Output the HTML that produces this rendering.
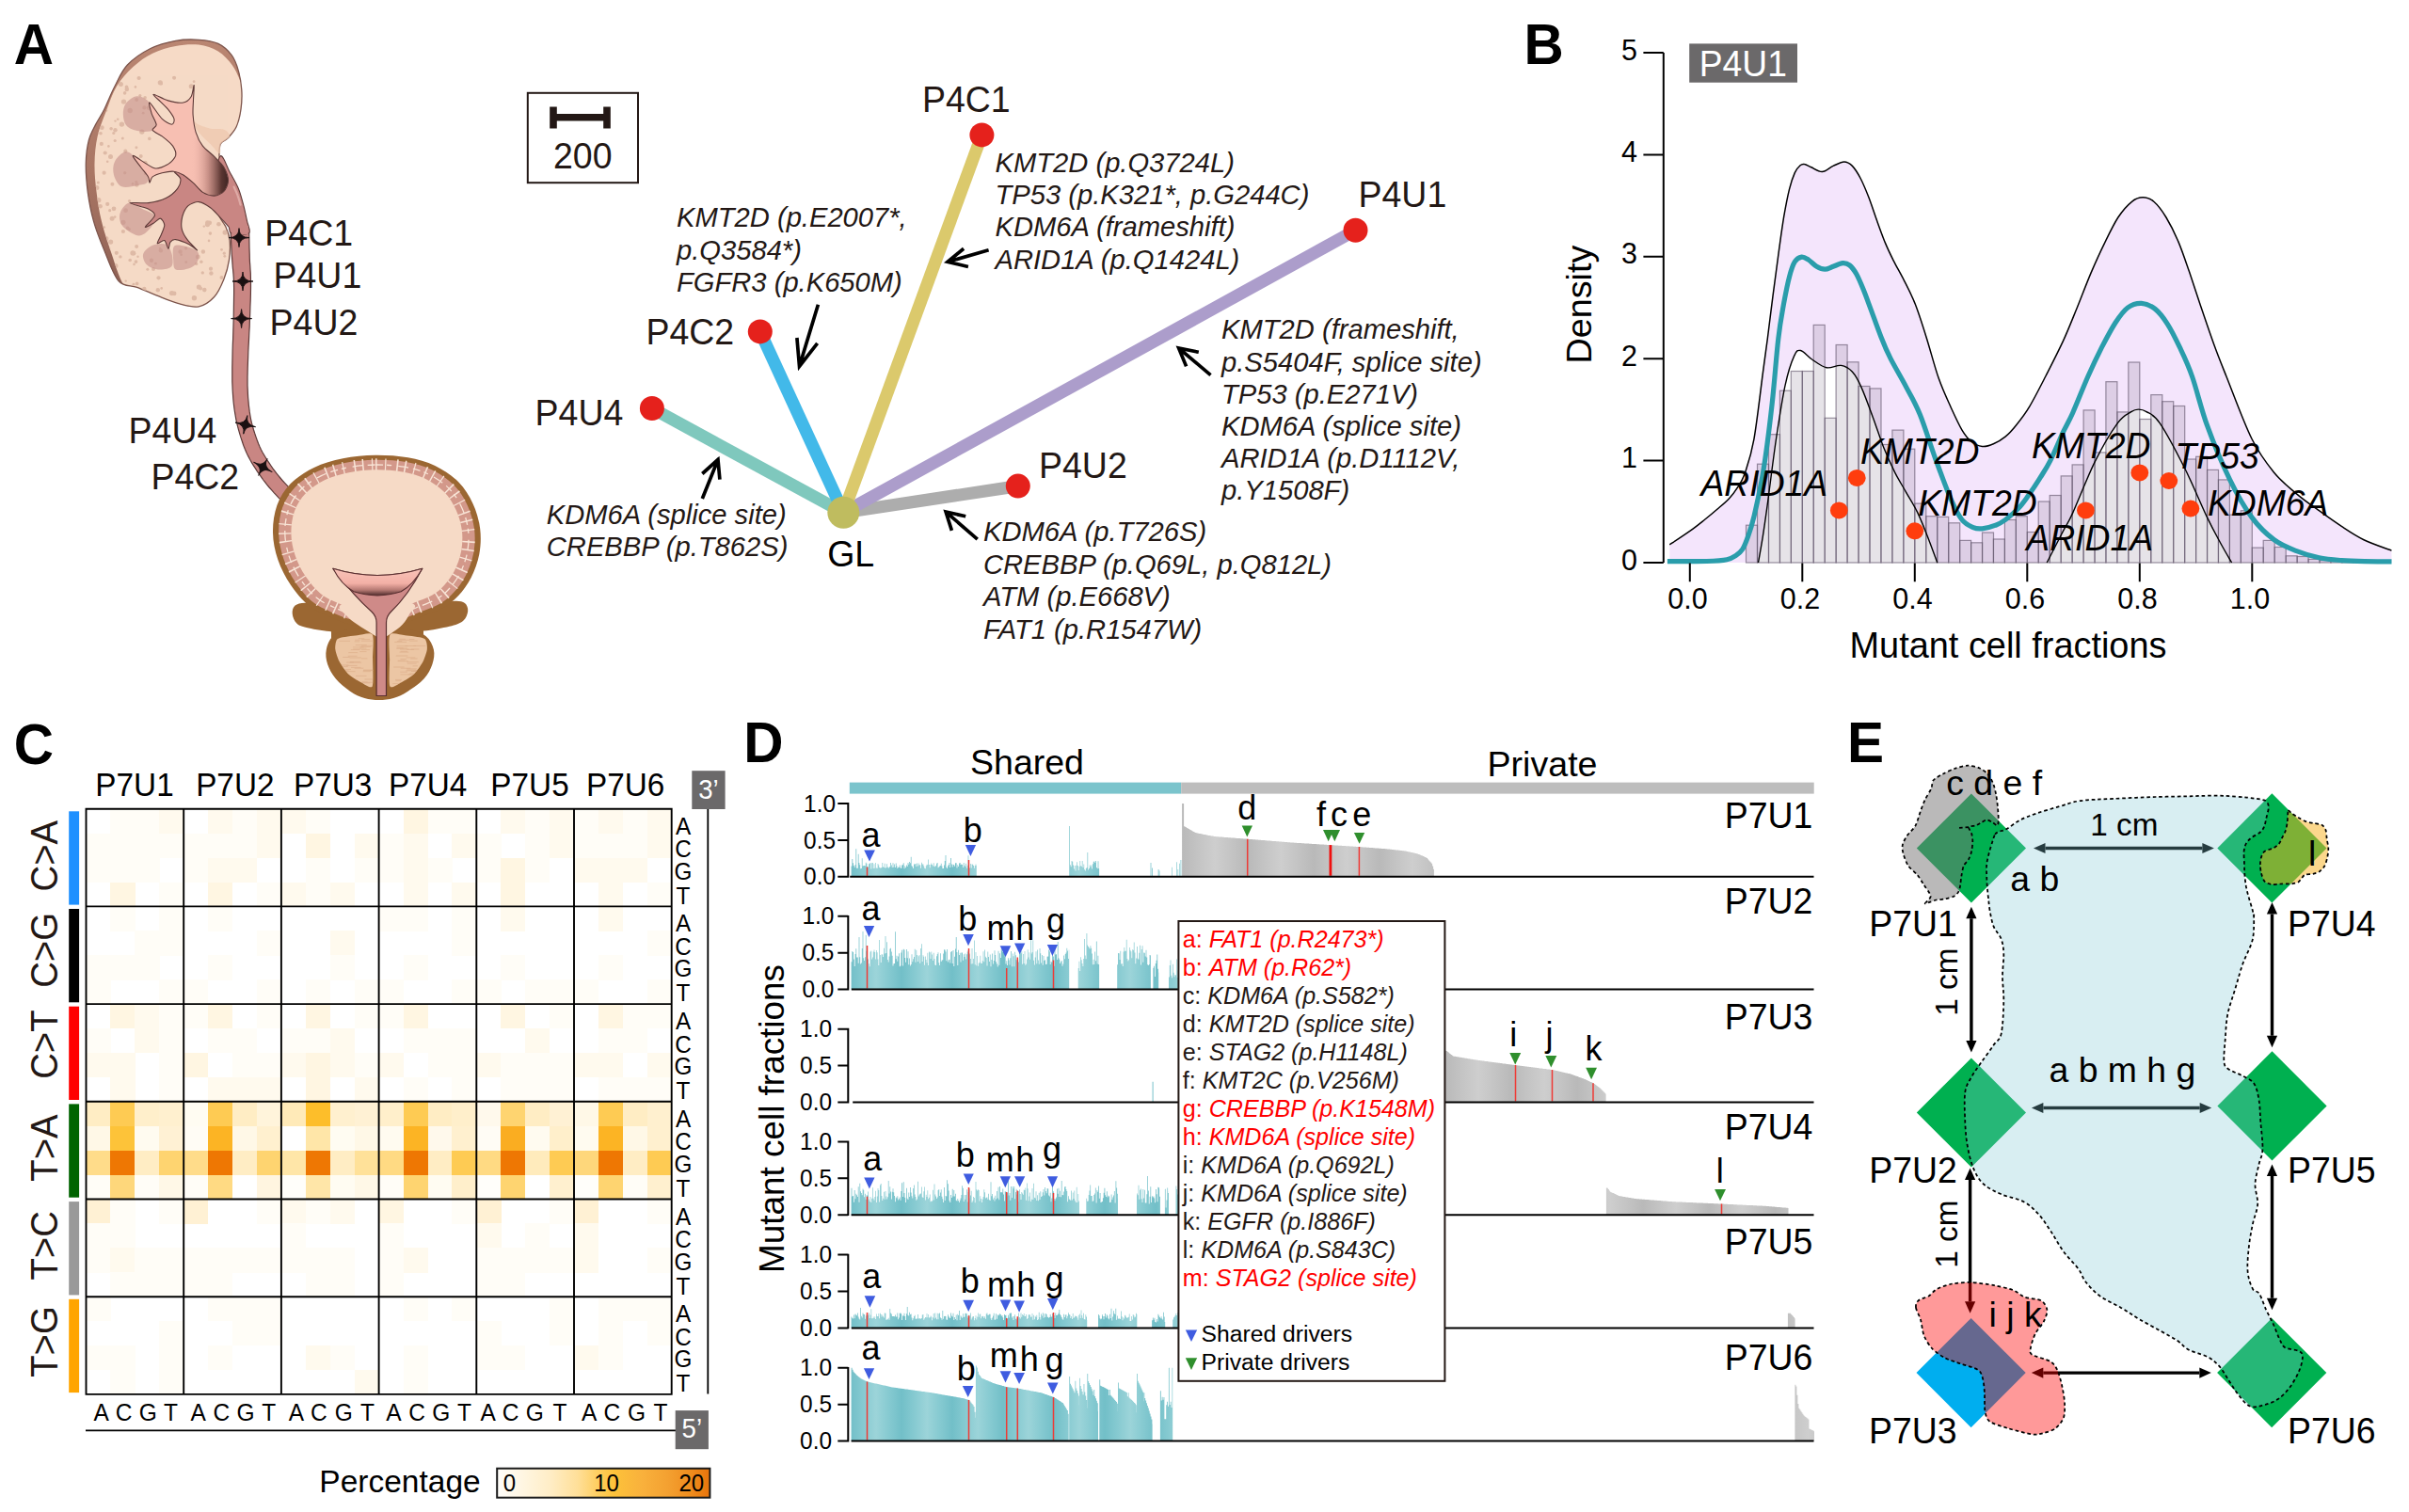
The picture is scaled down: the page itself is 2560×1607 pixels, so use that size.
<!DOCTYPE html>
<html lang="en"><head><meta charset="utf-8"><title>Figure</title>
<style>
html,body{margin:0;padding:0;background:#fff;}
body{width:2560px;height:1607px;overflow:hidden;}
svg{display:block;font-family:"Liberation Sans", sans-serif;}
text{white-space:pre;}
</style></head><body>
<svg width="2560" height="1607" viewBox="0 0 2560 1607">
<rect width="2560" height="1607" fill="#fff"/>
<g id="panelA">
<path d="M245,244.4L245.2,247.8L245.4,252.6L245.7,258.3L246,264.3L246.3,270.2L246.7,275.5L247,280L247.3,284L247.7,287.7L248,291.3L248.3,295.4L248.5,300.1L248.6,305.8L248.6,312.1L248.5,318.9L248.4,325.9L248.3,332.9L248.2,339.7L248,346.5L247.8,353.4L247.6,360.3L247.3,367.1L247.1,373.6L247,379.8L246.9,385.4L246.8,390.7L246.8,395.8L246.8,400.7L246.8,405.5L247,410.2L247.2,414.9L247.5,419.4L247.8,423.8L248.2,428L248.7,432.1L249.2,436L249.8,439.7L250.4,443.2L251,446.6L251.8,450L252.6,453.4L253.6,457.1L254.7,460.9L255.9,464.9L257.3,469L258.7,473.2L260.3,477.3L262,481.2L263.8,484.9L265.7,488.5L267.6,491.9L269.6,495.1L271.6,498.2L273.6,501.3L275.6,504.2L277.7,507.1L279.7,510L281.8,512.7L283.9,515.3L286.1,518L288.5,520.7L291.1,523.6L293.7,526.3L296,528.8L298,530.8L299.4,532.3L310.6,521.7L309.1,520.2L307.1,518.1L304.8,515.7L302.4,513.1L300,510.5L297.9,508L295.9,505.6L293.9,503.2L292,500.7L290.1,498.1L288.3,495.5L286.4,492.7L284.5,489.9L282.7,487L280.9,484L279.1,481L277.5,478L276,474.8L274.6,471.5L273.2,467.8L271.9,464.1L270.6,460.3L269.4,456.5L268.4,452.9L267.5,449.7L266.8,446.6L266.2,443.6L265.7,440.6L265.2,437.4L264.8,434L264.3,430.3L264,426.4L263.6,422.5L263.4,418.4L263.2,414.1L263,409.8L263,405.3L263,400.8L263.1,396.1L263.2,391.1L263.4,385.8L263.6,380.2L263.8,374.2L264.1,367.7L264.5,361L264.8,354L265.2,347.1L265.4,340.3L265.7,333.4L265.9,326.3L266.2,319.2L266.4,312.3L266.5,305.8L266.5,299.9L266.4,294.7L266.3,290.2L266,286.2L265.8,282.5L265.5,278.7L265.3,274.5L265.2,269.4L265,263.6L264.9,257.6L264.8,251.9L264.7,247.1L264.6,243.6Z" fill="#c98683" stroke="#5e3a38" stroke-width="1.2" stroke-linejoin="round"/>
<defs><linearGradient id="rim" x1="0" y1="0" x2="0" y2="1"><stop offset="0" stop-color="#ba8672"/><stop offset="0.5" stop-color="#a97664"/><stop offset="1" stop-color="#8a5d52"/></linearGradient><clipPath id="kclip"><path d="M186.7,43.3C195.2,41.8 203.8,41.8 211.3,42.3C218.8,42.8 226,43.7 231.8,46.4C237.6,49.1 242.6,53.9 246.2,58.7C249.7,63.5 251.6,69 253.3,75.1C255.1,81.3 256.4,88.8 256.8,95.6C257.3,102.5 256.9,109.7 256,116.2C255.1,122.6 253.6,129.5 251.3,134.6C249,139.7 244.9,143.8 242.1,146.9C239.2,150 235.8,150 234.3,153.1C232.8,156.2 233,161.3 233,165.4C233,169.5 234.1,172.9 234.3,177.7C234.4,182.5 234.2,188.6 233.8,194.1C233.5,199.6 232.5,205 232.2,210.5C231.9,216 230.5,221.8 231.8,226.9C233.1,232.1 237.9,236.5 240,241.3C242.1,246.1 243.5,249.8 244.1,255.6C244.7,261.5 244.5,269.3 243.5,276.2C242.5,283 240.6,290.1 237.9,296.7C235.3,303.2 232.1,310.7 227.7,315.5C223.2,320.4 217.4,324.6 211.3,325.8C205.1,327 197.9,324.8 190.8,322.9C183.6,321.1 175.7,317.7 168.2,314.7C160.7,311.8 152.6,307.9 145.6,305.3C138.6,302.6 132,305.3 126.2,298.7C120.3,292.2 115.2,276.5 110.8,265.9C106.3,255.3 102.4,245.4 99.5,235.1C96.6,224.9 94.7,214.6 93.3,204.4C92,194.1 91.1,182.8 91.3,173.6C91.5,164.4 92.6,155.8 94.4,149C96.1,142.1 98.8,138 101.5,132.6C104.3,127.1 107.4,123 110.8,116.2C114.2,109.3 117.9,99.4 122.1,91.5C126.2,83.7 129.1,75.6 135.4,69C141.7,62.3 151.5,55.8 160,51.5C168.5,47.3 178.1,44.9 186.7,43.3Z"/></clipPath></defs>
<path d="M186.7,43.3C195.2,41.8 203.8,41.8 211.3,42.3C218.8,42.8 226,43.7 231.8,46.4C237.6,49.1 242.6,53.9 246.2,58.7C249.7,63.5 251.6,69 253.3,75.1C255.1,81.3 256.4,88.8 256.8,95.6C257.3,102.5 256.9,109.7 256,116.2C255.1,122.6 253.6,129.5 251.3,134.6C249,139.7 244.9,143.8 242.1,146.9C239.2,150 235.8,150 234.3,153.1C232.8,156.2 233,161.3 233,165.4C233,169.5 234.1,172.9 234.3,177.7C234.4,182.5 234.2,188.6 233.8,194.1C233.5,199.6 232.5,205 232.2,210.5C231.9,216 230.5,221.8 231.8,226.9C233.1,232.1 237.9,236.5 240,241.3C242.1,246.1 243.5,249.8 244.1,255.6C244.7,261.5 244.5,269.3 243.5,276.2C242.5,283 240.6,290.1 237.9,296.7C235.3,303.2 232.1,310.7 227.7,315.5C223.2,320.4 217.4,324.6 211.3,325.8C205.1,327 197.9,324.8 190.8,322.9C183.6,321.1 175.7,317.7 168.2,314.7C160.7,311.8 152.6,307.9 145.6,305.3C138.6,302.6 132,305.3 126.2,298.7C120.3,292.2 115.2,276.5 110.8,265.9C106.3,255.3 102.4,245.4 99.5,235.1C96.6,224.9 94.7,214.6 93.3,204.4C92,194.1 91.1,182.8 91.3,173.6C91.5,164.4 92.6,155.8 94.4,149C96.1,142.1 98.8,138 101.5,132.6C104.3,127.1 107.4,123 110.8,116.2C114.2,109.3 117.9,99.4 122.1,91.5C126.2,83.7 129.1,75.6 135.4,69C141.7,62.3 151.5,55.8 160,51.5C168.5,47.3 178.1,44.9 186.7,43.3Z" fill="url(#rim)"/>
<defs><clipPath id="kin"><path d="M186.7,48.9C194.9,47.4 203.8,46.7 211.3,47.6C218.8,48.6 225.9,51.1 231.8,54.6C237.7,58.2 242.8,64.1 246.6,69C250.3,73.8 252.4,79.3 254.4,83.7C256.3,88.2 257.8,90.2 258.5,95.6C259.1,101 259.1,109.3 258.5,116.2C257.8,123 256.8,131.2 254.4,136.7C252,142.1 247.2,145.9 244.1,149C241,152.1 237.4,152.4 235.9,155.1C234.4,157.9 235.1,161.6 235.1,165.4C235.1,169.1 235.8,172.9 235.9,177.7C236,182.5 236.2,188.6 235.9,194.1C235.6,199.6 234.5,205 234.3,210.5C234,216 233,221.8 234.3,226.9C235.6,232.1 240,236.5 242.1,241.3C244.1,246.1 245.9,249.8 246.6,255.6C247.2,261.5 246.8,269 245.7,276.2C244.6,283.3 242.8,291.8 240,298.7C237.2,305.6 233.7,312.7 228.9,317.6C224.1,322.4 217.6,326.5 211.3,327.8C204.9,329.1 197.9,327.2 190.8,325.4C183.6,323.6 175.4,319.9 168.2,317.2C161,314.4 153.8,311.3 147.7,309C141.6,306.6 136.8,310.4 131.7,303.2C126.6,296.1 121.3,277.2 117.3,265.9C113.4,254.5 110.4,245.4 107.9,235.1C105.4,224.9 103.8,214.6 102.6,204.4C101.3,194.1 100.3,183.5 100.5,173.6C100.7,163.7 101.5,154.1 103.6,144.9C105.6,135.6 109.4,127.1 112.8,118.2C116.2,109.3 119.3,99.4 124.1,91.5C128.9,83.7 135.2,76.8 141.5,71C147.9,65.2 154.5,60.4 162.1,56.7C169.6,53 178.5,50.4 186.7,48.9Z"/></clipPath></defs>
<path d="M186.7,48.9C194.9,47.4 203.8,46.7 211.3,47.6C218.8,48.6 225.9,51.1 231.8,54.6C237.7,58.2 242.8,64.1 246.6,69C250.3,73.8 252.4,79.3 254.4,83.7C256.3,88.2 257.8,90.2 258.5,95.6C259.1,101 259.1,109.3 258.5,116.2C257.8,123 256.8,131.2 254.4,136.7C252,142.1 247.2,145.9 244.1,149C241,152.1 237.4,152.4 235.9,155.1C234.4,157.9 235.1,161.6 235.1,165.4C235.1,169.1 235.8,172.9 235.9,177.7C236,182.5 236.2,188.6 235.9,194.1C235.6,199.6 234.5,205 234.3,210.5C234,216 233,221.8 234.3,226.9C235.6,232.1 240,236.5 242.1,241.3C244.1,246.1 245.9,249.8 246.6,255.6C247.2,261.5 246.8,269 245.7,276.2C244.6,283.3 242.8,291.8 240,298.7C237.2,305.6 233.7,312.7 228.9,317.6C224.1,322.4 217.6,326.5 211.3,327.8C204.9,329.1 197.9,327.2 190.8,325.4C183.6,323.6 175.4,319.9 168.2,317.2C161,314.4 153.8,311.3 147.7,309C141.6,306.6 136.8,310.4 131.7,303.2C126.6,296.1 121.3,277.2 117.3,265.9C113.4,254.5 110.4,245.4 107.9,235.1C105.4,224.9 103.8,214.6 102.6,204.4C101.3,194.1 100.3,183.5 100.5,173.6C100.7,163.7 101.5,154.1 103.6,144.9C105.6,135.6 109.4,127.1 112.8,118.2C116.2,109.3 119.3,99.4 124.1,91.5C128.9,83.7 135.2,76.8 141.5,71C147.9,65.2 154.5,60.4 162.1,56.7C169.6,53 178.5,50.4 186.7,48.9Z" fill="#f6dac6" clip-path="url(#kclip)"/>
<path d="M186.7,43.3C195.2,41.8 203.8,41.8 211.3,42.3C218.8,42.8 226,43.7 231.8,46.4C237.6,49.1 242.6,53.9 246.2,58.7C249.7,63.5 251.6,69 253.3,75.1C255.1,81.3 256.4,88.8 256.8,95.6C257.3,102.5 256.9,109.7 256,116.2C255.1,122.6 253.6,129.5 251.3,134.6C249,139.7 244.9,143.8 242.1,146.9C239.2,150 235.8,150 234.3,153.1C232.8,156.2 233,161.3 233,165.4C233,169.5 234.1,172.9 234.3,177.7C234.4,182.5 234.2,188.6 233.8,194.1C233.5,199.6 232.5,205 232.2,210.5C231.9,216 230.5,221.8 231.8,226.9C233.1,232.1 237.9,236.5 240,241.3C242.1,246.1 243.5,249.8 244.1,255.6C244.7,261.5 244.5,269.3 243.5,276.2C242.5,283 240.6,290.1 237.9,296.7C235.3,303.2 232.1,310.7 227.7,315.5C223.2,320.4 217.4,324.6 211.3,325.8C205.1,327 197.9,324.8 190.8,322.9C183.6,321.1 175.7,317.7 168.2,314.7C160.7,311.8 152.6,307.9 145.6,305.3C138.6,302.6 132,305.3 126.2,298.7C120.3,292.2 115.2,276.5 110.8,265.9C106.3,255.3 102.4,245.4 99.5,235.1C96.6,224.9 94.7,214.6 93.3,204.4C92,194.1 91.1,182.8 91.3,173.6C91.5,164.4 92.6,155.8 94.4,149C96.1,142.1 98.8,138 101.5,132.6C104.3,127.1 107.4,123 110.8,116.2C114.2,109.3 117.9,99.4 122.1,91.5C126.2,83.7 129.1,75.6 135.4,69C141.7,62.3 151.5,55.8 160,51.5C168.5,47.3 178.1,44.9 186.7,43.3Z" fill="none" stroke="#7d554c" stroke-width="1.3"/>
<path d="M203.1,126.4C203.1,125 207.9,130.9 211.3,132.6C214.7,134.3 219.1,135.8 223.6,136.7C228,137.5 234.5,136.3 237.9,137.7C241.4,139.1 244.6,142.4 244.1,144.9C243.6,147.4 236.6,149.6 234.9,152.7C233.1,155.7 235.3,163.3 233.4,163.3C231.6,163.4 227.3,156.8 223.6,153.1C219.9,149.3 214.7,145.2 211.3,140.8C207.9,136.3 203.1,127.8 203.1,126.4Z" fill="#eec7ae" opacity="0.75"/>
<g clip-path="url(#kclip)"><g fill="#dcb6a2" opacity="0.9" clip-path="url(#kin)"><circle cx="217.3" cy="308.1" r="2.3"/><circle cx="167.8" cy="308.3" r="2.2"/><circle cx="100" cy="132.4" r="1.6"/><circle cx="235.5" cy="265.3" r="1.4"/><circle cx="129.4" cy="132.1" r="2.7"/><circle cx="239.1" cy="247.1" r="2.6"/><circle cx="152.2" cy="120.2" r="1.4"/><circle cx="107.8" cy="152.9" r="2.1"/><circle cx="98.5" cy="244.1" r="1.7"/><circle cx="144.5" cy="278.1" r="1.9"/><circle cx="145.4" cy="196.5" r="2.3"/><circle cx="101.4" cy="261.5" r="2.5"/><circle cx="100.7" cy="270.6" r="1.7"/><circle cx="184.8" cy="82.2" r="1.3"/><circle cx="125.1" cy="311.2" r="1.5"/><circle cx="211.4" cy="305" r="2.6"/><circle cx="149.7" cy="165.9" r="2"/><circle cx="210.3" cy="272.9" r="2.5"/><circle cx="111.7" cy="162.5" r="2.1"/><circle cx="144.9" cy="156.7" r="1.5"/><circle cx="109.7" cy="116" r="2.2"/><circle cx="133.6" cy="223.7" r="2.4"/><circle cx="102.9" cy="199.4" r="2.5"/><circle cx="117.6" cy="257.1" r="2.6"/><circle cx="192.6" cy="270.7" r="1.4"/><circle cx="166" cy="321.8" r="2.5"/><circle cx="158.6" cy="115.5" r="1.8"/><circle cx="148.8" cy="101.6" r="1.6"/><circle cx="215.3" cy="289.9" r="1.7"/><circle cx="215.9" cy="267.5" r="2.2"/><circle cx="197.6" cy="263.8" r="1.7"/><circle cx="170.9" cy="266.3" r="2.2"/><circle cx="142.1" cy="308.8" r="2.2"/><circle cx="185.1" cy="82.8" r="2"/><circle cx="135.6" cy="242.5" r="1.9"/><circle cx="220.5" cy="236.7" r="2.4"/><circle cx="208.7" cy="280.4" r="1.7"/><circle cx="224.4" cy="290.5" r="2.2"/><circle cx="122.9" cy="282.5" r="2.6"/><circle cx="123.8" cy="268.8" r="2.1"/><circle cx="191.6" cy="267.5" r="2.2"/><circle cx="206.1" cy="86.7" r="1.4"/><circle cx="130.9" cy="246" r="2.1"/><circle cx="104.3" cy="194.1" r="1.5"/><circle cx="106.1" cy="112.3" r="1.7"/><circle cx="125.2" cy="126.8" r="1.3"/><circle cx="133.7" cy="298.6" r="1.2"/><circle cx="158.8" cy="147.4" r="1.8"/><circle cx="115.3" cy="281.2" r="1.8"/><circle cx="103.4" cy="228.5" r="1.3"/><circle cx="185.1" cy="311.9" r="2.4"/><circle cx="160.9" cy="276.7" r="2.2"/><circle cx="153.4" cy="114.4" r="2.1"/><circle cx="182.6" cy="311.6" r="2.7"/><circle cx="114.2" cy="216.9" r="2.1"/><circle cx="119.1" cy="232.3" r="2.5"/><circle cx="154.4" cy="184.5" r="1.5"/><circle cx="141.7" cy="315.3" r="1.8"/><circle cx="141" cy="195.4" r="1.4"/><circle cx="142" cy="269.2" r="2.4"/><circle cx="100" cy="208.9" r="1.6"/><circle cx="238.3" cy="269.2" r="1.6"/><circle cx="138.2" cy="117.5" r="2.7"/><circle cx="115.7" cy="264" r="1.7"/><circle cx="103.5" cy="141.1" r="1.9"/><circle cx="235.5" cy="294.9" r="2"/><circle cx="100.2" cy="268.4" r="1.8"/><circle cx="156.8" cy="286.2" r="1.5"/><circle cx="142.5" cy="280.9" r="1.3"/><circle cx="223.4" cy="248.1" r="1.8"/><circle cx="141" cy="268.9" r="2.6"/><circle cx="119.4" cy="195.8" r="2"/><circle cx="121" cy="221.8" r="2.4"/><circle cx="108.3" cy="135.7" r="2.4"/><circle cx="216.8" cy="240.6" r="1.2"/><circle cx="206.4" cy="316.8" r="2.7"/><circle cx="203.2" cy="91.8" r="2.5"/><circle cx="130.9" cy="236.3" r="2.6"/><circle cx="141.9" cy="302.2" r="1.4"/><circle cx="122.2" cy="230.6" r="1.3"/><circle cx="114.2" cy="171.8" r="1.3"/><circle cx="106.6" cy="219.2" r="2.3"/><circle cx="106.4" cy="248.7" r="1.4"/><circle cx="234.6" cy="214.3" r="2.1"/><circle cx="137.5" cy="213.5" r="1.6"/><circle cx="118.1" cy="136.7" r="1.8"/><circle cx="110.8" cy="241.6" r="1.3"/><circle cx="116.7" cy="223.7" r="1.6"/><circle cx="146.5" cy="272.7" r="1.2"/><circle cx="120.6" cy="310.4" r="2.2"/><circle cx="131.5" cy="108.1" r="2.7"/><circle cx="197.8" cy="278.6" r="1.4"/><circle cx="133.3" cy="160.7" r="2.1"/><circle cx="150.3" cy="173.4" r="1.4"/><circle cx="222.7" cy="236.8" r="2.4"/><circle cx="163" cy="286.1" r="2"/><circle cx="128.4" cy="89.5" r="2.5"/><circle cx="170.1" cy="264" r="1.2"/><circle cx="168.5" cy="295.3" r="2.1"/><circle cx="113" cy="117.4" r="1.4"/><circle cx="154.2" cy="173.3" r="2.5"/><circle cx="120.8" cy="141.5" r="1.6"/><circle cx="122.2" cy="149.5" r="1.6"/><circle cx="170.3" cy="87.8" r="2.6"/><circle cx="153.3" cy="307" r="2.2"/><circle cx="122.5" cy="128.6" r="1.2"/><circle cx="132.6" cy="98.9" r="1.8"/><circle cx="144.8" cy="193.3" r="1.6"/><circle cx="122.5" cy="138.2" r="2.2"/><circle cx="239.1" cy="236.3" r="1.8"/><circle cx="107.1" cy="268.6" r="1.8"/><circle cx="104.7" cy="212.7" r="2.7"/><circle cx="112.1" cy="97.2" r="2.5"/><circle cx="171.7" cy="306.4" r="1.3"/><circle cx="134.5" cy="92.2" r="1.8"/><circle cx="107" cy="141.8" r="1.8"/><circle cx="143.9" cy="92.4" r="1.3"/><circle cx="145.1" cy="106.1" r="2"/><circle cx="100.6" cy="210.6" r="1.9"/><circle cx="165.4" cy="280" r="1.5"/><circle cx="115.4" cy="155.4" r="1.3"/><circle cx="213.9" cy="278.3" r="1.7"/><circle cx="117.5" cy="99.8" r="1.6"/><circle cx="110.6" cy="183.7" r="2.1"/><circle cx="134.8" cy="94.9" r="2.3"/><circle cx="105.2" cy="128.4" r="1.6"/><circle cx="154.1" cy="103.8" r="1.8"/><circle cx="145.1" cy="262.1" r="2"/><circle cx="232.4" cy="238.3" r="2.3"/><circle cx="220.5" cy="238.6" r="2.6"/><circle cx="138.2" cy="276.5" r="1.8"/><circle cx="117.5" cy="96" r="1.5"/><circle cx="137.4" cy="243.6" r="1.6"/><circle cx="107.5" cy="264.8" r="2"/><circle cx="117.5" cy="166.4" r="2.5"/><circle cx="132.7" cy="183.8" r="1.7"/><circle cx="147.6" cy="83" r="2.1"/><circle cx="222" cy="255.9" r="1.3"/><circle cx="238.8" cy="272.3" r="1.4"/><circle cx="145.6" cy="301.4" r="1.9"/><circle cx="213.1" cy="306.6" r="2"/><circle cx="113.5" cy="277.1" r="1.8"/><circle cx="102.9" cy="219.6" r="1.9"/><circle cx="130.3" cy="147" r="1.5"/><circle cx="150.8" cy="140.1" r="2.7"/><circle cx="224" cy="285.7" r="2.1"/><circle cx="158.1" cy="114.6" r="2.4"/><circle cx="171.5" cy="89.1" r="1.5"/><circle cx="112.8" cy="253.7" r="2.6"/><circle cx="127.9" cy="272.9" r="1.7"/></g></g>
<path d="M133.7,110C136.2,106.6 141.4,102.4 145.6,102.2C149.8,102 155.6,104.9 159,109C162.4,113 165.3,121.6 166.2,126.4C167,131.2 166.8,135.5 164.1,137.7C161.4,139.9 154.5,140.3 149.7,139.7C145,139.2 138.5,137.5 135.4,134.6C132.2,131.7 131.1,126.4 130.9,122.3C130.6,118.2 131.3,113.4 133.7,110Z" fill="#c48f8a" opacity="0.6"/>
<path d="M122.1,171.5C124.2,167.4 129.8,161.6 133.7,161.3C137.7,160.9 141.9,165.4 145.6,169.5C149.4,173.6 154.5,181.8 156.3,185.9C158.1,190 158.1,192.2 156.3,194.1C154.5,196 150.2,196.5 145.6,197.2C141.1,197.9 133.3,200.1 129.2,198.2C125.1,196.3 122.2,190.3 121,185.9C119.8,181.5 119.9,175.6 122.1,171.5Z" fill="#c48f8a" opacity="0.6"/>
<path d="M128.2,224.9C129.8,221.6 133.7,216.2 137.4,215.6C141.2,215.1 146.2,219.4 150.8,221.8C155.4,224.2 163.8,226.4 165.1,230C166.5,233.6 161.9,239.9 159,243.3C156.1,246.8 152,250.5 147.7,250.5C143.4,250.5 136.7,245.9 133.3,243.3C130,240.8 128.4,238.2 127.6,235.1C126.7,232.1 126.6,228.1 128.2,224.9Z" fill="#c48f8a" opacity="0.6"/>
<path d="M152.2,270C153.2,266.6 158,262.5 162.1,260.8C166.1,259.1 173,258.2 176.4,259.7C179.8,261.3 181.6,266.1 182.6,270C183.5,273.9 184.5,280.6 182.2,283.3C179.8,286.1 172.6,286.8 168.2,286.4C163.8,286.1 158.6,284 155.9,281.3C153.2,278.5 151.2,273.4 152.2,270Z" fill="#c48f8a" opacity="0.6"/>
<path d="M185,261.8C187.1,259.4 192.7,260.8 196.9,261.8C201.1,262.8 208.2,265 210.3,267.9C212.3,270.9 210.9,276.3 209.2,279.2C207.5,282.1 203.8,284.2 200,285.4C196.2,286.6 189.3,287.9 186.7,286.4C184,284.9 184.5,280.3 184.2,276.2C183.9,272.1 182.9,264.2 185,261.8Z" fill="#c48f8a" opacity="0.6"/>
<path d="M185,182.2C185.5,181.4 191.9,182.7 194.9,184.3C197.9,185.8 203.1,190.2 206.2,193.1C209.2,195.9 213.8,204.2 216.4,204.4C219,204.5 222.1,199.6 224.6,194.1C227.2,188.6 231.5,167.4 234.3,165.8C237,164.2 241.4,177.9 244.1,182.8C246.8,187.7 251.2,195.1 253.3,200.3C255.4,205.4 257.6,213.7 258.9,218.7C260.2,223.7 261.7,231 262.6,235.1C263.4,239.3 267,246 264.6,247.8C262.2,249.7 248.8,248.8 245.7,247.8C242.7,246.9 244.6,243.5 243.1,241.3C241.5,239 237.7,235 234.9,232.1C232.1,229.1 227,223.3 223.6,220.8C220.2,218.3 214.7,214.9 211.3,214.6C207.9,214.3 202.5,216.5 200,218.7C197.5,220.9 194.8,226.5 193.8,230C192.9,233.5 192.5,239.8 193.2,243.3C194,246.8 196.6,251.4 199,254.6C201.3,257.8 209.3,265.2 209.6,265.9C209.9,266.6 204.3,261.4 201,259.7C197.7,258.1 189.5,255 186.7,254.6C183.8,254.3 182,255.9 180.9,257.3C179.8,258.7 179.8,264.5 178.9,264.3C178,264 176.4,256.4 174.8,255.6C173.1,254.8 167.7,259.6 167.2,258.7C166.7,257.8 170.2,252.3 171.3,249.5C172.4,246.7 174.9,241.7 174.8,239.2C174.6,236.7 171.9,232.3 170.3,232.1C168.6,231.8 165.4,235.9 163.1,237.2C160.8,238.5 154.1,242.5 154.3,241.3C154.5,240.1 164.1,231.8 164.5,229C164.9,226.2 160.7,223.7 156.9,221.8C153.1,219.9 137.7,216.5 137.8,215.6C138,214.8 152.4,216.4 157.9,215.6C163.5,214.9 172,212.7 176.4,210.5C180.8,208.3 186.5,203.2 188.7,200.3C190.9,197.3 192.3,192.6 191.8,190C191.3,187.4 184.6,183 185,182.2Z" fill="#c98683" stroke="#5e3a38" stroke-width="1.1" stroke-linejoin="round"/>
<path d="M248.6,198.6C249.3,200.2 251.6,204.9 252.7,208.1C253.9,211.2 255.1,216.1 255.6,217.7" fill="none" stroke="#e3b3ae" stroke-width="2.2" stroke-linecap="round" opacity="0.8"/>
<defs><radialGradient id="pelv" gradientUnits="userSpaceOnUse" cx="238.4" cy="194.1" r="26"><stop offset="0" stop-color="#3f2422"/><stop offset="0.35" stop-color="#6e4641"/><stop offset="0.7" stop-color="#c9938a"/><stop offset="1" stop-color="#f7bfb2"/></radialGradient></defs>
<defs><clipPath id="pclip"><path d="M206.2,90.5C205.8,90.1 204.7,100.2 203.1,102.8C201.5,105.5 198.4,108.4 194.9,109C191.4,109.6 183,108.2 178.5,106.9C173.9,105.7 164.2,100 163.1,100.2C161.9,100.3 168.1,105.7 170.3,107.9C172.5,110.2 176.4,113.5 178.5,116.2C180.6,118.8 184.4,124.1 185,126.4C185.6,128.7 184.4,132.2 182.6,132.2C180.7,132.2 175.7,129.7 172.3,126.4C168.9,123.1 160.6,109.9 159,109C157.4,108.1 160,116.9 161,120.3C162.1,123.6 166,130 166.2,132.6C166.3,135.1 161.2,136.5 162.1,138.3C162.9,140.1 169.2,142.5 172.3,144.9C175.4,147.3 181.5,152.2 183.6,155.1C185.6,158.1 187.4,162.6 186.7,165.4C185.9,168.2 181.7,172.7 178.5,174.6C175.2,176.5 169.4,180 164.1,178.7C158.8,177.4 143.6,165.5 141.5,165.4C139.5,165.2 147.5,174.5 149.7,177.7C152,180.9 156.2,185.6 157.5,187.9C158.9,190.3 158.3,194.1 159,194.1C159.6,194.1 160.1,189.4 162.1,187.9C164,186.5 169.1,184.7 172.3,183.8C175.5,183 181.4,181.9 184.6,182.2C187.8,182.5 191.9,184.2 194.9,185.9C197.8,187.6 202.2,191.5 205.1,194.1C208.1,196.7 212.2,202.4 215.4,204.4C218.6,206.4 224.5,208.2 227.7,208.1C230.9,207.9 235.8,205.6 237.9,203.3C240.1,201 242.5,195.7 242.5,192.1C242.5,188.4 240.1,181.4 237.9,177.7C235.8,174 230.9,169.6 227.7,166.4C224.5,163.2 218.2,158.8 215.4,155.1C212.6,151.5 209.7,145.5 208.2,140.8C206.7,136.1 205.5,127.3 205.1,122.3C204.7,117.3 205.4,110.4 205.5,105.9C205.7,101.4 206.5,91 206.2,90.5Z"/></clipPath><linearGradient id="cup" gradientUnits="userSpaceOnUse" x1="203.1" y1="0" x2="243.1" y2="0"><stop offset="0" stop-color="#f7bfb2" stop-opacity="0"/><stop offset="0.45" stop-color="#b98179" stop-opacity="0.75"/><stop offset="0.8" stop-color="#5b3632"/><stop offset="1" stop-color="#3d2321"/></linearGradient></defs>
<path d="M206.2,90.5C205.8,90.1 204.7,100.2 203.1,102.8C201.5,105.5 198.4,108.4 194.9,109C191.4,109.6 183,108.2 178.5,106.9C173.9,105.7 164.2,100 163.1,100.2C161.9,100.3 168.1,105.7 170.3,107.9C172.5,110.2 176.4,113.5 178.5,116.2C180.6,118.8 184.4,124.1 185,126.4C185.6,128.7 184.4,132.2 182.6,132.2C180.7,132.2 175.7,129.7 172.3,126.4C168.9,123.1 160.6,109.9 159,109C157.4,108.1 160,116.9 161,120.3C162.1,123.6 166,130 166.2,132.6C166.3,135.1 161.2,136.5 162.1,138.3C162.9,140.1 169.2,142.5 172.3,144.9C175.4,147.3 181.5,152.2 183.6,155.1C185.6,158.1 187.4,162.6 186.7,165.4C185.9,168.2 181.7,172.7 178.5,174.6C175.2,176.5 169.4,180 164.1,178.7C158.8,177.4 143.6,165.5 141.5,165.4C139.5,165.2 147.5,174.5 149.7,177.7C152,180.9 156.2,185.6 157.5,187.9C158.9,190.3 158.3,194.1 159,194.1C159.6,194.1 160.1,189.4 162.1,187.9C164,186.5 169.1,184.7 172.3,183.8C175.5,183 181.4,181.9 184.6,182.2C187.8,182.5 191.9,184.2 194.9,185.9C197.8,187.6 202.2,191.5 205.1,194.1C208.1,196.7 212.2,202.4 215.4,204.4C218.6,206.4 224.5,208.2 227.7,208.1C230.9,207.9 235.8,205.6 237.9,203.3C240.1,201 242.5,195.7 242.5,192.1C242.5,188.4 240.1,181.4 237.9,177.7C235.8,174 230.9,169.6 227.7,166.4C224.5,163.2 218.2,158.8 215.4,155.1C212.6,151.5 209.7,145.5 208.2,140.8C206.7,136.1 205.5,127.3 205.1,122.3C204.7,117.3 205.4,110.4 205.5,105.9C205.7,101.4 206.5,91 206.2,90.5Z" fill="#f7bfb2"/>
<path d="M201,144.9C205.1,144.2 213.7,149 219.5,153.1C225.3,157.2 231.8,164 235.9,169.5C240,175 242.7,180.8 244.1,185.9C245.5,191 245.1,196.5 244.1,200.3C243.1,204 240.9,206.8 237.9,208.5C235,210.2 230.4,210.9 226.7,210.5C222.9,210.2 218.8,208.8 215.4,206.4C212,204 208.7,199.6 206.2,196.2C203.6,192.7 201.9,189.7 200,185.9C198.1,182.1 195.7,178.4 194.9,173.6C194,168.8 193.8,162 194.9,157.2C195.9,152.4 196.9,145.6 201,144.9Z" fill="url(#cup)" clip-path="url(#pclip)"/>
<path d="M206.2,90.5C205.8,90.1 204.7,100.2 203.1,102.8C201.5,105.5 198.4,108.4 194.9,109C191.4,109.6 183,108.2 178.5,106.9C173.9,105.7 164.2,100 163.1,100.2C161.9,100.3 168.1,105.7 170.3,107.9C172.5,110.2 176.4,113.5 178.5,116.2C180.6,118.8 184.4,124.1 185,126.4C185.6,128.7 184.4,132.2 182.6,132.2C180.7,132.2 175.7,129.7 172.3,126.4C168.9,123.1 160.6,109.9 159,109C157.4,108.1 160,116.9 161,120.3C162.1,123.6 166,130 166.2,132.6C166.3,135.1 161.2,136.5 162.1,138.3C162.9,140.1 169.2,142.5 172.3,144.9C175.4,147.3 181.5,152.2 183.6,155.1C185.6,158.1 187.4,162.6 186.7,165.4C185.9,168.2 181.7,172.7 178.5,174.6C175.2,176.5 169.4,180 164.1,178.7C158.8,177.4 143.6,165.5 141.5,165.4C139.5,165.2 147.5,174.5 149.7,177.7C152,180.9 156.2,185.6 157.5,187.9C158.9,190.3 158.3,194.1 159,194.1C159.6,194.1 160.1,189.4 162.1,187.9C164,186.5 169.1,184.7 172.3,183.8C175.5,183 181.4,181.9 184.6,182.2C187.8,182.5 191.9,184.2 194.9,185.9C197.8,187.6 202.2,191.5 205.1,194.1C208.1,196.7 212.2,202.4 215.4,204.4C218.6,206.4 224.5,208.2 227.7,208.1C230.9,207.9 235.8,205.6 237.9,203.3C240.1,201 242.5,195.7 242.5,192.1C242.5,188.4 240.1,181.4 237.9,177.7C235.8,174 230.9,169.6 227.7,166.4C224.5,163.2 218.2,158.8 215.4,155.1C212.6,151.5 209.7,145.5 208.2,140.8C206.7,136.1 205.5,127.3 205.1,122.3C204.7,117.3 205.4,110.4 205.5,105.9C205.7,101.4 206.5,91 206.2,90.5Z" fill="none" stroke="#5e3a38" stroke-width="1.1" stroke-linejoin="round"/>
<rect x="246.2" y="240" width="17.6" height="9" fill="#c98683"/>
<path d="M310.7,652.3C310.4,649.1 311.3,645.5 313.6,643.6C315.8,641.7 319.2,640.7 324.1,640.7C329.1,640.7 336,641.4 343.3,643.6C350.7,645.9 363.8,649.9 368.2,654.2C372.7,658.5 372.7,666.6 370.2,669.5C367.6,672.4 359.9,671.8 352.9,671.4C345.9,671.1 334.2,669 328,667.6C321.7,666.2 318.4,665.4 315.5,662.8C312.6,660.2 311,655.5 310.7,652.3Z" fill="#9b6732"/>
<path d="M497.2,649.4C497.5,646.2 496.2,642.9 493.9,641.1C491.6,639.4 488.3,638.6 483.4,638.8C478.4,639.1 472.2,640.3 464.2,642.7C456.2,645.1 440.5,648.7 435.4,653.2C430.3,657.7 430.9,666.6 433.5,669.5C436,672.4 443.4,671.1 450.7,670.5C458.1,669.8 470.7,667.4 477.6,665.7C484.5,663.9 488.7,662.6 492,659.9C495.3,657.2 496.9,652.5 497.2,649.4Z" fill="#9b6732"/>
<path d="M352,650 H450 V700 H352 Z" fill="#9b6732"/>
<path d="M402.8,667.6C413,667.6 425.2,667.1 433.5,668.6C441.8,670 448.1,672.6 452.7,676.2C457.2,679.9 459.8,685.7 460.9,690.6C462,695.6 461.1,700.9 459.4,706C457.7,711.1 455.1,716.5 450.7,721.3C446.4,726.1 438.9,731.3 433.5,734.7C428,738.2 423.2,740.5 418.1,742C413,743.6 407.9,744 402.8,744C397.7,744 392.5,743.6 387.4,742C382.3,740.5 377.2,738.2 372.1,734.7C367,731.3 360.7,726.1 356.7,721.3C352.7,716.5 349.8,711.1 348.1,706C346.4,700.9 345.8,695.6 346.8,690.6C347.7,685.7 349.6,679.9 353.9,676.2C358.1,672.6 363.9,670 372.1,668.6C380.2,667.1 392.5,667.6 402.8,667.6Z" fill="#9b6732"/>
<path d="M398.9,483.8C410.5,483.7 422.9,484.5 433.5,486.3C444,488.2 453.3,490.6 462.3,494.9C471.2,499.3 480.5,505.5 487.2,512.2C493.9,518.9 498.7,526.9 502.5,535.2C506.4,543.5 509.1,553.1 510.2,562.1C511.3,571 510.9,580.3 509.3,588.9C507.7,597.6 504.3,606.5 500.6,613.9C496.9,621.2 492,627.8 487.2,633.1C482.4,638.3 478.2,641.9 471.8,645.5C465.5,649.2 456.5,652.1 448.8,655.1C441.2,658.2 434.1,661.7 425.8,663.8C417.5,665.8 407.9,667.6 398.9,667.6C390,667.6 380.4,665.8 372.1,663.8C363.8,661.7 356.4,658.5 349.1,655.1C341.7,651.8 334.7,649.2 328,643.6C321.2,638 314.2,629.7 308.8,621.6C303.3,613.4 298.5,604 295.3,594.7C292.2,585.4 290.1,575.5 290,565.9C289.8,556.3 291.3,545.8 294.4,537.1C297.5,528.5 302.2,520.8 308.8,514.1C315.3,507.4 324.4,501.3 333.7,496.9C343,492.4 353.5,489.4 364.4,487.3C375.3,485.1 387.4,484 398.9,483.8Z" fill="#9b6732"/>
<path d="M399,488.8C409.9,488.6 421.7,489.4 431.6,491.1C441.6,492.9 450.3,495.2 458.8,499.3C467.2,503.3 476,509.2 482.3,515.6C488.7,521.9 493.2,529.4 496.8,537.3C500.4,545.1 503,554.2 504.1,562.6C505.1,571.1 504.7,579.8 503.2,588C501.6,596.1 498.5,604.6 495,611.5C491.5,618.5 486.9,624.7 482.3,629.6C477.8,634.6 473.9,638 467.8,641.4C461.8,644.9 453.4,647.6 446.1,650.5C438.9,653.3 432.2,656.7 424.4,658.6C416.5,660.6 407.5,662.2 399,662.2C390.6,662.2 381.5,660.6 373.7,658.6C365.8,656.7 358.9,653.6 351.9,650.5C345,647.3 338.4,644.9 332,639.6C325.7,634.3 319,626.5 313.9,618.8C308.8,611.1 304.2,602.2 301.2,593.4C298.3,584.7 296.3,575.3 296.2,566.3C296,557.2 297.4,547.2 300.3,539.1C303.3,530.9 307.7,523.7 313.9,517.4C320.1,511 328.7,505.3 337.4,501.1C346.2,496.8 356.2,494.1 366.4,492C376.7,490 388.2,488.9 399,488.8Z" fill="#d3988a"/>
<path d="M399.1,494C409.3,493.9 420.3,494.6 429.6,496.2C439,497.9 447.2,500.1 455.1,503.9C463,507.7 471.2,513.2 477.1,519.1C483.1,525.1 487.3,532.1 490.7,539.5C494.1,546.8 496.5,555.3 497.5,563.2C498.5,571.2 498,579.3 496.6,587C495.2,594.6 492.2,602.5 489,609C485.7,615.5 481.4,621.3 477.1,626C472.9,630.6 469.2,633.8 463.5,637C457.9,640.3 450,642.8 443.2,645.5C436.4,648.2 430.2,651.3 422.8,653.1C415.5,655 407,656.5 399.1,656.5C391.2,656.5 382.7,655 375.4,653.1C368,651.3 361.5,648.5 355,645.5C348.5,642.5 342.3,640.3 336.4,635.3C330.4,630.4 324.2,623 319.4,615.8C314.6,608.6 310.3,600.3 307.5,592.1C304.8,583.9 302.9,575.1 302.8,566.6C302.6,558.1 303.9,548.8 306.7,541.2C309.4,533.6 313.6,526.8 319.4,520.8C325.2,514.9 333.2,509.5 341.4,505.6C349.6,501.6 359,499 368.6,497.1C378.2,495.2 388.9,494.2 399.1,494Z" fill="none" stroke="#f8e4d6" stroke-width="13.5" stroke-dasharray="1.5 8.5 1.2 11 1.6 7"/>
<path d="M399.1,494C409.3,493.9 420.3,494.6 429.6,496.2C439,497.9 447.2,500.1 455.1,503.9C463,507.7 471.2,513.2 477.1,519.1C483.1,525.1 487.3,532.1 490.7,539.5C494.1,546.8 496.5,555.3 497.5,563.2C498.5,571.2 498,579.3 496.6,587C495.2,594.6 492.2,602.5 489,609C485.7,615.5 481.4,621.3 477.1,626C472.9,630.6 469.2,633.8 463.5,637C457.9,640.3 450,642.8 443.2,645.5C436.4,648.2 430.2,651.3 422.8,653.1C415.5,655 407,656.5 399.1,656.5C391.2,656.5 382.7,655 375.4,653.1C368,651.3 361.5,648.5 355,645.5C348.5,642.5 342.3,640.3 336.4,635.3C330.4,630.4 324.2,623 319.4,615.8C314.6,608.6 310.3,600.3 307.5,592.1C304.8,583.9 302.9,575.1 302.8,566.6C302.6,558.1 303.9,548.8 306.7,541.2C309.4,533.6 313.6,526.8 319.4,520.8C325.2,514.9 333.2,509.5 341.4,505.6C349.6,501.6 359,499 368.6,497.1C378.2,495.2 388.9,494.2 399.1,494Z" fill="none" stroke="#f8e4d6" stroke-width="1.3" stroke-dasharray="8 4 5 7 11 5"/>
<path d="M399.2,499.3C408.7,499.2 418.9,499.9 427.6,501.4C436.3,502.9 444,504.9 451.4,508.5C458.7,512.1 466.4,517.2 471.9,522.7C477.4,528.3 481.4,534.8 484.5,541.7C487.7,548.5 489.9,556.5 490.9,563.8C491.8,571.2 491.4,578.8 490.1,586C488.8,593.1 486,600.5 483,606.5C479.9,612.6 475.9,618 471.9,622.3C467.9,626.7 464.5,629.6 459.3,632.6C454,635.6 446.6,638 440.3,640.5C434,643 428.2,645.9 421.3,647.6C414.5,649.3 406.6,650.8 399.2,650.8C391.8,650.8 383.9,649.3 377.1,647.6C370.2,645.9 364.1,643.3 358.1,640.5C352,637.7 346.2,635.6 340.7,631C335.2,626.4 329.4,619.6 324.9,612.8C320.4,606.1 316.4,598.3 313.8,590.7C311.2,583.1 309.5,574.9 309.4,567C309.3,559.1 310.4,550.4 313,543.3C315.6,536.2 319.5,529.8 324.9,524.3C330.3,518.8 337.8,513.8 345.4,510.1C353.1,506.4 361.8,504 370.7,502.2C379.7,500.4 389.7,499.5 399.2,499.3Z" fill="#f6dac6"/>
<path d="M362.5,642.7C356.7,645.9 365.4,650.7 368.2,654.2C371.1,657.7 375.3,660.6 379.8,663.8C384.2,667 390.9,671 395.1,673.4C399.3,675.8 401.7,678.2 405.1,678.2C408.4,678.2 411.5,675.8 415.3,673.4C419,671 424.4,667.3 427.7,663.8C431.1,660.2 433.5,655.9 435.4,652.3C437.3,648.6 444.7,644.6 439.2,641.7C433.8,638.8 415.6,634.8 402.8,635C390,635.1 368.2,639.5 362.5,642.7Z" fill="#f6dac6"/>
<defs><clipPath id="lobes"><path d="M360.6,678.2C363.4,677.3 375.4,675.7 379.8,675.3C384.1,674.8 393.6,671.4 395.7,674.5C397.7,677.6 396.1,693.4 396.1,700.2C396.1,707.1 397.2,726.3 395.7,729.4C394.1,732.5 386.8,726.8 383.6,725.2C380.4,723.5 373,719.3 370.2,716.5C367.3,713.8 362.3,706.3 360.6,703.1C358.8,699.9 356.8,693.3 356.4,690.6C355.9,688 356.6,683.5 357.1,682C357.6,680.4 357.7,679 360.6,678.2Z M449.6,678.2C446.8,677.3 434.8,675.7 430.4,675.3C426,674.8 416.5,671.4 414.5,674.5C412.4,677.6 414.1,693.4 414.1,700.2C414.1,707.1 412.9,726.3 414.5,729.4C416,732.5 423.4,726.8 426.6,725.2C429.8,723.5 437.1,719.3 440,716.5C442.9,713.8 447.9,706.3 449.6,703.1C451.3,699.9 453.4,693.3 453.8,690.6C454.2,688 453.6,683.5 453,682C452.5,680.4 452.4,679 449.6,678.2Z"/></clipPath></defs>
<path d="M360.6,678.2C363.4,677.3 375.4,675.7 379.8,675.3C384.1,674.8 393.6,671.4 395.7,674.5C397.7,677.6 396.1,693.4 396.1,700.2C396.1,707.1 397.2,726.3 395.7,729.4C394.1,732.5 386.8,726.8 383.6,725.2C380.4,723.5 373,719.3 370.2,716.5C367.3,713.8 362.3,706.3 360.6,703.1C358.8,699.9 356.8,693.3 356.4,690.6C355.9,688 356.6,683.5 357.1,682C357.6,680.4 357.7,679 360.6,678.2Z M449.6,678.2C446.8,677.3 434.8,675.7 430.4,675.3C426,674.8 416.5,671.4 414.5,674.5C412.4,677.6 414.1,693.4 414.1,700.2C414.1,707.1 412.9,726.3 414.5,729.4C416,732.5 423.4,726.8 426.6,725.2C429.8,723.5 437.1,719.3 440,716.5C442.9,713.8 447.9,706.3 449.6,703.1C451.3,699.9 453.4,693.3 453.8,690.6C454.2,688 453.6,683.5 453,682C452.5,680.4 452.4,679 449.6,678.2Z" fill="#ecc6a4"/>
<path d="M375.2,689.9h8M432.1,690.4h8M360.4,681.3h11.7M423.5,680.2h11.7M373.2,727.8h11.7M428.9,728.3h11.7M377.8,685.5h11.9M430.1,686.5h11.9M361.8,711.6h11.1M431.8,710.8h11.1M384.2,679.6h8.8M435,681.1h8.8M385.8,713.7h8.2M437,713.5h8.2M384.6,724.8h5.8M420.4,723.6h5.8M372.2,726.3h10M424.5,726.3h10M369.8,697.3h9.7M431.6,698.9h9.7M386,712.1h11.9M441.8,712.8h11.9M384.1,686.2h12.7M439.6,686.4h12.7M365.9,713.7h11.7M431.3,712.8h11.7M383.9,681.2h12.9M419.2,682.4h12.9M364.2,698.5h7.4M436.2,700h7.4M377.2,680.2h5.4M435,679.5h5.4M387.5,722h9M442,721.3h9M376.8,681.8h5.3M421.9,681.5h5.3M364.4,708.5h5.3M438.7,707.8h5.3M385.1,725.9h8M428.5,726h8M376.7,710.2h9.5M432.5,712h9.5M372.1,703.4h10.8M422.9,702.6h10.8M374.6,726.9h9.4M417.3,726.6h9.4M360.6,707h9.9M432.8,705.2h9.9M373.1,709.4h10.4M425.8,710.2h10.4M360.6,714.9h5.5M433.9,716.8h5.5M372.8,690.6h9.7M425,690h9.7M370.3,693.6h9.8M424.5,693.1h9.8M360.8,716.6h9.6M435.4,715.9h9.6M382.5,689.1h6.9M421.7,688.9h6.9M362.9,712.9h7.6M425.3,714.2h7.6M384,699.9h6.4M425.4,700.5h6.4M372.6,722.2h6.8M420,722.4h6.8M382.6,687.5h11.7M421.6,686.7h11.7M378,718.4h11.5M425.6,716.9h11.5M382.2,692.6h7.2M425.7,692.3h7.2M371.5,699h12.4M420.9,697h12.4M384.6,725.2h12.9M427.9,727h12.9M366.2,724.4h11M437.9,725h11M368.1,704h7.7M422.7,702.2h7.7M368,707.4h11.5M418.1,709h11.5M385.9,712.7h12.2M439.5,713h12.2M380.9,678.7h6.4M424.5,679.3h6.4M371.6,704.2h12.5M432.3,703.6h12.5M384.1,690.6h8.8M436.6,690h8.8M375,687.9h11.5M421.3,689h11.5" stroke="#dcae8a" stroke-width="0.8" fill="none" opacity="0.85" clip-path="url(#lobes)"/>
<path d="M353.9,604.3Q375.9,633.1 395.1,650.3Q400.1,655.1 400.1,661.8L400.1,739.5 L410.5,739.5 L410.5,661.8Q410.5,655.1 415.4,650.3Q433.5,633.1 448.8,604.3Q400.9,618.7 353.9,604.3 Z" fill="#cf8a88" stroke="#5a2f30" stroke-width="1.2" stroke-linejoin="round"/>
<defs><linearGradient id="fun" x1="0" y1="0" x2="0" y2="1"><stop offset="0" stop-color="#f8c3b8"/><stop offset="0.55" stop-color="#f3b0a6"/><stop offset="0.8" stop-color="#b57872"/><stop offset="1" stop-color="#4f2c2d"/></linearGradient></defs>
<path d="M353.9,604.3Q400.9,618.7 448.8,604.3Q439.2,621.6 426.2,628.8Q400.9,636.9 375.9,628.8Q362.9,621.6 353.9,604.3 Z" fill="url(#fun)" stroke="#5a2f30" stroke-width="1.1" stroke-linejoin="round"/>
<path transform="translate(254 252.6) rotate(0)" d="M0,-10 Q0,0 11,0 Q0,0 0,10 Q0,0 -11,0 Q0,0 0,-10 Z" fill="#1a1011" stroke="#1a1011" stroke-width="0.9" stroke-linejoin="round"/>
<path transform="translate(258 299) rotate(0)" d="M0,-10 Q0,0 11,0 Q0,0 0,10 Q0,0 -11,0 Q0,0 0,-10 Z" fill="#1a1011" stroke="#1a1011" stroke-width="0.9" stroke-linejoin="round"/>
<path transform="translate(256.6 338.6) rotate(0)" d="M0,-10 Q0,0 11,0 Q0,0 0,10 Q0,0 -11,0 Q0,0 0,-10 Z" fill="#1a1011" stroke="#1a1011" stroke-width="0.9" stroke-linejoin="round"/>
<path transform="translate(260.8 451.4) rotate(12)" d="M0,-10 Q0,0 11,0 Q0,0 0,10 Q0,0 -11,0 Q0,0 0,-10 Z" fill="#1a1011" stroke="#1a1011" stroke-width="0.9" stroke-linejoin="round"/>
<path transform="translate(279.4 496.4) rotate(28)" d="M0,-10 Q0,0 11,0 Q0,0 0,10 Q0,0 -11,0 Q0,0 0,-10 Z" fill="#1a1011" stroke="#1a1011" stroke-width="0.9" stroke-linejoin="round"/>
<line x1="896.3" y1="544.8" x2="1081.8" y2="516.6" stroke="#adadad" stroke-width="13.2"/>
<line x1="896.3" y1="544.8" x2="1440.5" y2="244.7" stroke="#ac9dcb" stroke-width="13.2"/>
<line x1="896.3" y1="544.8" x2="692.9" y2="434" stroke="#7fc8bd" stroke-width="13.2"/>
<line x1="896.3" y1="544.8" x2="807.8" y2="352.4" stroke="#42b9e9" stroke-width="13.2"/>
<line x1="896.3" y1="544.8" x2="1043.4" y2="143.4" stroke="#dbc96c" stroke-width="13.2"/>
<circle cx="896.3" cy="544.8" r="17" fill="#bfbc5f"/>
<circle cx="1043.4" cy="143.4" r="13" fill="#e5211c"/>
<circle cx="1440.5" cy="244.7" r="13" fill="#e5211c"/>
<circle cx="807.8" cy="352.4" r="13" fill="#e5211c"/>
<circle cx="692.9" cy="434" r="13" fill="#e5211c"/>
<circle cx="1081.8" cy="516.6" r="13" fill="#e5211c"/>
<rect x="560.8" y="98.8" width="117.2" height="95.4" fill="#fff" stroke="#231815" stroke-width="2"/>
<path d="M588,124.8 H645 M588,113.4 V136.6 M645,113.4 V136.6" stroke="#231815" stroke-width="7.6" fill="none"/>
<path d="M869.4,323.8 L849.5,389.4 M846.9,359 L849.5,389.4 L868.6,364.8" fill="none" stroke="#000" stroke-width="3.7" stroke-linejoin="miter" stroke-miterlimit="6"/>
<path d="M1050.6,265.8 L1007,278.3 M1024.1,264.2 L1007,278.3 L1028.9,283.5" fill="none" stroke="#000" stroke-width="3.7" stroke-linejoin="miter" stroke-miterlimit="6"/>
<path d="M746.3,530 L763,488.5 M746.3,503.5 L763,488.5 L764.9,509.6" fill="none" stroke="#000" stroke-width="3.7" stroke-linejoin="miter" stroke-miterlimit="6"/>
<path d="M1038.7,573.1 L1005.1,544 M1026.2,548.8 L1005.1,544 L1011.4,563.9" fill="none" stroke="#000" stroke-width="3.7" stroke-linejoin="miter" stroke-miterlimit="6"/>
<path d="M1286.5,398.6 L1252.6,370 M1273.8,374.3 L1252.6,370 L1260.6,389.4" fill="none" stroke="#000" stroke-width="3.7" stroke-linejoin="miter" stroke-miterlimit="6"/>
<text transform="translate(14.8 67.9) scale(1 1.04)" font-size="58.5" text-anchor="start" fill="#000" font-weight="bold" >A</text>
<text transform="translate(281.3 260.6) scale(1 1.04)" font-size="37.5" text-anchor="start" fill="#231815" >P4C1</text>
<text transform="translate(290.5 306.3) scale(1 1.04)" font-size="37.5" text-anchor="start" fill="#231815" >P4U1</text>
<text transform="translate(286.6 355.8) scale(1 1.04)" font-size="37.5" text-anchor="start" fill="#231815" >P4U2</text>
<text transform="translate(136.6 470.5) scale(1 1.04)" font-size="37.5" text-anchor="start" fill="#231815" >P4U4</text>
<text transform="translate(160.4 519.7) scale(1 1.04)" font-size="37.5" text-anchor="start" fill="#231815" >P4C2</text>
<text transform="translate(979.9 118.7) scale(1 1.04)" font-size="37.5" text-anchor="start" fill="#231815" >P4C1</text>
<text transform="translate(1443.5 220) scale(1 1.04)" font-size="37.5" text-anchor="start" fill="#231815" >P4U1</text>
<text transform="translate(686.4 365.5) scale(1 1.04)" font-size="37.5" text-anchor="start" fill="#231815" >P4C2</text>
<text transform="translate(568.6 452) scale(1 1.04)" font-size="37.5" text-anchor="start" fill="#231815" >P4U4</text>
<text transform="translate(1104 508.3) scale(1 1.04)" font-size="37.5" text-anchor="start" fill="#231815" >P4U2</text>
<text transform="translate(904.2 601.6) scale(1 1.04)" font-size="37.5" text-anchor="middle" fill="#000" >GL</text>
<text transform="translate(619.2 179) scale(1 1.04)" font-size="37.5" text-anchor="middle" fill="#231815" >200</text>
<text x="719" y="241.2" font-size="29.17" text-anchor="start" fill="#231815" font-style="italic" >KMT2D (p.E2007*,</text>
<text x="719" y="275.6" font-size="29.17" text-anchor="start" fill="#231815" font-style="italic" >p.Q3584*)</text>
<text x="719" y="310" font-size="29.17" text-anchor="start" fill="#231815" font-style="italic" >FGFR3 (p.K650M)</text>
<text x="1057.5" y="183" font-size="29.17" text-anchor="start" fill="#231815" font-style="italic" >KMT2D (p.Q3724L)</text>
<text x="1057.5" y="217.2" font-size="29.17" text-anchor="start" fill="#231815" font-style="italic" >TP53 (p.K321*, p.G244C)</text>
<text x="1057.5" y="251.4" font-size="29.17" text-anchor="start" fill="#231815" font-style="italic" >KDM6A (frameshift)</text>
<text x="1057.5" y="285.6" font-size="29.17" text-anchor="start" fill="#231815" font-style="italic" >ARID1A (p.Q1424L)</text>
<text x="1298" y="360.3" font-size="29.17" text-anchor="start" fill="#231815" font-style="italic" >KMT2D (frameshift,</text>
<text x="1298" y="394.5" font-size="29.17" text-anchor="start" fill="#231815" font-style="italic" >p.S5404F, splice site)</text>
<text x="1298" y="428.7" font-size="29.17" text-anchor="start" fill="#231815" font-style="italic" >TP53 (p.E271V)</text>
<text x="1298" y="462.9" font-size="29.17" text-anchor="start" fill="#231815" font-style="italic" >KDM6A (splice site)</text>
<text x="1298" y="497.1" font-size="29.17" text-anchor="start" fill="#231815" font-style="italic" >ARID1A (p.D1112V,</text>
<text x="1298" y="531.3" font-size="29.17" text-anchor="start" fill="#231815" font-style="italic" >p.Y1508F)</text>
<text x="580.8" y="556.7" font-size="29.17" text-anchor="start" fill="#231815" font-style="italic" >KDM6A (splice site)</text>
<text x="580.8" y="590.9" font-size="29.17" text-anchor="start" fill="#231815" font-style="italic" >CREBBP (p.T862S)</text>
<text x="1045" y="575" font-size="29.17" text-anchor="start" fill="#231815" font-style="italic" >KDM6A (p.T726S)</text>
<text x="1045" y="609.6" font-size="29.17" text-anchor="start" fill="#231815" font-style="italic" >CREBBP (p.Q69L, p.Q812L)</text>
<text x="1045" y="644.2" font-size="29.17" text-anchor="start" fill="#231815" font-style="italic" >ATM (p.E668V)</text>
<text x="1045" y="678.8" font-size="29.17" text-anchor="start" fill="#231815" font-style="italic" >FAT1 (p.R1547W)</text>
</g>
<g id="panelB">
<text transform="translate(1619.5 67.9) scale(1 1.04)" font-size="58.5" text-anchor="start" fill="#000" font-weight="bold" >B</text>
<path d="M1774.3,578.9C1777.9,576.5 1789.6,568.8 1795.8,564.4C1802,560 1806.4,556.4 1811.3,552.5C1816.3,548.5 1821.3,544.3 1825.7,540.5C1830.1,536.8 1834.1,533.5 1837.6,529.7C1841.1,525.9 1843.8,522.3 1846.6,517.8C1849.4,513.3 1851.5,511.1 1854.4,502.6C1857.2,494.1 1860.7,484.7 1863.9,466.8C1867.1,448.9 1871.1,413.1 1873.5,395.3C1875.9,377.5 1876.5,373.4 1878.3,360C1880,346.5 1882.1,329.5 1884,314.6C1885.9,299.8 1887.8,285 1889.8,271C1891.7,256.9 1893.8,241.8 1895.7,230.2C1897.7,218.6 1899.6,208.9 1901.5,201.1C1903.4,193.4 1905.4,187.8 1907.3,183.6C1909.2,179.3 1911.4,177.2 1913.1,175.7C1914.8,174.2 1915.6,174.1 1917.5,174.5C1919.5,174.8 1921.7,176.5 1924.8,177.8C1927.9,179.2 1932.5,182.8 1936.4,182.6C1940.3,182.4 1944.1,178.2 1948,176.4C1951.9,174.7 1956.3,172 1959.7,172C1963.1,172 1965.5,173.5 1968.4,176.4C1971.3,179.4 1974.2,184 1977.1,189.5C1980,195.1 1983,202.3 1985.9,209.8C1988.8,217.3 1991.7,226.6 1994.6,234.6C1997.5,242.7 2000.4,250.9 2003.3,257.9C2006.2,265 2008.7,270 2012.1,276.8C2015.5,283.6 2019.8,290.8 2023.7,298.6C2027.6,306.3 2031.4,313.4 2035.3,323.3C2039.2,333.3 2042.9,345.1 2047,358.2C2051.2,371.4 2055.8,389.6 2060.2,402.1C2064.6,414.6 2069.2,424.1 2073.3,433.2C2077.5,442.4 2081.5,451.1 2085,457.1C2088.5,463 2091,466.1 2094.6,469C2098.1,471.9 2102.5,474 2106.5,474.4C2110.5,474.9 2114.4,473.4 2118.4,471.7C2122.5,470 2127,467.4 2131,464.1C2135,460.9 2138.1,457.5 2142.3,452.2C2146.6,446.9 2151.5,440.9 2156.7,432.1C2161.9,423.4 2167.8,411.7 2173.8,400C2179.8,388.2 2187.1,374.1 2192.7,361.9C2198.3,349.7 2202.4,338.9 2207.3,327C2212.1,315.1 2217,302 2221.8,290.6C2226.7,279.2 2231.5,268.5 2236.4,258.6C2241.2,248.7 2246.1,238.3 2250.9,231C2255.8,223.6 2261.1,217.8 2265.5,214.3C2269.9,210.7 2273.2,209.8 2277.1,209.8C2281,209.8 2284.7,210.7 2288.8,214.3C2292.9,217.8 2297.5,223.8 2301.9,231C2306.2,238.1 2310.9,247.4 2315,257.1C2319.1,266.8 2322.7,277.9 2326.6,289.1C2330.4,300.2 2333.8,311.1 2338.2,324C2342.6,336.8 2348.2,353.6 2352.8,366.2C2357.4,378.9 2359.2,383.2 2365.9,400C2372.6,416.7 2384.5,449.5 2393,466.5C2401.5,483.5 2408.7,492.5 2416.6,502.2C2424.5,511.9 2432.5,518.1 2440.5,524.8C2448.5,531.6 2456.4,537 2464.4,542.7C2472.4,548.5 2480.4,554.2 2488.3,559.4C2496.2,564.6 2503.1,569.4 2512,573.7C2520.8,578 2536.6,583.2 2541.5,585.1 L2541.5,598 L1774.3,598 Z" fill="#f4e5fc"/>
<path d="M1868.5,598C1869.3,593.5 1871.6,580.9 1873.2,570.9C1874.8,560.9 1875.6,555.3 1878,537.9C1880.4,520.5 1884.3,487.9 1887.5,466.5C1890.7,445.1 1893.9,424.1 1897.1,409.4C1900.3,394.7 1903.8,384.5 1906.6,378.4C1909.3,372.2 1910.3,371.9 1913.5,372.5C1916.7,373.1 1921.1,378.9 1925.6,382C1930.2,385 1935.8,389.7 1941,390.7C1946.1,391.8 1951.9,387.6 1956.5,388.4C1961.1,389.1 1964.9,391.4 1968.5,395.3C1972.1,399.2 1974.5,403.7 1978,411.6C1981.6,419.4 1986,431.9 1990,442.7C1994,453.4 1998,466.1 2001.9,476.1C2005.9,486 2009.9,494.7 2013.9,502.6C2017.9,510.5 2021.9,516.6 2025.8,523.6C2029.8,530.7 2033.8,536.5 2037.8,544.9C2041.8,553.2 2046.3,564.9 2049.7,573.7C2053.2,582.6 2057.2,594 2058.7,598 Z" fill="#fff"/>
<path d="M2175.2,598C2178.1,592.4 2188,573.2 2192.5,564.4C2197.1,555.6 2197.1,557.4 2202.7,545.1C2208.3,532.8 2218.5,506.2 2226.4,490.4C2234.3,474.5 2243.8,458.6 2250.2,449.8C2256.6,441 2261.1,440 2264.8,437.6C2268.6,435.1 2269.9,435.1 2272.6,435.1C2275.3,435.1 2277.2,435.1 2281,437.6C2284.8,440 2288.5,439.8 2295.3,449.8C2302.1,459.8 2313.2,480.8 2321.6,497.5C2330,514.2 2339,536.4 2345.5,549.9C2352,563.4 2356.1,570.5 2360.4,578.5C2364.8,586.5 2369.7,594.7 2371.6,598 Z" fill="#fff"/>
<g fill="rgb(128,116,142)" fill-opacity="0.2" stroke="rgb(95,82,105)" stroke-opacity="0.62" stroke-width="1.2"><rect x="1855.5" y="558.2" width="12" height="39.8"/><rect x="1867.5" y="493.2" width="12" height="104.8"/><rect x="1879.5" y="461.7" width="12" height="136.3"/><rect x="1891.4" y="415.2" width="12" height="182.8"/><rect x="1903.3" y="394.5" width="12" height="203.5"/><rect x="1915.3" y="394.5" width="12" height="203.5"/><rect x="1927.2" y="345.4" width="12" height="252.6"/><rect x="1939.2" y="444.3" width="12" height="153.7"/><rect x="1951.1" y="366.5" width="12" height="231.5"/><rect x="1963.1" y="384.8" width="12" height="213.2"/><rect x="1975" y="410.5" width="12" height="187.5"/><rect x="1987" y="412.9" width="12" height="185.1"/><rect x="1998.9" y="472.5" width="12" height="125.5"/><rect x="2010.9" y="457.1" width="12" height="140.9"/><rect x="2022.8" y="477.2" width="12" height="120.8"/><rect x="2034.8" y="535.1" width="12" height="62.9"/><rect x="2046.8" y="548.7" width="12" height="49.3"/><rect x="2058.7" y="549.4" width="12" height="48.6"/><rect x="2070.7" y="555.8" width="12" height="42.2"/><rect x="2082.6" y="574.4" width="12" height="23.6"/><rect x="2094.6" y="576.8" width="12" height="21.2"/><rect x="2106.5" y="566" width="12" height="32"/><rect x="2118.4" y="573" width="12" height="25"/><rect x="2130.4" y="552.5" width="12" height="45.5"/><rect x="2142.3" y="548.7" width="12" height="49.3"/><rect x="2154.3" y="565.5" width="12" height="32.5"/><rect x="2166.2" y="533" width="12" height="65"/><rect x="2178.2" y="526.5" width="12" height="71.5"/><rect x="2190.2" y="505.9" width="12" height="92.1"/><rect x="2202.1" y="493.9" width="12" height="104.1"/><rect x="2214.1" y="435.9" width="12" height="162.1"/><rect x="2226" y="480.9" width="12" height="117.1"/><rect x="2237.9" y="405.7" width="12" height="192.3"/><rect x="2249.9" y="437.9" width="12" height="160.1"/><rect x="2261.8" y="385" width="12" height="213"/><rect x="2273.8" y="445.5" width="12" height="152.5"/><rect x="2285.8" y="419.6" width="12" height="178.4"/><rect x="2297.7" y="426.7" width="12" height="171.3"/><rect x="2309.7" y="431.5" width="12" height="166.5"/><rect x="2321.6" y="488" width="12" height="110"/><rect x="2333.6" y="485.3" width="12" height="112.7"/><rect x="2345.5" y="499.4" width="12" height="98.6"/><rect x="2357.4" y="509.9" width="12" height="88.1"/><rect x="2369.4" y="547.1" width="12" height="50.9"/><rect x="2381.3" y="542.7" width="12" height="55.3"/><rect x="2393.3" y="582.1" width="12" height="15.9"/><rect x="2405.2" y="574.4" width="12" height="23.6"/><rect x="2417.2" y="581.5" width="12" height="16.5"/><rect x="2429.2" y="590.8" width="12" height="7.2"/><rect x="2441.1" y="591.5" width="12" height="6.5"/><rect x="2453.1" y="594.4" width="12" height="3.6"/><rect x="2465" y="595.6" width="12" height="2.4"/><rect x="2476.9" y="596.4" width="12" height="1.6"/><rect x="2488.9" y="596.7" width="12" height="1.3"/><rect x="2500.8" y="596.9" width="12" height="1.1"/></g>
<path d="M1868.5,598C1869.3,593.5 1871.6,580.9 1873.2,570.9C1874.8,560.9 1875.6,555.3 1878,537.9C1880.4,520.5 1884.3,487.9 1887.5,466.5C1890.7,445.1 1893.9,424.1 1897.1,409.4C1900.3,394.7 1903.8,384.5 1906.6,378.4C1909.3,372.2 1910.3,371.9 1913.5,372.5C1916.7,373.1 1921.1,378.9 1925.6,382C1930.2,385 1935.8,389.7 1941,390.7C1946.1,391.8 1951.9,387.6 1956.5,388.4C1961.1,389.1 1964.9,391.4 1968.5,395.3C1972.1,399.2 1974.5,403.7 1978,411.6C1981.6,419.4 1986,431.9 1990,442.7C1994,453.4 1998,466.1 2001.9,476.1C2005.9,486 2009.9,494.7 2013.9,502.6C2017.9,510.5 2021.9,516.6 2025.8,523.6C2029.8,530.7 2033.8,536.5 2037.8,544.9C2041.8,553.2 2046.3,564.9 2049.7,573.7C2053.2,582.6 2057.2,594 2058.7,598" fill="none" stroke="#000" stroke-width="1.4"/>
<path d="M2175.2,598C2178.1,592.4 2188,573.2 2192.5,564.4C2197.1,555.6 2197.1,557.4 2202.7,545.1C2208.3,532.8 2218.5,506.2 2226.4,490.4C2234.3,474.5 2243.8,458.6 2250.2,449.8C2256.6,441 2261.1,440 2264.8,437.6C2268.6,435.1 2269.9,435.1 2272.6,435.1C2275.3,435.1 2277.2,435.1 2281,437.6C2284.8,440 2288.5,439.8 2295.3,449.8C2302.1,459.8 2313.2,480.8 2321.6,497.5C2330,514.2 2339,536.4 2345.5,549.9C2352,563.4 2356.1,570.5 2360.4,578.5C2364.8,586.5 2369.7,594.7 2371.6,598" fill="none" stroke="#000" stroke-width="1.4"/>
<path d="M1774.3,578.9C1777.9,576.5 1789.6,568.8 1795.8,564.4C1802,560 1806.4,556.4 1811.3,552.5C1816.3,548.5 1821.3,544.3 1825.7,540.5C1830.1,536.8 1834.1,533.5 1837.6,529.7C1841.1,525.9 1843.8,522.3 1846.6,517.8C1849.4,513.3 1851.5,511.1 1854.4,502.6C1857.2,494.1 1860.7,484.7 1863.9,466.8C1867.1,448.9 1871.1,413.1 1873.5,395.3C1875.9,377.5 1876.5,373.4 1878.3,360C1880,346.5 1882.1,329.5 1884,314.6C1885.9,299.8 1887.8,285 1889.8,271C1891.7,256.9 1893.8,241.8 1895.7,230.2C1897.7,218.6 1899.6,208.9 1901.5,201.1C1903.4,193.4 1905.4,187.8 1907.3,183.6C1909.2,179.3 1911.4,177.2 1913.1,175.7C1914.8,174.2 1915.6,174.1 1917.5,174.5C1919.5,174.8 1921.7,176.5 1924.8,177.8C1927.9,179.2 1932.5,182.8 1936.4,182.6C1940.3,182.4 1944.1,178.2 1948,176.4C1951.9,174.7 1956.3,172 1959.7,172C1963.1,172 1965.5,173.5 1968.4,176.4C1971.3,179.4 1974.2,184 1977.1,189.5C1980,195.1 1983,202.3 1985.9,209.8C1988.8,217.3 1991.7,226.6 1994.6,234.6C1997.5,242.7 2000.4,250.9 2003.3,257.9C2006.2,265 2008.7,270 2012.1,276.8C2015.5,283.6 2019.8,290.8 2023.7,298.6C2027.6,306.3 2031.4,313.4 2035.3,323.3C2039.2,333.3 2042.9,345.1 2047,358.2C2051.2,371.4 2055.8,389.6 2060.2,402.1C2064.6,414.6 2069.2,424.1 2073.3,433.2C2077.5,442.4 2081.5,451.1 2085,457.1C2088.5,463 2091,466.1 2094.6,469C2098.1,471.9 2102.5,474 2106.5,474.4C2110.5,474.9 2114.4,473.4 2118.4,471.7C2122.5,470 2127,467.4 2131,464.1C2135,460.9 2138.1,457.5 2142.3,452.2C2146.6,446.9 2151.5,440.9 2156.7,432.1C2161.9,423.4 2167.8,411.7 2173.8,400C2179.8,388.2 2187.1,374.1 2192.7,361.9C2198.3,349.7 2202.4,338.9 2207.3,327C2212.1,315.1 2217,302 2221.8,290.6C2226.7,279.2 2231.5,268.5 2236.4,258.6C2241.2,248.7 2246.1,238.3 2250.9,231C2255.8,223.6 2261.1,217.8 2265.5,214.3C2269.9,210.7 2273.2,209.8 2277.1,209.8C2281,209.8 2284.7,210.7 2288.8,214.3C2292.9,217.8 2297.5,223.8 2301.9,231C2306.2,238.1 2310.9,247.4 2315,257.1C2319.1,266.8 2322.7,277.9 2326.6,289.1C2330.4,300.2 2333.8,311.1 2338.2,324C2342.6,336.8 2348.2,353.6 2352.8,366.2C2357.4,378.9 2359.2,383.2 2365.9,400C2372.6,416.7 2384.5,449.5 2393,466.5C2401.5,483.5 2408.7,492.5 2416.6,502.2C2424.5,511.9 2432.5,518.1 2440.5,524.8C2448.5,531.6 2456.4,537 2464.4,542.7C2472.4,548.5 2480.4,554.2 2488.3,559.4C2496.2,564.6 2503.1,569.4 2512,573.7C2520.8,578 2536.6,583.2 2541.5,585.1" fill="none" stroke="#000" stroke-width="1.5"/>
<path d="M1771.9,596.7C1778.9,596.7 1803.2,596.8 1813.7,596.5C1824.3,596.2 1830.1,595.8 1835.2,594.7C1840.4,593.7 1842,592.3 1844.8,590.4C1847.6,588.5 1849.8,586.7 1852,583.3C1854.1,579.8 1855.7,575.4 1857.7,569.8C1859.7,564.3 1861,561.1 1863.7,549.9C1866.3,538.7 1870.3,522 1873.5,502.6C1876.7,483.2 1880,457 1882.7,433.2C1885.5,409.5 1887.6,378.5 1889.8,360C1891.9,341.4 1893.8,332.9 1895.7,321.9C1897.7,311 1899.6,301.5 1901.5,294.3C1903.4,287 1905.1,281.7 1907.3,278.2C1909.5,274.7 1912.2,273.5 1914.6,273.1C1917,272.8 1919.1,274.4 1921.8,276.1C1924.5,277.8 1927.7,281.6 1930.6,283.3C1933.5,285 1936.4,286.2 1939.3,286.2C1942.2,286.2 1944.8,284.4 1948,283.3C1951.1,282.2 1955.3,280 1958.2,279.7C1961.1,279.5 1963.1,280 1965.5,281.9C1967.9,283.8 1970.4,287.1 1972.8,291.3C1975.2,295.6 1977.3,300.7 1980,307.3C1982.7,313.8 1985.6,322.1 1988.8,330.6C1991.9,339.1 1995.6,349.8 1999,358.2C2002.3,366.7 2004.6,372.3 2009.1,381.2C2013.6,390.1 2020.7,401.7 2025.8,411.6C2031,421.4 2035,427.5 2040.2,440.3C2045.4,453 2051.4,472.9 2056.9,488C2062.4,503.1 2068.7,520 2073.3,530.8C2078,541.5 2081.1,547.5 2085,552.5C2088.9,557.4 2093.4,559 2096.9,560.6C2100.5,562.2 2102.5,562.2 2106.5,561.8C2110.5,561.4 2116.8,559.8 2120.8,558.2C2124.9,556.7 2127,555.4 2131,552.5C2135,549.5 2140.8,544.7 2144.7,540.5C2148.7,536.4 2150.9,533.1 2154.9,527.5C2158.9,521.9 2164.7,513.3 2168.6,506.9C2172.6,500.6 2174.8,497.5 2178.8,489.6C2182.8,481.7 2188.6,467.7 2192.5,459.2C2196.5,450.8 2198.3,448.5 2202.7,438.7C2207.1,428.8 2213.8,411.5 2218.9,400C2224.1,388.4 2228.7,378.7 2233.5,369.2C2238.4,359.7 2243.4,350.1 2248,343C2252.6,336 2256.5,330.5 2261.1,327C2265.7,323.5 2270.9,322.1 2275.7,322.3C2280.6,322.6 2285.6,324.7 2290.2,328.4C2294.8,332.1 2299,337.6 2303.3,344.3C2307.7,351.1 2312,359.9 2316.4,369.2C2320.8,378.4 2324.7,386.1 2329.5,400C2334.4,413.8 2338.9,434 2345.5,452.2C2352.1,470.4 2361.5,493.1 2369.4,509.3C2377.3,525.6 2385.1,539.1 2393,549.9C2400.9,560.6 2408.7,567.8 2416.6,573.7C2424.5,579.7 2432.5,582.5 2440.5,585.6C2448.5,588.8 2456.4,591.1 2464.4,592.8C2472.4,594.5 2480.2,595 2488.3,595.6C2496.4,596.2 2503.9,596.4 2512.8,596.6C2521.7,596.8 2536.7,596.9 2541.5,596.9" fill="none" stroke="#2a9dab" stroke-width="5.2" stroke-linejoin="round"/>
<path d="M1767.8,56 V598 M1746.4,598 H1767.8 M1746.4,489.6 H1767.8 M1746.4,381.2 H1767.8 M1746.4,272.8 H1767.8 M1746.4,164.4 H1767.8 M1746.4,56 H1767.8 M1795.8,598.4 V618.3 M1915.3,598.4 V618.3 M2034.8,598.4 V618.3 M2154.3,598.4 V618.3 M2273.8,598.4 V618.3 M2393.3,598.4 V618.3 " stroke="#000" stroke-width="2" fill="none"/>
<text transform="translate(1740 605.6) scale(1 1.04)" font-size="30.5" text-anchor="end" fill="#000" >0</text>
<text transform="translate(1740 497.2) scale(1 1.04)" font-size="30.5" text-anchor="end" fill="#000" >1</text>
<text transform="translate(1740 388.8) scale(1 1.04)" font-size="30.5" text-anchor="end" fill="#000" >2</text>
<text transform="translate(1740 280.4) scale(1 1.04)" font-size="30.5" text-anchor="end" fill="#000" >3</text>
<text transform="translate(1740 172) scale(1 1.04)" font-size="30.5" text-anchor="end" fill="#000" >4</text>
<text transform="translate(1740 63.6) scale(1 1.04)" font-size="30.5" text-anchor="end" fill="#000" >5</text>
<text transform="translate(1793.4 647) scale(1 1.04)" font-size="30.5" text-anchor="middle" fill="#000" >0.0</text>
<text transform="translate(1912.9 647) scale(1 1.04)" font-size="30.5" text-anchor="middle" fill="#000" >0.2</text>
<text transform="translate(2032.4 647) scale(1 1.04)" font-size="30.5" text-anchor="middle" fill="#000" >0.4</text>
<text transform="translate(2151.9 647) scale(1 1.04)" font-size="30.5" text-anchor="middle" fill="#000" >0.6</text>
<text transform="translate(2271.4 647) scale(1 1.04)" font-size="30.5" text-anchor="middle" fill="#000" >0.8</text>
<text transform="translate(2390.9 647) scale(1 1.04)" font-size="30.5" text-anchor="middle" fill="#000" >1.0</text>
<text x="2134" y="699.4" font-size="37.9" text-anchor="middle" fill="#000" >Mutant cell fractions</text>
<text transform="translate(1690.8 323.6) rotate(-90)" font-size="37.8" text-anchor="middle" fill="#000" >Density</text>
<rect x="1795.2" y="46.4" width="114.8" height="41.3" fill="#6b696a"/>
<text transform="translate(1852.3 80.8) scale(1 1.04)" font-size="37.2" text-anchor="middle" fill="#fff" >P4U1</text>
<ellipse cx="1954.3" cy="542.4" rx="9.4" ry="9" fill="#ff3d0d"/>
<ellipse cx="1973.3" cy="507.9" rx="9.4" ry="9" fill="#ff3d0d"/>
<ellipse cx="2034.8" cy="564.3" rx="9.4" ry="9" fill="#ff3d0d"/>
<ellipse cx="2216.4" cy="542.4" rx="9.4" ry="9" fill="#ff3d0d"/>
<ellipse cx="2273.8" cy="502.4" rx="9.4" ry="9" fill="#ff3d0d"/>
<ellipse cx="2304.8" cy="511" rx="9.4" ry="9" fill="#ff3d0d"/>
<ellipse cx="2327.9" cy="540.5" rx="9.4" ry="9" fill="#ff3d0d"/>
<text transform="translate(1807.5 527.4) scale(1 1.04)" font-size="37.3" text-anchor="start" fill="#000" font-style="italic" >ARID1A</text>
<text transform="translate(1977 492.9) scale(1 1.04)" font-size="37.3" text-anchor="start" fill="#000" font-style="italic" >KMT2D</text>
<text transform="translate(2038.2 548.1) scale(1 1.04)" font-size="37.3" text-anchor="start" fill="#000" font-style="italic" >KMT2D</text>
<text transform="translate(2159 486.9) scale(1 1.04)" font-size="37.3" text-anchor="start" fill="#000" font-style="italic" >KMT2D</text>
<text transform="translate(2311.5 497.6) scale(1 1.04)" font-size="37.3" text-anchor="start" fill="#000" font-style="italic" >TP53</text>
<text transform="translate(2346 547.6) scale(1 1.04)" font-size="37.3" text-anchor="start" fill="#000" font-style="italic" >KDM6A</text>
<text transform="translate(2153.3 584.5) scale(1 1.04)" font-size="37.3" text-anchor="start" fill="#000" font-style="italic" >ARID1A</text>
</g>
<g id="panelC">
<text transform="translate(14.8 811.6) scale(1 1.04)" font-size="58.5" text-anchor="start" fill="#000" font-weight="bold" >C</text>
<g shape-rendering="crispEdges"><rect x="117.4" y="859.7" width="26.2" height="26.2" fill="#fffdf7"/><rect x="143.3" y="859.7" width="26.2" height="26.2" fill="#fffdf7"/><rect x="169.3" y="859.7" width="26.2" height="26.2" fill="#fffaee"/><rect x="91.5" y="885.6" width="26.2" height="26.2" fill="#fffdf7"/><rect x="117.4" y="885.6" width="26.2" height="26.2" fill="#fffdf7"/><rect x="143.3" y="885.6" width="26.2" height="26.2" fill="#fffdf7"/><rect x="169.3" y="885.6" width="26.2" height="26.2" fill="#fffdf7"/><rect x="91.5" y="911.6" width="26.2" height="26.2" fill="#fffdf7"/><rect x="117.4" y="911.6" width="26.2" height="26.2" fill="#fffdf7"/><rect x="143.3" y="911.6" width="26.2" height="26.2" fill="#fffdf7"/><rect x="117.4" y="937.5" width="26.2" height="26.2" fill="#fff6e2"/><rect x="169.3" y="937.5" width="26.2" height="26.2" fill="#fffdf7"/><rect x="221.1" y="859.7" width="26.2" height="26.2" fill="#fffaee"/><rect x="247" y="859.7" width="26.2" height="26.2" fill="#fffdf7"/><rect x="273" y="859.7" width="26.2" height="26.2" fill="#fffaee"/><rect x="195.2" y="885.6" width="26.2" height="26.2" fill="#fffdf7"/><rect x="221.1" y="885.6" width="26.2" height="26.2" fill="#fffdf7"/><rect x="247" y="885.6" width="26.2" height="26.2" fill="#fffdf7"/><rect x="273" y="885.6" width="26.2" height="26.2" fill="#fffaee"/><rect x="195.2" y="911.6" width="26.2" height="26.2" fill="#fffdf7"/><rect x="221.1" y="911.6" width="26.2" height="26.2" fill="#fffaee"/><rect x="247" y="911.6" width="26.2" height="26.2" fill="#fffaee"/><rect x="221.1" y="937.5" width="26.2" height="26.2" fill="#fff6e2"/><rect x="273" y="937.5" width="26.2" height="26.2" fill="#fffdf7"/><rect x="298.9" y="859.7" width="26.2" height="26.2" fill="#fffaee"/><rect x="324.8" y="859.7" width="26.2" height="26.2" fill="#fffdf7"/><rect x="324.8" y="885.6" width="26.2" height="26.2" fill="#fff6e2"/><rect x="376.7" y="885.6" width="26.2" height="26.2" fill="#fffaee"/><rect x="324.8" y="911.6" width="26.2" height="26.2" fill="#fffdf7"/><rect x="376.7" y="911.6" width="26.2" height="26.2" fill="#fffdf7"/><rect x="298.9" y="937.5" width="26.2" height="26.2" fill="#fffaee"/><rect x="324.8" y="937.5" width="26.2" height="26.2" fill="#fffdf7"/><rect x="350.8" y="937.5" width="26.2" height="26.2" fill="#fffaee"/><rect x="428.5" y="859.7" width="26.2" height="26.2" fill="#fff6e2"/><rect x="454.5" y="859.7" width="26.2" height="26.2" fill="#fffdf7"/><rect x="480.4" y="859.7" width="26.2" height="26.2" fill="#fffdf7"/><rect x="402.6" y="885.6" width="26.2" height="26.2" fill="#fffdf7"/><rect x="428.5" y="885.6" width="26.2" height="26.2" fill="#fffaee"/><rect x="480.4" y="885.6" width="26.2" height="26.2" fill="#fffaee"/><rect x="402.6" y="911.6" width="26.2" height="26.2" fill="#fffdf7"/><rect x="428.5" y="911.6" width="26.2" height="26.2" fill="#fffaee"/><rect x="454.5" y="911.6" width="26.2" height="26.2" fill="#fffdf7"/><rect x="428.5" y="937.5" width="26.2" height="26.2" fill="#fffaee"/><rect x="480.4" y="937.5" width="26.2" height="26.2" fill="#fffaee"/><rect x="532.2" y="859.7" width="26.2" height="26.2" fill="#fffaee"/><rect x="558.1" y="859.7" width="26.2" height="26.2" fill="#fffdf7"/><rect x="584.1" y="859.7" width="26.2" height="26.2" fill="#fffaee"/><rect x="506.3" y="885.6" width="26.2" height="26.2" fill="#fffdf7"/><rect x="558.1" y="885.6" width="26.2" height="26.2" fill="#fffdf7"/><rect x="584.1" y="885.6" width="26.2" height="26.2" fill="#fffaee"/><rect x="506.3" y="911.6" width="26.2" height="26.2" fill="#fffdf7"/><rect x="532.2" y="911.6" width="26.2" height="26.2" fill="#fff6e2"/><rect x="558.1" y="911.6" width="26.2" height="26.2" fill="#fffdf7"/><rect x="532.2" y="937.5" width="26.2" height="26.2" fill="#fff6e2"/><rect x="610" y="859.7" width="26.2" height="26.2" fill="#fffdf7"/><rect x="635.9" y="859.7" width="26.2" height="26.2" fill="#fffaee"/><rect x="661.9" y="859.7" width="26.2" height="26.2" fill="#fffdf7"/><rect x="687.8" y="859.7" width="26.2" height="26.2" fill="#fffaee"/><rect x="610" y="885.6" width="26.2" height="26.2" fill="#fffdf7"/><rect x="635.9" y="885.6" width="26.2" height="26.2" fill="#fffdf7"/><rect x="661.9" y="885.6" width="26.2" height="26.2" fill="#fffdf7"/><rect x="687.8" y="885.6" width="26.2" height="26.2" fill="#fffaee"/><rect x="610" y="911.6" width="26.2" height="26.2" fill="#fffaee"/><rect x="635.9" y="911.6" width="26.2" height="26.2" fill="#fffaee"/><rect x="661.9" y="911.6" width="26.2" height="26.2" fill="#fffaee"/><rect x="635.9" y="937.5" width="26.2" height="26.2" fill="#fffaee"/><rect x="687.8" y="937.5" width="26.2" height="26.2" fill="#fffdf7"/><rect x="117.4" y="963.4" width="26.2" height="26.2" fill="#fffdf7"/><rect x="169.3" y="963.4" width="26.2" height="26.2" fill="#fffdf7"/><rect x="143.3" y="989.3" width="26.2" height="26.2" fill="#fffdf7"/><rect x="169.3" y="989.3" width="26.2" height="26.2" fill="#fffdf7"/><rect x="91.5" y="1015.3" width="26.2" height="26.2" fill="#fffdf7"/><rect x="117.4" y="1015.3" width="26.2" height="26.2" fill="#fffdf7"/><rect x="143.3" y="1015.3" width="26.2" height="26.2" fill="#fffdf7"/><rect x="91.5" y="1041.2" width="26.2" height="26.2" fill="#fffdf7"/><rect x="169.3" y="1041.2" width="26.2" height="26.2" fill="#fffdf7"/><rect x="221.1" y="963.4" width="26.2" height="26.2" fill="#fffdf7"/><rect x="273" y="989.3" width="26.2" height="26.2" fill="#fffdf7"/><rect x="221.1" y="1015.3" width="26.2" height="26.2" fill="#fffdf7"/><rect x="195.2" y="1041.2" width="26.2" height="26.2" fill="#fffdf7"/><rect x="273" y="1041.2" width="26.2" height="26.2" fill="#fffdf7"/><rect x="350.8" y="989.3" width="26.2" height="26.2" fill="#fffaee"/><rect x="350.8" y="1015.3" width="26.2" height="26.2" fill="#fffdf7"/><rect x="324.8" y="1041.2" width="26.2" height="26.2" fill="#fffdf7"/><rect x="376.7" y="1041.2" width="26.2" height="26.2" fill="#fffdf7"/><rect x="402.6" y="963.4" width="26.2" height="26.2" fill="#fffdf7"/><rect x="428.5" y="963.4" width="26.2" height="26.2" fill="#fffdf7"/><rect x="480.4" y="963.4" width="26.2" height="26.2" fill="#fffdf7"/><rect x="480.4" y="989.3" width="26.2" height="26.2" fill="#fffdf7"/><rect x="428.5" y="1015.3" width="26.2" height="26.2" fill="#fffdf7"/><rect x="402.6" y="1041.2" width="26.2" height="26.2" fill="#fffdf7"/><rect x="480.4" y="1041.2" width="26.2" height="26.2" fill="#fffdf7"/><rect x="532.2" y="963.4" width="26.2" height="26.2" fill="#fffaee"/><rect x="532.2" y="1015.3" width="26.2" height="26.2" fill="#fffdf7"/><rect x="506.3" y="1041.2" width="26.2" height="26.2" fill="#fffdf7"/><rect x="558.1" y="1041.2" width="26.2" height="26.2" fill="#fffdf7"/><rect x="584.1" y="1041.2" width="26.2" height="26.2" fill="#fffdf7"/><rect x="635.9" y="963.4" width="26.2" height="26.2" fill="#fffaee"/><rect x="687.8" y="989.3" width="26.2" height="26.2" fill="#fffdf7"/><rect x="635.9" y="1015.3" width="26.2" height="26.2" fill="#fffdf7"/><rect x="610" y="1041.2" width="26.2" height="26.2" fill="#fffdf7"/><rect x="687.8" y="1041.2" width="26.2" height="26.2" fill="#fffdf7"/><rect x="117.4" y="1067.1" width="26.2" height="26.2" fill="#fff6e2"/><rect x="143.3" y="1067.1" width="26.2" height="26.2" fill="#fffaee"/><rect x="169.3" y="1067.1" width="26.2" height="26.2" fill="#fffdf7"/><rect x="91.5" y="1093" width="26.2" height="26.2" fill="#fffdf7"/><rect x="143.3" y="1093" width="26.2" height="26.2" fill="#fffaee"/><rect x="169.3" y="1093" width="26.2" height="26.2" fill="#fffdf7"/><rect x="91.5" y="1119" width="26.2" height="26.2" fill="#fffaee"/><rect x="117.4" y="1119" width="26.2" height="26.2" fill="#fffaee"/><rect x="169.3" y="1119" width="26.2" height="26.2" fill="#fffdf7"/><rect x="117.4" y="1144.9" width="26.2" height="26.2" fill="#fffaee"/><rect x="169.3" y="1144.9" width="26.2" height="26.2" fill="#fffdf7"/><rect x="195.2" y="1067.1" width="26.2" height="26.2" fill="#fffdf7"/><rect x="221.1" y="1067.1" width="26.2" height="26.2" fill="#fff6e2"/><rect x="273" y="1067.1" width="26.2" height="26.2" fill="#fffdf7"/><rect x="221.1" y="1093" width="26.2" height="26.2" fill="#fffdf7"/><rect x="247" y="1093" width="26.2" height="26.2" fill="#fffdf7"/><rect x="195.2" y="1119" width="26.2" height="26.2" fill="#fff6e2"/><rect x="247" y="1119" width="26.2" height="26.2" fill="#fffdf7"/><rect x="273" y="1119" width="26.2" height="26.2" fill="#fffdf7"/><rect x="221.1" y="1144.9" width="26.2" height="26.2" fill="#fffaee"/><rect x="247" y="1144.9" width="26.2" height="26.2" fill="#fffaee"/><rect x="273" y="1144.9" width="26.2" height="26.2" fill="#fffaee"/><rect x="324.8" y="1067.1" width="26.2" height="26.2" fill="#fff6e2"/><rect x="376.7" y="1067.1" width="26.2" height="26.2" fill="#fffdf7"/><rect x="298.9" y="1093" width="26.2" height="26.2" fill="#fffdf7"/><rect x="324.8" y="1093" width="26.2" height="26.2" fill="#fffdf7"/><rect x="350.8" y="1093" width="26.2" height="26.2" fill="#fffaee"/><rect x="298.9" y="1119" width="26.2" height="26.2" fill="#fffaee"/><rect x="324.8" y="1119" width="26.2" height="26.2" fill="#fff6e2"/><rect x="350.8" y="1119" width="26.2" height="26.2" fill="#fffaee"/><rect x="376.7" y="1119" width="26.2" height="26.2" fill="#fffdf7"/><rect x="324.8" y="1144.9" width="26.2" height="26.2" fill="#fff6e2"/><rect x="376.7" y="1144.9" width="26.2" height="26.2" fill="#fffaee"/><rect x="402.6" y="1067.1" width="26.2" height="26.2" fill="#fffdf7"/><rect x="428.5" y="1067.1" width="26.2" height="26.2" fill="#fff6e2"/><rect x="428.5" y="1093" width="26.2" height="26.2" fill="#fffdf7"/><rect x="454.5" y="1093" width="26.2" height="26.2" fill="#fffdf7"/><rect x="480.4" y="1093" width="26.2" height="26.2" fill="#fffdf7"/><rect x="402.6" y="1119" width="26.2" height="26.2" fill="#fffaee"/><rect x="454.5" y="1119" width="26.2" height="26.2" fill="#fffdf7"/><rect x="480.4" y="1119" width="26.2" height="26.2" fill="#fffdf7"/><rect x="428.5" y="1144.9" width="26.2" height="26.2" fill="#fffdf7"/><rect x="480.4" y="1144.9" width="26.2" height="26.2" fill="#fffdf7"/><rect x="532.2" y="1067.1" width="26.2" height="26.2" fill="#fff6e2"/><rect x="584.1" y="1067.1" width="26.2" height="26.2" fill="#fffdf7"/><rect x="558.1" y="1093" width="26.2" height="26.2" fill="#fffaee"/><rect x="506.3" y="1119" width="26.2" height="26.2" fill="#fffaee"/><rect x="532.2" y="1119" width="26.2" height="26.2" fill="#fffdf7"/><rect x="558.1" y="1119" width="26.2" height="26.2" fill="#fffdf7"/><rect x="584.1" y="1119" width="26.2" height="26.2" fill="#fffdf7"/><rect x="532.2" y="1144.9" width="26.2" height="26.2" fill="#fffdf7"/><rect x="558.1" y="1144.9" width="26.2" height="26.2" fill="#fffdf7"/><rect x="584.1" y="1144.9" width="26.2" height="26.2" fill="#fffdf7"/><rect x="635.9" y="1067.1" width="26.2" height="26.2" fill="#fff6e2"/><rect x="661.9" y="1067.1" width="26.2" height="26.2" fill="#fffdf7"/><rect x="687.8" y="1067.1" width="26.2" height="26.2" fill="#fffdf7"/><rect x="635.9" y="1093" width="26.2" height="26.2" fill="#fffdf7"/><rect x="661.9" y="1093" width="26.2" height="26.2" fill="#fffdf7"/><rect x="610" y="1119" width="26.2" height="26.2" fill="#fffaee"/><rect x="635.9" y="1119" width="26.2" height="26.2" fill="#fffaee"/><rect x="687.8" y="1119" width="26.2" height="26.2" fill="#fffaee"/><rect x="635.9" y="1144.9" width="26.2" height="26.2" fill="#fffdf7"/><rect x="661.9" y="1144.9" width="26.2" height="26.2" fill="#fffdf7"/><rect x="687.8" y="1144.9" width="26.2" height="26.2" fill="#fffdf7"/><rect x="91.5" y="1170.8" width="26.2" height="26.2" fill="#ffedc4"/><rect x="117.4" y="1170.8" width="26.2" height="26.2" fill="#fecb53"/><rect x="143.3" y="1170.8" width="26.2" height="26.2" fill="#ffefcb"/><rect x="169.3" y="1170.8" width="26.2" height="26.2" fill="#fff0cf"/><rect x="91.5" y="1196.7" width="26.2" height="26.2" fill="#fff8e7"/><rect x="117.4" y="1196.7" width="26.2" height="26.2" fill="#fdc339"/><rect x="143.3" y="1196.7" width="26.2" height="26.2" fill="#fffbf0"/><rect x="169.3" y="1196.7" width="26.2" height="26.2" fill="#fff1d4"/><rect x="91.5" y="1222.7" width="26.2" height="26.2" fill="#ffdc8a"/><rect x="117.4" y="1222.7" width="26.2" height="26.2" fill="#ee7703"/><rect x="143.3" y="1222.7" width="26.2" height="26.2" fill="#ffedc4"/><rect x="169.3" y="1222.7" width="26.2" height="26.2" fill="#fed470"/><rect x="91.5" y="1248.6" width="26.2" height="26.2" fill="#fffdf7"/><rect x="117.4" y="1248.6" width="26.2" height="26.2" fill="#fed77b"/><rect x="143.3" y="1248.6" width="26.2" height="26.2" fill="#fffdf7"/><rect x="169.3" y="1248.6" width="26.2" height="26.2" fill="#fff8e7"/><rect x="195.2" y="1170.8" width="26.2" height="26.2" fill="#fffcf2"/><rect x="221.1" y="1170.8" width="26.2" height="26.2" fill="#fecb53"/><rect x="247" y="1170.8" width="26.2" height="26.2" fill="#ffedc4"/><rect x="273" y="1170.8" width="26.2" height="26.2" fill="#fff4db"/><rect x="195.2" y="1196.7" width="26.2" height="26.2" fill="#fffcf5"/><rect x="221.1" y="1196.7" width="26.2" height="26.2" fill="#fcb424"/><rect x="247" y="1196.7" width="26.2" height="26.2" fill="#fff8e7"/><rect x="273" y="1196.7" width="26.2" height="26.2" fill="#fff0cf"/><rect x="195.2" y="1222.7" width="26.2" height="26.2" fill="#ffdc8a"/><rect x="221.1" y="1222.7" width="26.2" height="26.2" fill="#ee7703"/><rect x="247" y="1222.7" width="26.2" height="26.2" fill="#ffedc4"/><rect x="273" y="1222.7" width="26.2" height="26.2" fill="#fed470"/><rect x="195.2" y="1248.6" width="26.2" height="26.2" fill="#fffdf7"/><rect x="221.1" y="1248.6" width="26.2" height="26.2" fill="#ffda83"/><rect x="273" y="1248.6" width="26.2" height="26.2" fill="#fff5e0"/><rect x="298.9" y="1170.8" width="26.2" height="26.2" fill="#ffeab8"/><rect x="324.8" y="1170.8" width="26.2" height="26.2" fill="#fdbe2a"/><rect x="350.8" y="1170.8" width="26.2" height="26.2" fill="#fff0cf"/><rect x="376.7" y="1170.8" width="26.2" height="26.2" fill="#fff1d4"/><rect x="324.8" y="1196.7" width="26.2" height="26.2" fill="#ffe6a8"/><rect x="350.8" y="1196.7" width="26.2" height="26.2" fill="#fffcf2"/><rect x="376.7" y="1196.7" width="26.2" height="26.2" fill="#fff8e7"/><rect x="298.9" y="1222.7" width="26.2" height="26.2" fill="#ffe6a8"/><rect x="324.8" y="1222.7" width="26.2" height="26.2" fill="#ee7703"/><rect x="350.8" y="1222.7" width="26.2" height="26.2" fill="#ffedc4"/><rect x="376.7" y="1222.7" width="26.2" height="26.2" fill="#ffe199"/><rect x="298.9" y="1248.6" width="26.2" height="26.2" fill="#fffefa"/><rect x="324.8" y="1248.6" width="26.2" height="26.2" fill="#ffe6a8"/><rect x="350.8" y="1248.6" width="26.2" height="26.2" fill="#fffcf2"/><rect x="376.7" y="1248.6" width="26.2" height="26.2" fill="#fff8e7"/><rect x="402.6" y="1170.8" width="26.2" height="26.2" fill="#ffefcb"/><rect x="428.5" y="1170.8" width="26.2" height="26.2" fill="#fecb53"/><rect x="454.5" y="1170.8" width="26.2" height="26.2" fill="#ffedc4"/><rect x="480.4" y="1170.8" width="26.2" height="26.2" fill="#ffefcb"/><rect x="402.6" y="1196.7" width="26.2" height="26.2" fill="#fffbf0"/><rect x="428.5" y="1196.7" width="26.2" height="26.2" fill="#fcb424"/><rect x="454.5" y="1196.7" width="26.2" height="26.2" fill="#fff9ec"/><rect x="480.4" y="1196.7" width="26.2" height="26.2" fill="#fff0cf"/><rect x="402.6" y="1222.7" width="26.2" height="26.2" fill="#ffda83"/><rect x="428.5" y="1222.7" width="26.2" height="26.2" fill="#ee7703"/><rect x="454.5" y="1222.7" width="26.2" height="26.2" fill="#ffedc4"/><rect x="480.4" y="1222.7" width="26.2" height="26.2" fill="#fecb53"/><rect x="402.6" y="1248.6" width="26.2" height="26.2" fill="#fffdf7"/><rect x="428.5" y="1248.6" width="26.2" height="26.2" fill="#fed470"/><rect x="454.5" y="1248.6" width="26.2" height="26.2" fill="#fffcf2"/><rect x="480.4" y="1248.6" width="26.2" height="26.2" fill="#ffefcb"/><rect x="506.3" y="1170.8" width="26.2" height="26.2" fill="#fff9ec"/><rect x="532.2" y="1170.8" width="26.2" height="26.2" fill="#fed470"/><rect x="558.1" y="1170.8" width="26.2" height="26.2" fill="#ffedc4"/><rect x="584.1" y="1170.8" width="26.2" height="26.2" fill="#fff1d4"/><rect x="506.3" y="1196.7" width="26.2" height="26.2" fill="#fffcf5"/><rect x="532.2" y="1196.7" width="26.2" height="26.2" fill="#faad21"/><rect x="558.1" y="1196.7" width="26.2" height="26.2" fill="#fffbf0"/><rect x="584.1" y="1196.7" width="26.2" height="26.2" fill="#ffefcb"/><rect x="506.3" y="1222.7" width="26.2" height="26.2" fill="#ffda83"/><rect x="532.2" y="1222.7" width="26.2" height="26.2" fill="#ee7703"/><rect x="558.1" y="1222.7" width="26.2" height="26.2" fill="#ffebbc"/><rect x="584.1" y="1222.7" width="26.2" height="26.2" fill="#fecb53"/><rect x="506.3" y="1248.6" width="26.2" height="26.2" fill="#fffefa"/><rect x="532.2" y="1248.6" width="26.2" height="26.2" fill="#fed470"/><rect x="584.1" y="1248.6" width="26.2" height="26.2" fill="#fff0cf"/><rect x="610" y="1170.8" width="26.2" height="26.2" fill="#fff8e7"/><rect x="635.9" y="1170.8" width="26.2" height="26.2" fill="#fecb53"/><rect x="661.9" y="1170.8" width="26.2" height="26.2" fill="#ffedc4"/><rect x="687.8" y="1170.8" width="26.2" height="26.2" fill="#fff0cf"/><rect x="610" y="1196.7" width="26.2" height="26.2" fill="#fffbf0"/><rect x="635.9" y="1196.7" width="26.2" height="26.2" fill="#fcb424"/><rect x="661.9" y="1196.7" width="26.2" height="26.2" fill="#fff8e7"/><rect x="687.8" y="1196.7" width="26.2" height="26.2" fill="#fff0cf"/><rect x="610" y="1222.7" width="26.2" height="26.2" fill="#fed77b"/><rect x="635.9" y="1222.7" width="26.2" height="26.2" fill="#ee7703"/><rect x="661.9" y="1222.7" width="26.2" height="26.2" fill="#ffedc4"/><rect x="687.8" y="1222.7" width="26.2" height="26.2" fill="#fecb53"/><rect x="610" y="1248.6" width="26.2" height="26.2" fill="#fffefa"/><rect x="635.9" y="1248.6" width="26.2" height="26.2" fill="#fed470"/><rect x="661.9" y="1248.6" width="26.2" height="26.2" fill="#fffdf7"/><rect x="687.8" y="1248.6" width="26.2" height="26.2" fill="#fff0cf"/><rect x="91.5" y="1274.5" width="26.2" height="26.2" fill="#fff1d4"/><rect x="117.4" y="1274.5" width="26.2" height="26.2" fill="#fffdf7"/><rect x="169.3" y="1274.5" width="26.2" height="26.2" fill="#fffdf7"/><rect x="91.5" y="1300.4" width="26.2" height="26.2" fill="#fffdf7"/><rect x="117.4" y="1300.4" width="26.2" height="26.2" fill="#fffdf7"/><rect x="91.5" y="1326.3" width="26.2" height="26.2" fill="#fffdf7"/><rect x="117.4" y="1326.3" width="26.2" height="26.2" fill="#fffaee"/><rect x="143.3" y="1326.3" width="26.2" height="26.2" fill="#fffdf7"/><rect x="169.3" y="1326.3" width="26.2" height="26.2" fill="#fffdf7"/><rect x="117.4" y="1352.3" width="26.2" height="26.2" fill="#fffdf7"/><rect x="143.3" y="1352.3" width="26.2" height="26.2" fill="#fffdf7"/><rect x="169.3" y="1352.3" width="26.2" height="26.2" fill="#fffdf7"/><rect x="195.2" y="1274.5" width="26.2" height="26.2" fill="#fff1d4"/><rect x="273" y="1274.5" width="26.2" height="26.2" fill="#fffdf7"/><rect x="195.2" y="1326.3" width="26.2" height="26.2" fill="#fffdf7"/><rect x="221.1" y="1326.3" width="26.2" height="26.2" fill="#fffdf7"/><rect x="247" y="1326.3" width="26.2" height="26.2" fill="#fffdf7"/><rect x="273" y="1326.3" width="26.2" height="26.2" fill="#fffdf7"/><rect x="195.2" y="1352.3" width="26.2" height="26.2" fill="#fffdf7"/><rect x="221.1" y="1352.3" width="26.2" height="26.2" fill="#fffdf7"/><rect x="298.9" y="1274.5" width="26.2" height="26.2" fill="#fffaee"/><rect x="324.8" y="1274.5" width="26.2" height="26.2" fill="#fffdf7"/><rect x="350.8" y="1274.5" width="26.2" height="26.2" fill="#fffaee"/><rect x="298.9" y="1300.4" width="26.2" height="26.2" fill="#fffdf7"/><rect x="298.9" y="1326.3" width="26.2" height="26.2" fill="#fffdf7"/><rect x="324.8" y="1326.3" width="26.2" height="26.2" fill="#fffdf7"/><rect x="350.8" y="1326.3" width="26.2" height="26.2" fill="#fffdf7"/><rect x="324.8" y="1352.3" width="26.2" height="26.2" fill="#fffdf7"/><rect x="350.8" y="1352.3" width="26.2" height="26.2" fill="#fffdf7"/><rect x="402.6" y="1274.5" width="26.2" height="26.2" fill="#fff6e2"/><rect x="480.4" y="1274.5" width="26.2" height="26.2" fill="#fffdf7"/><rect x="402.6" y="1300.4" width="26.2" height="26.2" fill="#fffdf7"/><rect x="402.6" y="1326.3" width="26.2" height="26.2" fill="#fffdf7"/><rect x="428.5" y="1326.3" width="26.2" height="26.2" fill="#fffaee"/><rect x="402.6" y="1352.3" width="26.2" height="26.2" fill="#fffdf7"/><rect x="506.3" y="1274.5" width="26.2" height="26.2" fill="#fff1d4"/><rect x="584.1" y="1274.5" width="26.2" height="26.2" fill="#fffdf7"/><rect x="506.3" y="1300.4" width="26.2" height="26.2" fill="#fffaee"/><rect x="558.1" y="1300.4" width="26.2" height="26.2" fill="#fffdf7"/><rect x="506.3" y="1326.3" width="26.2" height="26.2" fill="#fffdf7"/><rect x="532.2" y="1326.3" width="26.2" height="26.2" fill="#fffdf7"/><rect x="558.1" y="1326.3" width="26.2" height="26.2" fill="#fffdf7"/><rect x="584.1" y="1326.3" width="26.2" height="26.2" fill="#fffdf7"/><rect x="506.3" y="1352.3" width="26.2" height="26.2" fill="#fffdf7"/><rect x="532.2" y="1352.3" width="26.2" height="26.2" fill="#fffdf7"/><rect x="610" y="1274.5" width="26.2" height="26.2" fill="#fff1d4"/><rect x="687.8" y="1274.5" width="26.2" height="26.2" fill="#fffdf7"/><rect x="610" y="1300.4" width="26.2" height="26.2" fill="#fffaee"/><rect x="610" y="1326.3" width="26.2" height="26.2" fill="#fffaee"/><rect x="687.8" y="1326.3" width="26.2" height="26.2" fill="#fffdf7"/><rect x="91.5" y="1378.2" width="26.2" height="26.2" fill="#fffdf7"/><rect x="169.3" y="1404.1" width="26.2" height="26.2" fill="#fffdf7"/><rect x="91.5" y="1430" width="26.2" height="26.2" fill="#fffdf7"/><rect x="117.4" y="1430" width="26.2" height="26.2" fill="#fffdf7"/><rect x="169.3" y="1430" width="26.2" height="26.2" fill="#fffdf7"/><rect x="117.4" y="1456" width="26.2" height="26.2" fill="#fffdf7"/><rect x="169.3" y="1456" width="26.2" height="26.2" fill="#fffdf7"/><rect x="221.1" y="1378.2" width="26.2" height="26.2" fill="#fffdf7"/><rect x="247" y="1378.2" width="26.2" height="26.2" fill="#fffdf7"/><rect x="273" y="1378.2" width="26.2" height="26.2" fill="#fffdf7"/><rect x="247" y="1404.1" width="26.2" height="26.2" fill="#fffdf7"/><rect x="273" y="1404.1" width="26.2" height="26.2" fill="#fffdf7"/><rect x="221.1" y="1430" width="26.2" height="26.2" fill="#fffdf7"/><rect x="324.8" y="1430" width="26.2" height="26.2" fill="#fffaee"/><rect x="350.8" y="1430" width="26.2" height="26.2" fill="#fffdf7"/><rect x="376.7" y="1456" width="26.2" height="26.2" fill="#fffaee"/><rect x="428.5" y="1378.2" width="26.2" height="26.2" fill="#fffdf7"/><rect x="480.4" y="1378.2" width="26.2" height="26.2" fill="#fffdf7"/><rect x="428.5" y="1430" width="26.2" height="26.2" fill="#fffdf7"/><rect x="428.5" y="1456" width="26.2" height="26.2" fill="#fffdf7"/><rect x="584.1" y="1378.2" width="26.2" height="26.2" fill="#fffdf7"/><rect x="506.3" y="1404.1" width="26.2" height="26.2" fill="#fffdf7"/><rect x="584.1" y="1404.1" width="26.2" height="26.2" fill="#fffdf7"/><rect x="506.3" y="1430" width="26.2" height="26.2" fill="#fffdf7"/><rect x="532.2" y="1430" width="26.2" height="26.2" fill="#fffdf7"/><rect x="635.9" y="1378.2" width="26.2" height="26.2" fill="#fffdf7"/><rect x="661.9" y="1378.2" width="26.2" height="26.2" fill="#fffdf7"/><rect x="687.8" y="1378.2" width="26.2" height="26.2" fill="#fffdf7"/><rect x="635.9" y="1404.1" width="26.2" height="26.2" fill="#fffdf7"/><rect x="687.8" y="1404.1" width="26.2" height="26.2" fill="#fffdf7"/><rect x="610" y="1430" width="26.2" height="26.2" fill="#fffaee"/><rect x="635.9" y="1430" width="26.2" height="26.2" fill="#fffdf7"/></g>
<path d="M91.5,858.8 V1482.8 M90.6,859.7 H714.6 M195.2,858.8 V1482.8 M90.6,963.4 H714.6 M298.9,858.8 V1482.8 M90.6,1067.1 H714.6 M402.6,858.8 V1482.8 M90.6,1170.8 H714.6 M506.3,858.8 V1482.8 M90.6,1274.5 H714.6 M610,858.8 V1482.8 M90.6,1378.2 H714.6 M713.7,858.8 V1482.8 M90.6,1481.9 H714.6 " stroke="#000" stroke-width="1.9" fill="none"/>
<rect x="73.2" y="862.3" width="10.9" height="99.3" fill="#1e90ff"/>
<rect x="73.2" y="966" width="10.9" height="99.3" fill="#000000"/>
<rect x="73.2" y="1069.7" width="10.9" height="99.3" fill="#ff0000"/>
<rect x="73.2" y="1173.4" width="10.9" height="99.3" fill="#006400"/>
<rect x="73.2" y="1277.1" width="10.9" height="99.3" fill="#999999"/>
<rect x="73.2" y="1380.8" width="10.9" height="99.3" fill="#ffa500"/>
<text transform="translate(61.3 909.7) rotate(-90) scale(1 1.04)" font-size="38.3" text-anchor="middle" fill="#231815" >C&gt;A</text>
<text transform="translate(61.3 1009.9) rotate(-90) scale(1 1.04)" font-size="38.3" text-anchor="middle" fill="#231815" >C&gt;G</text>
<text transform="translate(61.3 1110.1) rotate(-90) scale(1 1.04)" font-size="38.3" text-anchor="middle" fill="#231815" >C&gt;T</text>
<text transform="translate(61.3 1220) rotate(-90) scale(1 1.04)" font-size="38.3" text-anchor="middle" fill="#231815" >T&gt;A</text>
<text transform="translate(61.3 1323.9) rotate(-90) scale(1 1.04)" font-size="38.3" text-anchor="middle" fill="#231815" >T&gt;C</text>
<text transform="translate(61.3 1426.1) rotate(-90) scale(1 1.04)" font-size="38.3" text-anchor="middle" fill="#231815" >T&gt;G</text>
<text transform="translate(143 845.5) scale(1 1.04)" font-size="33.3" text-anchor="middle" fill="#000" >P7U1</text>
<text transform="translate(249.8 845.5) scale(1 1.04)" font-size="33.3" text-anchor="middle" fill="#000" >P7U2</text>
<text transform="translate(353.7 845.5) scale(1 1.04)" font-size="33.3" text-anchor="middle" fill="#000" >P7U3</text>
<text transform="translate(454.6 845.5) scale(1 1.04)" font-size="33.3" text-anchor="middle" fill="#000" >P7U4</text>
<text transform="translate(563 845.5) scale(1 1.04)" font-size="33.3" text-anchor="middle" fill="#000" >P7U5</text>
<text transform="translate(664.7 845.5) scale(1 1.04)" font-size="33.3" text-anchor="middle" fill="#000" >P7U6</text>
<text transform="translate(726 886.7) scale(1 1.04)" font-size="24.3" text-anchor="middle" fill="#000" >A</text>
<text transform="translate(726 911.2) scale(1 1.04)" font-size="24.3" text-anchor="middle" fill="#000" >C</text>
<text transform="translate(726 934.7) scale(1 1.04)" font-size="24.3" text-anchor="middle" fill="#000" >G</text>
<text transform="translate(726 960.7) scale(1 1.04)" font-size="24.3" text-anchor="middle" fill="#000" >T</text>
<text transform="translate(726 990.4) scale(1 1.04)" font-size="24.3" text-anchor="middle" fill="#000" >A</text>
<text transform="translate(726 1014.9) scale(1 1.04)" font-size="24.3" text-anchor="middle" fill="#000" >C</text>
<text transform="translate(726 1038.4) scale(1 1.04)" font-size="24.3" text-anchor="middle" fill="#000" >G</text>
<text transform="translate(726 1064.4) scale(1 1.04)" font-size="24.3" text-anchor="middle" fill="#000" >T</text>
<text transform="translate(726 1094.1) scale(1 1.04)" font-size="24.3" text-anchor="middle" fill="#000" >A</text>
<text transform="translate(726 1118.6) scale(1 1.04)" font-size="24.3" text-anchor="middle" fill="#000" >C</text>
<text transform="translate(726 1142.1) scale(1 1.04)" font-size="24.3" text-anchor="middle" fill="#000" >G</text>
<text transform="translate(726 1168.1) scale(1 1.04)" font-size="24.3" text-anchor="middle" fill="#000" >T</text>
<text transform="translate(726 1197.8) scale(1 1.04)" font-size="24.3" text-anchor="middle" fill="#000" >A</text>
<text transform="translate(726 1222.3) scale(1 1.04)" font-size="24.3" text-anchor="middle" fill="#000" >C</text>
<text transform="translate(726 1245.8) scale(1 1.04)" font-size="24.3" text-anchor="middle" fill="#000" >G</text>
<text transform="translate(726 1271.8) scale(1 1.04)" font-size="24.3" text-anchor="middle" fill="#000" >T</text>
<text transform="translate(726 1301.5) scale(1 1.04)" font-size="24.3" text-anchor="middle" fill="#000" >A</text>
<text transform="translate(726 1326) scale(1 1.04)" font-size="24.3" text-anchor="middle" fill="#000" >C</text>
<text transform="translate(726 1349.5) scale(1 1.04)" font-size="24.3" text-anchor="middle" fill="#000" >G</text>
<text transform="translate(726 1375.5) scale(1 1.04)" font-size="24.3" text-anchor="middle" fill="#000" >T</text>
<text transform="translate(726 1405.2) scale(1 1.04)" font-size="24.3" text-anchor="middle" fill="#000" >A</text>
<text transform="translate(726 1429.7) scale(1 1.04)" font-size="24.3" text-anchor="middle" fill="#000" >C</text>
<text transform="translate(726 1453.2) scale(1 1.04)" font-size="24.3" text-anchor="middle" fill="#000" >G</text>
<text transform="translate(726 1479.2) scale(1 1.04)" font-size="24.3" text-anchor="middle" fill="#000" >T</text>
<text transform="translate(107.6 1510) scale(1 1.04)" font-size="24.5" text-anchor="middle" fill="#000" >A</text>
<text transform="translate(131.6 1510) scale(1 1.04)" font-size="24.5" text-anchor="middle" fill="#000" >C</text>
<text transform="translate(157.4 1510) scale(1 1.04)" font-size="24.5" text-anchor="middle" fill="#000" >G</text>
<text transform="translate(181.4 1510) scale(1 1.04)" font-size="24.5" text-anchor="middle" fill="#000" >T</text>
<text transform="translate(210.6 1510) scale(1 1.04)" font-size="24.5" text-anchor="middle" fill="#000" >A</text>
<text transform="translate(235.3 1510) scale(1 1.04)" font-size="24.5" text-anchor="middle" fill="#000" >C</text>
<text transform="translate(261 1510) scale(1 1.04)" font-size="24.5" text-anchor="middle" fill="#000" >G</text>
<text transform="translate(285.7 1510) scale(1 1.04)" font-size="24.5" text-anchor="middle" fill="#000" >T</text>
<text transform="translate(314.8 1510) scale(1 1.04)" font-size="24.5" text-anchor="middle" fill="#000" >A</text>
<text transform="translate(338.9 1510) scale(1 1.04)" font-size="24.5" text-anchor="middle" fill="#000" >C</text>
<text transform="translate(365.3 1510) scale(1 1.04)" font-size="24.5" text-anchor="middle" fill="#000" >G</text>
<text transform="translate(390.5 1510) scale(1 1.04)" font-size="24.5" text-anchor="middle" fill="#000" >T</text>
<text transform="translate(418.3 1510) scale(1 1.04)" font-size="24.5" text-anchor="middle" fill="#000" >A</text>
<text transform="translate(443.2 1510) scale(1 1.04)" font-size="24.5" text-anchor="middle" fill="#000" >C</text>
<text transform="translate(468.9 1510) scale(1 1.04)" font-size="24.5" text-anchor="middle" fill="#000" >G</text>
<text transform="translate(493.4 1510) scale(1 1.04)" font-size="24.5" text-anchor="middle" fill="#000" >T</text>
<text transform="translate(518.6 1510) scale(1 1.04)" font-size="24.5" text-anchor="middle" fill="#000" >A</text>
<text transform="translate(542.5 1510) scale(1 1.04)" font-size="24.5" text-anchor="middle" fill="#000" >C</text>
<text transform="translate(568.2 1510) scale(1 1.04)" font-size="24.5" text-anchor="middle" fill="#000" >G</text>
<text transform="translate(595 1510) scale(1 1.04)" font-size="24.5" text-anchor="middle" fill="#000" >T</text>
<text transform="translate(626.1 1510) scale(1 1.04)" font-size="24.5" text-anchor="middle" fill="#000" >A</text>
<text transform="translate(650.3 1510) scale(1 1.04)" font-size="24.5" text-anchor="middle" fill="#000" >C</text>
<text transform="translate(676.5 1510) scale(1 1.04)" font-size="24.5" text-anchor="middle" fill="#000" >G</text>
<text transform="translate(701.9 1510) scale(1 1.04)" font-size="24.5" text-anchor="middle" fill="#000" >T</text>
<path d="M91,1520.3 H718 M752.3,859 V1481.5" stroke="#000" stroke-width="1.8" fill="none"/>
<rect x="735.3" y="819.2" width="35.3" height="40.8" fill="#6b696a"/>
<text transform="translate(753 848.7) scale(1 1.04)" font-size="27.6" text-anchor="middle" fill="#fff" >3&#8217;</text>
<rect x="717.7" y="1499.1" width="35.2" height="41.1" fill="#6b696a"/>
<text transform="translate(735.3 1527.5) scale(1 1.04)" font-size="27.6" text-anchor="middle" fill="#fff" >5&#8217;</text>
<defs><linearGradient id="cb" x1="0" y1="0" x2="1" y2="0"><stop offset="0" stop-color="#fffefb"/><stop offset="0.12" stop-color="#fff6e2"/><stop offset="0.25" stop-color="#ffedc6"/><stop offset="0.38" stop-color="#ffdf98"/><stop offset="0.47" stop-color="#fecf62"/><stop offset="0.55" stop-color="#fdc23a"/><stop offset="0.68" stop-color="#f9b13c"/><stop offset="0.8" stop-color="#f4a131"/><stop offset="0.92" stop-color="#ee8a1c"/><stop offset="1" stop-color="#e8740a"/></linearGradient></defs>
<rect x="528.2" y="1560.7" width="226.2" height="31" fill="url(#cb)" stroke="#1a1a1a" stroke-width="2"/>
<text x="339.3" y="1586" font-size="33.5" text-anchor="start" fill="#000" >Percentage</text>
<text transform="translate(541.5 1585) scale(1 1.04)" font-size="24" text-anchor="middle" fill="#000" >0</text>
<text transform="translate(644.6 1585) scale(1 1.04)" font-size="24" text-anchor="middle" fill="#000" >10</text>
<text transform="translate(734.8 1585) scale(1 1.04)" font-size="24" text-anchor="middle" fill="#000" >20</text>
</g>
<g id="panelD">
<defs><linearGradient id="tg" gradientUnits="userSpaceOnUse" x1="904" y1="0" x2="931" y2="0" spreadMethod="reflect"><stop offset="0" stop-color="#72bfc8"/><stop offset="0.5" stop-color="#86cad1"/><stop offset="1" stop-color="#9cd4d9"/></linearGradient><linearGradient id="gg" gradientUnits="userSpaceOnUse" x1="1256" y1="0" x2="1291" y2="0" spreadMethod="reflect"><stop offset="0" stop-color="#b9b9b9"/><stop offset="0.5" stop-color="#c4c4c4"/><stop offset="1" stop-color="#cecece"/></linearGradient></defs>
<text transform="translate(790.3 810.2) scale(1 1.04)" font-size="58.5" text-anchor="start" fill="#000" font-weight="bold" >D</text>
<text x="1091.5" y="822.5" font-size="37.5" text-anchor="middle" fill="#000" >Shared</text>
<text x="1639" y="824.7" font-size="37.6" text-anchor="middle" fill="#000" >Private</text>
<rect x="902.8" y="831.6" width="352.4" height="12" fill="#7bc4cc"/>
<rect x="1255.2" y="831.6" width="672.5" height="12" fill="#bdbdbd"/>
<text transform="translate(832.9 1189) rotate(-90)" font-size="36.9" text-anchor="middle" fill="#000" >Mutant cell fractions</text>
<path d="M904.6,931.8V920.4H905.4V913.1H906.2V917.2H907V920H907.8V922.1H908.6V919.2H909.4V902.2H910.2V922.7H911V922.8H911.8V907.8H912.6V917H913.4V919.3H914.2V923.3H915V923H915.8V912.2H916.6V920.4H917.4V919.9H918.2V920H919V920.3H919.8V916.7H920.6V917.8H921.4V921.3H922.2V921.4H923V918.3H923.8V917.7H924.6V917H925.4V923.4H926.2V917.3H927V916.9H927.8V922.9H928.6V918.2H929.4V922.8H930.2V917H931V922.6H931.8V922.7H932.6V918.1H933.4V919.6H934.2V922.1H935V922.5H935.8V922.6H936.6V921.9H937.4V916.9H938.2V921.3H939V922H939.8V917.7H940.6V922.7H941.4V921.9H942.2V918.2H943V921.4H943.8V922.8H944.6V921.7H945.4V920.9H946.2V917H947V919.5H947.8V922.1H948.6V917.3H949.4V921.7H950.2V918.5H951V922.1H951.8V917.5H952.6V920.6H953.4V923.1H954.2V921.8H955V921.7H955.8V919.4H956.6V922.2H957.4V922.9H958.2V919.6H959V919.3H959.8V917.3H960.6V923.2H961.4V920.4H962.2V922.2H963V919.6H963.8V921H964.6V916.9H965.4V918.8H966.2V916H967V917.3H967.8V910.8H968.6V920.2H969.4V921.2H970.2V922.9H971V918.5H971.8V918.5H972.6V918.1H973.4V921H974.2V917.4H975V920.6H975.8V917.6H976.6V919.2H977.4V919.5H978.2V922.8H979V916.8H979.8V918.5H980.6V918.5H981.4V920.4H982.2V922.8H983V923.2H983.8V920.2H984.6V918.7H985.4V919.3H986.2V913.6H987V918.9H987.8V922.2H988.6V919H989.4V917.4H990.2V918.9H991V920.5H991.8V917.3H992.6V920.8H993.4V921.3H994.2V920.1H995V917.7H995.8V917.1H996.6V922.2H997.4V921.5H998.2V920.6H999V920.1H999.8V917.8H1000.6V920.4H1001.4V923.1H1002.2V923.1H1003V919.6H1003.8V915H1004.6V909.1H1005.4V921.8H1006.2V923H1007V920.4H1007.8V919H1008.6V917H1009.4V922H1010.2V912.1H1011V918.6H1011.8V921.6H1012.6V918.7H1013.4V919.3H1014.2V920.7H1015V917.3H1015.8V917.2H1016.6V922.5H1017.4V919.2H1018.2V920.9H1019V917.5H1019.8V917.1H1020.6V919H1021.4V918.6H1022.2V919.1H1023V921.9H1023.8V916.9H1024.6V919.8H1025.4V921.2H1026.2V917.7H1027V922.8H1027.8V919.7H1028.6V909.3H1029.4V922.9H1030.2V922.2H1031V918.1H1031.8V922.4H1032.6V918.6H1033.4V918.8H1034.2V920.1H1035V922.8H1035.8V919.9H1036.6V918.5H1037.4V919.9H1037.8V931.8ZM1136.2,931.8V878.1H1137V919.2H1137.8V921.3H1138.6V915.1H1139.4V915.7H1140.2V919.6H1141V923.5H1141.8V919.9H1142.6V925.5H1143.4V919.7H1144.2V916.3H1145V920H1145.8V925.1H1146.6V920.9H1147.4V914.9H1148.2V920.2H1149V920.7H1149.8V915.1H1150.6V922.1H1151.4V918.5H1152.2V924.3H1153V925.6H1153.8V923.1H1154.6V922H1155.4V905.9H1156.2V924.4H1157V922.9H1157.8V919.5H1158.6V921.4H1159.4V919.5H1160.2V923.4H1161V918.2H1161.8V915.7H1162.6V915.6H1163.4V917H1164.2V915.1H1165V922.1H1165.8V923.3H1166.6V915.3H1167.4V923H1168.1V931.8ZM1222.6,931.8V917H1223.4V931.8ZM1224,931.8V922.5H1224.8V931.8ZM1230.7,931.8V924H1231.5V931.8ZM1231.8,931.8V925.6H1232.4V931.8ZM1245.3,931.8V921.7H1246V931.8ZM1250,931.8V916.2H1250.8V931.8ZM1251.4,931.8V924H1252.2V931.8ZM1253,931.8V917.8H1253.8V931.8ZM1254.4,931.8V913.9H1255.4V931.8ZM904.6,1051.6V1022.3H905.4V1011H906.2V1011.9H907V1019.5H907.8V1027.1H908.6V1014H909.4V1008.3H910.2V1017.5H911V1017.5H911.8V1023.7H912.6V996H913.4V1017.3H914.2V1024.6H915V1023.4H915.8V1007.9H916.6V990.1H917.4V1018.3H918.2V1021H919V1017.3H919.8V993.8H920.6V1010.8H921.4V1018.5H922.2V1019.5H923V1024.2H923.8V1027.2H924.6V1011.6H925.4V1010.5H926.2V1019.5H927V1017.5H927.8V1011.6H928.6V1009.5H929.4V1012.1H930.2V1019.5H931V1010.1H931.8V1012.3H932.6V1019.5H933.4V1026.1H934.2V998.9H935V1014.9H935.8V1022.9H936.6V1014.3H937.4V1014.4H938.2V1016.9H939V1007.7H939.8V1013.6H940.6V995.1H941.4V1012.9H942.2V1001.2H943V1020H943.8V1022.5H944.6V1016.6H945.4V1008.4H946.2V1007.8H947V1011.5H947.8V1015.7H948.6V1026.6H949.4V1024.3H950.2V1024.1H951V990.2H951.8V1019.2H952.6V1015.7H953.4V1021.8H954.2V1016.4H955V1013.3H955.8V1027.2H956.6V1026.6H957.4V1012.6H958.2V1009.7H959V1026.5H959.8V1008.8H960.6V1009.6H961.4V1018H962.2V1022.7H963V1009H963.8V1018.2H964.6V1011.3H965.4V1025.2H966.2V1018.5H967V1026.4H967.8V1025H968.6V1014.3H969.4V1022.3H970.2V1019.2H971V1017H971.8V1008.7H972.6V1022.8H973.4V1009.8H974.2V1015.1H975V1022.1H975.8V1016.3H976.6V1015H977.4V1023.7H978.2V1008.1H979V1003.2H979.8V1022.1H980.6V1015.2H981.4V1016.8H982.2V1025.8H983V1016.6H983.8V1020.1H984.6V1023.3H985.4V1012.8H986.2V1026H987V1011.5H987.8V1012.3H988.6V1019.1H989.4V1011.5H990.2V1014.6H991V1021H991.8V1012.7H992.6V1019H993.4V1025.6H994.2V1025.9H995V1016.3H995.8V1013.9H996.6V1012.2H997.4V1023.3H998.2V1025.9H999V1013.2H999.8V1021.9H1000.6V1020.4H1001.4V1020.2H1002.2V1013.5H1003V1009.3H1003.8V1009.4H1004.6V1011.6H1005.4V1021.2H1006.2V1009H1007V1022.6H1007.8V1020.2H1008.6V1019.7H1009.4V1023.6H1010.2V1011.7H1011V1011H1011.8V1024H1012.6V1010.1H1013.4V1027H1014.2V1016.7H1015V1008.4H1015.8V996.1H1016.6V1011.9H1017.4V1025.9H1018.2V1009.7H1019V1014.9H1019.8V1012.7H1020.6V1022.6H1021.4V1012.4H1022.2V1012.4H1023V1020.8H1023.8V1014.2H1024.6V1016.9H1025.4V1013.5H1026.2V1019.4H1027V1014.3H1027.8V1011.6H1028.6V1009.9H1029.4V1014.8H1030.2V1013.4H1031V1019.1H1031.8V1024.6H1032.6V1007.9H1033.4V1024.2H1034.2V1019.1H1035V999.6H1035.8V1025.2H1036.6V1012.1H1037.4V1026.2H1038.2V1015.9H1039V1026.7H1039.8V1023.8H1040.6V1022.8H1041.4V1015.7H1042.2V1023.8H1043V1024.1H1043.8V1021.3H1044.6V1011.3H1045.4V1022.3H1046.2V1009.4H1047V1016.7H1047.8V1017.9H1048.6V1026.5H1049.4V1011.6H1050.2V1017H1051V1022H1051.8V1014.5H1052.6V1027.3H1053.4V1020.1H1054.2V1013.4H1055V1024.4H1055.8V1021.1H1056.6V1010.3H1057.4V1014.9H1058.2V1022.2H1059V1024.5H1059.8V1027.4H1060.6V1010.8H1061.4V1025.8H1062.2V1013.3H1063V1018H1063.8V1008.6H1064.6V1010.5H1065.4V1011.9H1066.2V1009.4H1067V1011.2H1067.8V1016.7H1068.6V1024.4H1069.4V1021.3H1070.2V1026H1071V1018.2H1071.8V1020.4H1072.6V1025.4H1073.4V1018.3H1074.2V1011.1H1075V1027.2H1075.8V1013.4H1076.6V1016.3H1077.4V1027.3H1078.2V1011.7H1079V1015.3H1079.8V1020H1080.6V1021.6H1081.4V1019.7H1082.2V1022.4H1083V1013H1083.8V1008.8H1084.6V1013.2H1085.4V1011.1H1086.2V1024.7H1087V1014.1H1087.8V1023.9H1088.6V1010.9H1089.4V1025.7H1090.2V1024.4H1091V1019.4H1091.8V1009.3H1092.6V1017.4H1093.4V1012.3H1094.2V1019.8H1095V998.2H1095.8V1013.6H1096.6V1011.9H1097.4V999.2H1098.2V1020.7H1099V1025.4H1099.8V1017.4H1100.6V1011.2H1101.4V1024.3H1102.2V1009.6H1103V1020.5H1103.8V1024.7H1104.6V1008H1105.4V1013.3H1106.2V1023.6H1107V1015.1H1107.8V1025.8H1108.6V1016.1H1109.4V1021H1110.2V1020.3H1111V1025H1111.8V1024.8H1112.6V1016.7H1113.4V1016.4H1114.2V1009.5H1115V1011.3H1115.8V1025H1116.6V1021.8H1117.4V1022.7H1118.2V1011.1H1119V1016.6H1119.8V1026.8H1120.6V1008H1121.4V1014.5H1122.2V1014.2H1123V1019.9H1123.8V1001.1H1124.6V1018.2H1125.4V1019.8H1126.2V1024H1127V1022.3H1127.8V1020.9H1128.6V1026.7H1129.4V1024.6H1130.2V1015.6H1131V1019.3H1131.8V1013.9H1132.6V1012.6H1133.4V1007.8H1134.2V1010.6H1135V1018.9H1135.8V1009.6H1136.2V1051.6ZM1145.7,1051.6V1029H1146.5V1021.7H1147.3V1031.9H1148.1V1017.3H1148.9V1020.3H1149.7V1023.9H1150.5V1027H1151.3V1019H1152.1V998H1152.9V1015.5H1153.7V1019.3H1154.5V992H1155.3V1004.4H1156.1V1006.1H1156.9V1007.2H1157.7V1008.4H1158.5V1005.2H1159.3V1007.8H1160.1V1013.6H1160.9V1025.3H1161.7V1019.7H1162.5V1025.1H1163.3V1011.4H1164.1V1021.2H1164.9V1000.4H1165.7V1024.5H1166.5V1015.7H1167.3V1024.9H1168.1V1051.6ZM1187.2,1051.6V1025.3H1188V1012.9H1188.8V1013.2H1189.6V1019.9H1190.4V1010.8H1191.2V1024.4H1192V1024.2H1192.8V1026.9H1193.6V1011.5H1194.4V1007.1H1195.2V1010.8H1196V1010.8H1196.8V998.8H1197.6V1019.1H1198.4V1021.4H1199.2V1020.3H1200V1006.9H1200.8V1009.7H1201.6V1011.3H1202.4V1018.2H1203.2V1009.2H1204V1009.8H1204.8V1001.4H1205.6V1012.5H1206.4V1024.2H1207.2V1018.5H1208V1006.1H1208.8V1018.7H1209.6V1019.8H1210.4V1012.8H1211.2V1004.8H1212V1025.4H1212.8V1008.9H1213.6V1005.2H1214.4V1022.8H1215.2V1012.6H1216V1012.8H1216.8V1016.4H1217.6V1009.8H1218.4V1017.4H1219.2V1025.2H1220V1025.9H1220.8V1025H1221.6V1014.9H1222.4V1015.4H1222.9V1051.6ZM1225.4,1051.6V1028.7H1226.2V1026.8H1227V1038H1227.8V1024.1H1228.6V1020.8H1229.4V1014.4H1230.2V1029.8H1231V1033.4H1231.2V1051.6ZM1242,1051.6V1038.6H1242.8V1026.1H1243.6V1020.4H1244.4V1036.7H1245.2V1039.3H1246V1024.7H1246.8V1033.7H1247.6V1038.2H1248.4V1036.1H1249.2V1036.4H1250V1019.5H1250.8V1038.9H1251.6V1031.2H1252.4V1011.1H1253.2V1021.2H1254V1036.8H1254.8V1013.2H1255V1051.6ZM1224.6,1171.5V1149.7H1225.6V1171.5ZM904.6,1291.2V1262.8H905.4V1271.5H906.2V1270.9H907V1277.8H907.8V1265H908.6V1274.3H909.4V1268.7H910.2V1270.3H911V1272H911.8V1261.2H912.6V1277.7H913.4V1257.7H914.2V1266.2H915V1268H915.8V1270.3H916.6V1263.6H917.4V1264.7H918.2V1272.3H919V1268.7H919.8V1274.8H920.6V1270.2H921.4V1270.5H922.2V1266.5H923V1274.8H923.8V1277.1H924.6V1272H925.4V1278H926.2V1273.8H927V1262.2H927.8V1273.7H928.6V1275.7H929.4V1272.1H930.2V1265.7H931V1278H931.8V1271.6H932.6V1262.9H933.4V1264.9H934.2V1277.4H935V1259.4H935.8V1257.9H936.6V1270.9H937.4V1276H938.2V1273.8H939V1266.7H939.8V1274.8H940.6V1265.9H941.4V1271.6H942.2V1274.4H943V1272.3H943.8V1255H944.6V1268.5H945.4V1261.3H946.2V1266.6H947V1274.6H947.8V1266.7H948.6V1263.2H949.4V1267.3H950.2V1270.9H951V1277.3H951.8V1272.6H952.6V1273.5H953.4V1271.3H954.2V1275.4H955V1274.2H955.8V1272.4H956.6V1275.7H957.4V1266.1H958.2V1257.2H959V1272H959.8V1256.2H960.6V1268.1H961.4V1272.7H962.2V1278H963V1262.8H963.8V1273.8H964.6V1275.1H965.4V1267.6H966.2V1272H967V1261.9H967.8V1267.4H968.6V1271.2H969.4V1273.5H970.2V1263H971V1259.6H971.8V1269.5H972.6V1272.1H973.4V1275.7H974.2V1274.4H975V1255.8H975.8V1271.5H976.6V1269.7H977.4V1268.8H978.2V1268.5H979V1261.4H979.8V1272.3H980.6V1272.9H981.4V1266.2H982.2V1261.5H983V1275.6H983.8V1269.8H984.6V1271.9H985.4V1265.3H986.2V1274.2H987V1272.7H987.8V1269.4H988.6V1277.3H989.4V1276.6H990.2V1276.4H991V1264.8H991.8V1275.5H992.6V1258.5H993.4V1269.5H994.2V1271.5H995V1274H995.8V1272.6H996.6V1265.1H997.4V1263.9H998.2V1271H999V1267.5H999.8V1264.3H1000.6V1271.8H1001.4V1274.3H1002.2V1278.1H1003V1261.9H1003.8V1276H1004.6V1271H1005.4V1271.4H1006.2V1254.2H1007V1258.2H1007.8V1265.6H1008.6V1276.3H1009.4V1277.9H1010.2V1269.9H1011V1273H1011.8V1263.7H1012.6V1271.5H1013.4V1265H1014.2V1271.5H1015V1268.8H1015.8V1275.8H1016.6V1276.5H1017.4V1274H1018.2V1276.3H1019V1278H1019.8V1275.8H1020.6V1273.6H1021.4V1269.9H1022.2V1260.3H1023V1262.7H1023.8V1277H1024.6V1269.9H1025.4V1274.8H1026.2V1269.9H1027V1264.2H1027.8V1277.4H1028.6V1266.9H1029.4V1273.5H1030.2V1263.2H1031V1270.6H1031.8V1265.7H1032.6V1277.9H1033.4V1276.3H1034.2V1272.1H1035V1272.9H1035.8V1278.2H1036.6V1255.9H1037.4V1264.2H1038.2V1265.5H1039V1264.3H1039.8V1264.9H1040.6V1276.6H1041.4V1271.3H1042.2V1274H1043V1278H1043.8V1274.4H1044.6V1271.9H1045.4V1264.2H1046.2V1267.2H1047V1273.5H1047.8V1272.7H1048.6V1272.5H1049.4V1274.7H1050.2V1268.8H1051V1275.3H1051.8V1275.9H1052.6V1256.2H1053.4V1271.3H1054.2V1269H1055V1274.8H1055.8V1272.7H1056.6V1276.5H1057.4V1270.8H1058.2V1274.5H1059V1266H1059.8V1273.6H1060.6V1261.8H1061.4V1275.2H1062.2V1261H1063V1267.3H1063.8V1267.1H1064.6V1267.6H1065.4V1263.4H1066.2V1269.5H1067V1276.4H1067.8V1266.3H1068.6V1266.7H1069.4V1271.6H1070.2V1267.8H1071V1255H1071.8V1270.5H1072.6V1268H1073.4V1275.7H1074.2V1261H1075V1272.9H1075.8V1261H1076.6V1263.2H1077.4V1261H1078.2V1274.3H1079V1267H1079.8V1263.8H1080.6V1269.4H1081.4V1277.2H1082.2V1265.9H1083V1264.2H1083.8V1269H1084.6V1274.9H1085.4V1267.1H1086.2V1268.6H1087V1269.8H1087.8V1264.4H1088.6V1264.9H1089.4V1262.5H1090.2V1275.7H1091V1257.6H1091.8V1263.2H1092.6V1276.3H1093.4V1271.6H1094.2V1267.6H1095V1277.1H1095.8V1274.7H1096.6V1263H1097.4V1274.9H1098.2V1257.7H1099V1272.8H1099.8V1273.5H1100.6V1266.2H1101.4V1276.1H1102.2V1270.2H1103V1276.3H1103.8V1267.7H1104.6V1274.9H1105.4V1266.3H1106.2V1272.1H1107V1271.2H1107.8V1267.3H1108.6V1264H1109.4V1270.4H1110.2V1261.9H1111V1266H1111.8V1268.2H1112.6V1263.1H1113.4V1263.4H1114.2V1270.4H1115V1271.6H1115.8V1267.8H1116.6V1277.2H1117.4V1273.4H1118.2V1261.7H1119V1266.2H1119.8V1274.1H1120.6V1276H1121.4V1274H1122.2V1272.4H1123V1263.5H1123.8V1268.8H1124.6V1262.7H1125.4V1272H1126.2V1265.7H1127V1272.3H1127.8V1254.9H1128.6V1270.1H1129.4V1270.2H1130.2V1266.6H1131V1261.4H1131.8V1261H1132.6V1263.9H1133.4V1266.1H1134.2V1277.2H1135V1271.3H1135.8V1274.5H1136.6V1274.7H1137.4V1275.9H1138.2V1265.4H1139V1275.4H1139.8V1267.5H1140.6V1273.9H1141.4V1265.6H1142.2V1276.3H1143V1278.1H1143.8V1261.8H1144.6V1277.9H1145.4V1269H1146.2V1276.4H1147V1291.2ZM1154.3,1291.2V1273.7H1155.1V1276.7H1155.9V1276.6H1156.7V1270.1H1157.5V1265.6H1158.3V1259.4H1159.1V1271.1H1159.9V1271H1160.7V1277H1161.5V1276.2H1162.3V1269.9H1163.1V1268.4H1163.9V1262.5H1164.7V1278.6H1165.5V1264.9H1166.3V1266.7H1167.1V1260.6H1167.9V1273.7H1168.7V1267.9H1169.5V1278H1170.3V1277.5H1171.1V1276.9H1171.9V1273.2H1172.7V1267.7H1173.5V1262.8H1174.3V1270.3H1175.1V1272.1H1175.9V1266.3H1176.7V1272.6H1177.5V1270.7H1178.3V1271.5H1179.1V1278H1179.9V1277.7H1180.7V1269.5H1181.5V1275H1182.3V1272.5H1183.1V1270.6H1183.9V1266.1H1184.7V1278.6H1185.5V1255.2H1186.3V1262.5H1187.1V1268.7H1187.9V1273.7H1188V1291.2ZM1208,1291.2V1268.5H1208.8V1270.2H1209.6V1259.8H1210.4V1274.8H1211.2V1264.7H1212V1263.5H1212.8V1274.2H1213.6V1277.9H1214.4V1264H1215.2V1273.6H1216V1264.8H1216.8V1278.5H1217.6V1278.6H1218.4V1269.2H1219.2V1250H1220V1265.5H1220.8V1279.4H1221.6V1271.7H1222.4V1261.2H1223.2V1278.1H1224V1271.3H1224.8V1272.5H1225.6V1271.4H1226.4V1273.6H1227.2V1278.2H1228V1264H1228.8V1269.3H1229.6V1277.3H1230.4V1261.7H1231.2V1262.3H1232V1271.8H1232.8V1263.9H1232.9V1291.2ZM1237.9,1291.2V1263.8H1238.7V1283.5H1239.5V1275.4H1240.3V1262.5H1241.1V1268.1H1241.9V1266H1242V1291.2ZM1249.5,1291.2V1260.6H1250.3V1264.1H1251.1V1269.4H1251.9V1269.4H1252.7V1265.5H1253.5V1264.3H1254.3V1269.2H1255V1291.2ZM904.6,1411.4V1399.4H905.4V1400.7H906.2V1401.4H907V1397.4H907.8V1401.2H908.6V1396.6H909.4V1397.5H910.2V1398.3H911V1395.4H911.8V1399.6H912.6V1401.4H913.4V1402.5H914.2V1390H915V1398.7H915.8V1400.6H916.6V1395.6H917.4V1396.8H918.2V1397H919V1401.7H919.8V1398.4H920.6V1397.1H921.4V1396H922.2V1397.7H923V1395.6H923.8V1401H924.6V1397.4H925.4V1391.2H926.2V1401.3H927V1401.3H927.8V1399.4H928.6V1401H929.4V1399.2H930.2V1402H931V1396.4H931.8V1398.9H932.6V1399H933.4V1395.9H934.2V1401.2H935V1395.7H935.8V1396.9H936.6V1399.6H937.4V1397.4H938.2V1399.2H939V1400.5H939.8V1395.6H940.6V1395.7H941.4V1402.7H942.2V1402.5H943V1402.3H943.8V1400.8H944.6V1402.8H945.4V1391H946.2V1395.4H947V1396.4H947.8V1399.1H948.6V1399H949.4V1399H950.2V1399.3H951V1397.6H951.8V1399.4H952.6V1399.4H953.4V1395.4H954.2V1402.2H955V1400.6H955.8V1395.7H956.6V1395.6H957.4V1396.4H958.2V1403.1H959V1398.5H959.8V1398.4H960.6V1395.8H961.4V1399.1H962.2V1403.1H963V1396.3H963.8V1389H964.6V1397.7H965.4V1398.6H966.2V1394.7H967V1396.9H967.8V1396.6H968.6V1400.6H969.4V1403.2H970.2V1401.2H971V1399.1H971.8V1397.8H972.6V1401.4H973.4V1401.9H974.2V1401.3H975V1397H975.8V1401.4H976.6V1401.2H977.4V1401.2H978.2V1401.8H979V1400.9H979.8V1397.4H980.6V1396.9H981.4V1402.7H982.2V1401.3H983V1400H983.8V1400.3H984.6V1395.9H985.4V1400.2H986.2V1396.9H987V1400.6H987.8V1400.2H988.6V1398.5H989.4V1399.5H990.2V1403.2H991V1400.2H991.8V1395.9H992.6V1401.6H993.4V1395.5H994.2V1400.5H995V1402.2H995.8V1395.7H996.6V1402.2H997.4V1396.2H998.2V1395.6H999V1400.3H999.8V1401.1H1000.6V1402.7H1001.4V1392.9H1002.2V1401.8H1003V1399H1003.8V1398.7H1004.6V1399H1005.4V1402.6H1006.2V1402.7H1007V1397.2H1007.8V1399.2H1008.6V1400.6H1009.4V1400.9H1010.2V1395.4H1011V1398.4H1011.8V1399.5H1012.6V1395.7H1013.4V1403.1H1014.2V1400.1H1015V1402H1015.8V1397.4H1016.6V1403.2H1017.4V1396.8H1018.2V1398H1019V1392.9H1019.8V1403H1020.6V1398.3H1021.4V1399.5H1022.2V1400.7H1023V1396.2H1023.8V1399.9H1024.6V1399.6H1025.4V1395.9H1026.2V1395.7H1027V1396.2H1027.8V1399.2H1028.6V1401H1029.4V1397.5H1030.2V1398.6H1031V1395.6H1031.8V1402.5H1032.6V1400.5H1033.4V1399.3H1034.2V1399.1H1035V1403.3H1035.8V1401.1H1036.6V1398.2H1037.4V1402.6H1038.2V1399.4H1039V1395.5H1039.8V1399.7H1040.6V1396.8H1041.4V1396.6H1042.2V1401.2H1043V1399.2H1043.8V1398.8H1044.6V1399.3H1045.4V1401H1046.2V1399.2H1047V1401.7H1047.8V1396.6H1048.6V1395.4H1049.4V1397.8H1050.2V1397.6H1051V1396.8H1051.8V1396.7H1052.6V1401.3H1053.4V1403.1H1054.2V1400.5H1055V1398.4H1055.8V1395.8H1056.6V1402.8H1057.4V1402.4H1058.2V1396.3H1059V1401.8H1059.8V1397.2H1060.6V1398.3H1061.4V1397.4H1062.2V1396.3H1063V1397H1063.8V1398.7H1064.6V1398.1H1065.4V1400.2H1066.2V1403.1H1067V1396.9H1067.8V1398H1068.6V1397.7H1069.4V1400.8H1070.2V1401.8H1071V1397.8H1071.8V1400.6H1072.6V1395.9H1073.4V1395.6H1074.2V1395.5H1075V1400.6H1075.8V1399.1H1076.6V1403H1077.4V1399H1078.2V1397.3H1079V1401.7H1079.8V1401.4H1080.6V1402.7H1081.4V1400.4H1082.2V1395.6H1083V1400H1083.8V1401.4H1084.6V1395.5H1085.4V1399.8H1086.2V1397.1H1087V1398.1H1087.8V1396H1088.6V1398.9H1089.4V1399H1090.2V1397.1H1091V1402.1H1091.8V1401.1H1092.6V1397.4H1093.4V1397.1H1094.2V1397.6H1095V1399.8H1095.8V1399.5H1096.6V1396.1H1097.4V1402.7H1098.2V1397.7H1099V1402.3H1099.8V1398.7H1100.6V1400H1101.4V1397.8H1102.2V1402.9H1103V1402.3H1103.8V1394.7H1104.6V1400.1H1105.4V1402.5H1106.2V1396.4H1107V1398.6H1107.8V1395.3H1108.6V1400.8H1109.4V1396.3H1110.2V1400H1111V1396.1H1111.8V1396.9H1112.6V1399.7H1113.4V1399.8H1114.2V1400.8H1115V1400H1115.8V1397.1H1116.6V1399.5H1117.4V1399.6H1118.2V1396H1119V1397H1119.8V1397.9H1120.6V1400.9H1121.4V1395.6H1122.2V1397.9H1123V1398H1123.8V1397.1H1124.6V1395.4H1125.4V1392.1H1126.2V1397.1H1127V1398.3H1127.8V1400.1H1128.6V1401.7H1129.4V1402.8H1130.2V1396.7H1131V1400.1H1131.8V1397.5H1132.6V1397.3H1133.4V1401.3H1134.2V1398.8H1135V1395.3H1135.8V1397H1136.6V1397.4H1137.4V1401.1H1138.2V1399H1139V1402H1139.8V1396.1H1140.6V1401H1141.4V1399.9H1142.2V1398.4H1143V1399H1143.8V1398.7H1144.6V1400.5H1145.4V1402.7H1146.2V1397.7H1147V1396.6H1147.8V1401.1H1148.6V1392.4H1149.4V1398H1150.2V1400.8H1151V1395.8H1151.8V1401.9H1152.6V1402.6H1153.4V1397.3H1154.2V1399.4H1155V1403.1H1155.2V1411.4ZM1167,1411.4V1396.9H1167.8V1398.2H1168.6V1401.3H1169.4V1402.3H1170.2V1401.5H1171V1397.3H1171.8V1399H1172.6V1402.3H1173.4V1398.9H1174.2V1396H1175V1400.5H1175.8V1397.2H1176.6V1398.4H1177.4V1401.2H1178.2V1402.3H1179V1396.8H1179.8V1401.1H1180.6V1390.7H1181.4V1403.6H1182.2V1399.6H1183V1393.2H1183.8V1395.9H1184.6V1396.9H1185.4V1390.7H1186.2V1402.7H1187V1398.5H1187.8V1401.4H1188.6V1401.7H1189.4V1401.2H1190.2V1402.1H1191V1393.5H1191.8V1399.2H1192.6V1403.2H1193.4V1400.2H1194.2V1401.5H1195V1397.8H1195.8V1398.6H1196.6V1399.9H1197.4V1400.9H1198.2V1400.2H1199V1399.7H1199.8V1396.6H1200.6V1404H1201.4V1403.9H1202.2V1398.9H1203V1402.6H1203.8V1397.1H1204.6V1398.3H1205.4V1400.3H1206.2V1399.5H1207V1395.8H1207.8V1397.1H1208.3V1411.4ZM1224.1,1411.4V1403.3H1224.9V1400.5H1225.7V1402.7H1226.5V1400.7H1227.3V1404.9H1228.1V1405.4H1228.9V1401.9H1229.7V1404.5H1230.5V1396.8H1231.3V1398.4H1232.1V1400.1H1232.9V1401.2H1233.7V1399.3H1234.5V1401.4H1235.3V1402.4H1236.1V1394.7H1236.9V1399.4H1237.7V1404.9H1238.2V1411.4ZM1246.2,1411.4V1402.4H1247V1400.3H1247.8V1399.6H1248.6V1398H1249.4V1396H1250.2V1398.1H1251V1395.1H1251.8V1401.1H1252.6V1402.6H1253.4V1397.8H1254.2V1399.6H1255V1411.4ZM904.6,1531.6V1453.8H905.6V1455.8H906.6V1457.7H907.6V1458.9H908.6V1460H909.6V1461.2H910.6V1462.1H911.6V1462.9H912.6V1463.7H913.6V1464.5H914.6V1465.2H915.6V1465.8H916.6V1466.3H917.6V1466.7H918.6V1467.2H919.6V1467.7H920.6V1468.1H921.6V1468.6H922.6V1468.8H923.6V1469H924.6V1469.3H925.6V1469.5H926.6V1469.7H927.6V1469.9H928.6V1470.2H929.6V1470.4H930.6V1470.6H931.6V1470.8H932.6V1471H933.6V1471.3H934.6V1471.5H935.6V1471.7H936.6V1471.9H937.6V1472.2H938.6V1472.4H939.6V1472.6H940.6V1472.8H941.6V1473H942.6V1473.3H943.6V1473.5H944.6V1473.7H945.6V1473.9H946.6V1474.2H947.6V1474.4H948.6V1474.6H949.6V1474.7H950.6V1474.8H951.6V1475H952.6V1475.1H953.6V1475.3H954.6V1475.4H955.6V1475.5H956.6V1475.7H957.6V1475.8H958.6V1476H959.6V1476.1H960.6V1476.2H961.6V1476.4H962.6V1476.5H963.6V1476.6H964.6V1476.8H965.6V1476.9H966.6V1477.1H967.6V1477.2H968.6V1477.3H969.6V1477.5H970.6V1477.6H971.6V1477.8H972.6V1477.9H973.6V1478H974.6V1478.2H975.6V1478.3H976.6V1478.4H977.6V1478.6H978.6V1478.7H979.6V1478.9H980.6V1479H981.6V1479.1H982.6V1479.3H983.6V1479.4H984.6V1479.6H985.6V1479.7H986.6V1479.8H987.6V1480H988.6V1480.1H989.6V1480.2H990.6V1480.4H991.6V1480.6H992.6V1480.8H993.6V1481H994.6V1481.1H995.6V1481.3H996.6V1481.5H997.6V1481.7H998.6V1481.8H999.6V1482H1000.6V1482.2H1001.6V1482.4H1002.6V1482.5H1003.6V1482.7H1004.6V1482.9H1005.6V1483.1H1006.6V1483.2H1007.6V1483.4H1008.6V1483.6H1009.6V1483.8H1010.6V1483.9H1011.6V1484.1H1012.6V1484.3H1013.6V1484.5H1014.6V1484.6H1015.6V1484.8H1016.6V1485H1017.6V1485.2H1018.6V1485.3H1019.6V1485.5H1020.6V1485.7H1021.6V1485.9H1022.6V1486H1023.6V1486.3H1024.6V1486.6H1025.6V1486.9H1026.6V1487.2H1027.6V1487.5H1028.6V1487.8H1029.6V1488.2H1030.6V1489.5H1031.6V1490.7H1032.6V1491.9H1033.6V1493.2H1034.6V1495.1H1035.6V1500.7H1036.6V1506.8H1036.9V1531.6ZM1036.9,1531.6V1451.5H1037.9V1453.5H1038.9V1457.7H1039.9V1460.7H1040.9V1462.1H1041.9V1463.6H1042.9V1464.8H1043.9V1465.2H1044.9V1465.6H1045.9V1466.1H1046.9V1466.5H1047.9V1466.9H1048.9V1467.3H1049.9V1467.8H1050.9V1468.2H1051.9V1468.6H1052.9V1469H1053.9V1469.5H1054.9V1469.9H1055.9V1470.3H1056.9V1470.6H1057.9V1470.9H1058.9V1471.2H1059.9V1471.5H1060.9V1471.7H1061.9V1472H1062.9V1472.3H1063.9V1472.6H1064.9V1472.9H1065.9V1473.1H1066.9V1473.4H1067.9V1473.7H1068.9V1474H1069.9V1474.2H1070.9V1474.3H1071.9V1474.5H1072.9V1474.6H1073.9V1474.7H1074.9V1474.8H1075.9V1474.9H1076.9V1475.1H1077.9V1475.2H1078.9V1475.3H1079.9V1475.4H1080.9V1475.5H1081.9V1475.7H1082.9V1475.9H1083.9V1476.1H1084.9V1476.3H1085.9V1476.5H1086.9V1476.7H1087.9V1476.9H1088.9V1477H1089.9V1477.2H1090.9V1477.4H1091.9V1477.6H1092.9V1477.8H1093.9V1478H1094.9V1478.2H1095.9V1478.4H1096.9V1478.6H1097.9V1478.7H1098.9V1478.9H1099.9V1479.1H1100.9V1479.3H1101.9V1479.5H1102.9V1479.7H1103.9V1479.9H1104.9V1480.1H1105.9V1480.3H1106.9V1480.6H1107.9V1481H1108.9V1481.3H1109.9V1481.7H1110.9V1482H1111.9V1482.3H1112.9V1482.7H1113.9V1483H1114.9V1483.4H1115.9V1483.7H1116.9V1484.1H1117.9V1484.4H1118.9V1484.7H1119.9V1485.2H1120.9V1485.9H1121.9V1486.5H1122.9V1487.2H1123.9V1487.8H1124.9V1488.5H1125.9V1489.1H1126.9V1489.8H1127.9V1490.4H1128.9V1491H1129.9V1492.5H1130.9V1494.2H1131.9V1495.8H1132.9V1497.5H1133.9V1499.1H1134.9V1502.8H1135.7V1531.6ZM1136.2,1531.6V1463.1H1137.1V1470.8H1138V1472.6H1138.9V1474.4H1139.8V1476.3H1140.7V1478.3H1141.6V1480.2H1142.4V1531.6ZM1142.4,1531.6V1467.8H1143.3V1475.6H1144.2V1478.1H1145.1V1480.7H1146V1483.4H1146.9V1493.5H1147V1531.6ZM1147,1531.6V1464.7H1147.9V1473.1H1148.8V1476H1149.7V1479H1150.6V1482.2H1151.5V1531.6ZM1151.5,1531.6V1470.9H1152.4V1479.6H1153.3V1483.6H1154.2V1487.9H1155.1V1496.4H1155.3V1531.6ZM1155.3,1531.6V1460H1156.2V1467.9H1157.1V1470H1158V1472H1158.9V1474H1159.8V1476.2H1160.7V1478.4H1161.6V1482.8H1162.3V1531.6ZM1162.3,1531.6V1477.1H1163.2V1484H1164.1V1486.3H1165V1488.7H1165.9V1491.3H1166.8V1499.8H1167V1531.6ZM1168.3,1531.6V1466.2H1169.2V1472.8H1170.1V1473.2H1171V1473.7H1171.9V1474.1H1172.8V1474.6H1173.7V1475H1174.6V1475.5H1175.5V1476H1176.4V1476.5H1177.3V1477H1178.2V1483H1178.9V1531.6ZM1178.9,1531.6V1477.1H1179.8V1482.8H1180.7V1483.8H1181.6V1484.8H1182.5V1485.8H1183.4V1486.8H1184.3V1487.9H1185.2V1489H1186.1V1490.1H1187V1491.7H1187.9V1500H1188V1531.6ZM1188,1531.6V1469.4H1188.9V1475.6H1189.8V1476.1H1190.7V1476.5H1191.6V1477H1192.5V1477.5H1193.4V1477.9H1194.3V1478.4H1195.2V1478.9H1196.1V1479.5H1197V1480H1197.9V1484.2H1198.8V1531.6ZM1198.8,1531.6V1480.3H1199.7V1485.5H1200.6V1486.4H1201.5V1487.3H1202.4V1488.1H1203.3V1489H1204.2V1489.9H1205.1V1490.9H1206V1491.8H1206.9V1493.3H1207.8V1501.2H1208V1531.6ZM1208,1531.6V1460H1208.9V1467.8H1209.8V1469.7H1210.7V1471.6H1211.6V1473.4H1212.5V1475.5H1213.4V1477.5H1214.3V1479.6H1215.2V1489.2H1215.4V1531.6ZM1215.4,1531.6V1480.3H1216.3V1485.9H1217.2V1488.6H1218.1V1491.3H1219V1493.9H1219.9V1496.6H1220.8V1499.6H1221.7V1502.5H1222.6V1505.5H1223.5V1508.6H1224.4V1513.4H1224.6V1531.6ZM1232.9,1531.6V1478.3H1233.8V1488.6H1234.7V1484.7H1235.6V1487.7H1236.5V1484.9H1237.4V1508.3H1238.3V1508.3H1239.2V1493.3H1240.1V1489.8H1241V1494.7H1241.9V1453.8H1242.8V1493H1243.7V1489.7H1244.6V1495.9H1245.5V1453.8H1246.2V1531.6Z" fill="url(#tg)"/>
<path d="M1256.1,931.8V854H1257.1V854H1258.1V878.2H1259.1V878.8H1260.1V879.3H1261.1V879.9H1262.1V880.5H1263.1V881.1H1264.1V881.7H1265.1V882.3H1266.1V882.8H1267.1V883.4H1268.1V884H1269.1V884.6H1270.1V885.1H1271.1V885.3H1272.1V885.5H1273.1V885.7H1274.1V885.9H1275.1V886.1H1276.1V886.3H1277.1V886.5H1278.1V886.7H1279.1V886.9H1280.1V887.1H1281.1V887.3H1282.1V887.5H1283.1V887.7H1284.1V887.9H1285.1V888.1H1286.1V888.3H1287.1V888.4H1288.1V888.6H1289.1V888.8H1290.1V889H1291.1V889.1H1292.1V889.2H1293.1V889.2H1294.1V889.3H1295.1V889.4H1296.1V889.5H1297.1V889.6H1298.1V889.6H1299.1V889.7H1300.1V889.8H1301.1V889.9H1302.1V889.9H1303.1V890H1304.1V890.1H1305.1V890.2H1306.1V890.2H1307.1V890.3H1308.1V890.4H1309.1V890.5H1310.1V890.6H1311.1V890.6H1312.1V890.7H1313.1V890.8H1314.1V890.9H1315.1V890.9H1316.1V891H1317.1V891.1H1318.1V891.2H1319.1V891.2H1320.1V891.3H1321.1V891.4H1322.1V891.5H1323.1V891.5H1324.1V891.6H1325.1V891.7H1326.1V891.8H1327.1V891.9H1328.1V891.9H1329.1V892H1330.1V892.1H1331.1V892.2H1332.1V892.3H1333.1V892.3H1334.1V892.4H1335.1V892.5H1336.1V892.6H1337.1V892.7H1338.1V892.7H1339.1V892.8H1340.1V892.9H1341.1V893H1342.1V893.1H1343.1V893.1H1344.1V893.2H1345.1V893.3H1346.1V893.4H1347.1V893.5H1348.1V893.5H1349.1V893.6H1350.1V893.7H1351.1V893.8H1352.1V893.9H1353.1V893.9H1354.1V894H1355.1V894.1H1356.1V894.2H1357.1V894.3H1358.1V894.3H1359.1V894.4H1360.1V894.5H1361.1V894.6H1362.1V894.7H1363.1V894.8H1364.1V894.8H1365.1V894.9H1366.1V895H1367.1V895.1H1368.1V895.2H1369.1V895.2H1370.1V895.3H1371.1V895.4H1372.1V895.5H1373.1V895.6H1374.1V895.6H1375.1V895.7H1376.1V895.7H1377.1V895.8H1378.1V895.9H1379.1V895.9H1380.1V896H1381.1V896.1H1382.1V896.1H1383.1V896.2H1384.1V896.2H1385.1V896.3H1386.1V896.4H1387.1V896.4H1388.1V896.5H1389.1V896.6H1390.1V896.6H1391.1V896.7H1392.1V896.8H1393.1V896.8H1394.1V896.9H1395.1V896.9H1396.1V897H1397.1V897.1H1398.1V897.1H1399.1V897.2H1400.1V897.3H1401.1V897.3H1402.1V897.4H1403.1V897.4H1404.1V897.5H1405.1V897.6H1406.1V897.6H1407.1V897.7H1408.1V897.8H1409.1V897.8H1410.1V897.9H1411.1V898H1412.1V898H1413.1V898.1H1414.1V898.1H1415.1V898.2H1416.1V898.3H1417.1V898.3H1418.1V898.4H1419.1V898.5H1420.1V898.5H1421.1V898.6H1422.1V898.7H1423.1V898.7H1424.1V898.8H1425.1V898.8H1426.1V898.9H1427.1V899H1428.1V899H1429.1V899.1H1430.1V899.2H1431.1V899.2H1432.1V899.3H1433.1V899.3H1434.1V899.4H1435.1V899.5H1436.1V899.5H1437.1V899.6H1438.1V899.7H1439.1V899.7H1440.1V899.8H1441.1V899.9H1442.1V899.9H1443.1V900H1444.1V900H1445.1V900.1H1446.1V900.2H1447.1V900.3H1448.1V900.4H1449.1V900.4H1450.1V900.5H1451.1V900.6H1452.1V900.7H1453.1V900.7H1454.1V900.8H1455.1V900.9H1456.1V901H1457.1V901H1458.1V901.1H1459.1V901.2H1460.1V901.3H1461.1V901.4H1462.1V901.4H1463.1V901.5H1464.1V901.6H1465.1V901.7H1466.1V901.7H1467.1V901.8H1468.1V901.9H1469.1V902H1470.1V902.1H1471.1V902.1H1472.1V902.2H1473.1V902.3H1474.1V902.4H1475.1V902.5H1476.1V902.6H1477.1V902.7H1478.1V902.8H1479.1V903H1480.1V903.1H1481.1V903.2H1482.1V903.3H1483.1V903.4H1484.1V903.5H1485.1V903.6H1486.1V903.7H1487.1V903.8H1488.1V903.9H1489.1V904.1H1490.1V904.2H1491.1V904.3H1492.1V904.4H1493.1V904.6H1494.1V904.8H1495.1V905H1496.1V905.2H1497.1V905.4H1498.1V905.6H1499.1V905.9H1500.1V906.1H1501.1V906.3H1502.1V906.5H1503.1V906.7H1504.1V906.9H1505.1V907.2H1506.1V907.5H1507.1V907.9H1508.1V908.3H1509.1V908.8H1510.1V909.2H1511.1V909.6H1512.1V910.1H1513.1V910.5H1514.1V910.9H1515.1V911.4H1516.1V912.1H1517.1V913.3H1518.1V914.4H1519.1V915.5H1520.1V916.6H1521.1V917.8H1522.1V920.4H1523.1V923.7H1523.9V931.8ZM1523.9,1171.5V1097.6H1524.9V1108.2H1525.9V1110.7H1526.9V1112.2H1527.9V1113.8H1528.9V1114.2H1529.9V1114.6H1530.9V1114.9H1531.9V1115.3H1532.9V1115.6H1533.9V1116H1534.9V1116.3H1535.9V1116.7H1536.9V1117H1537.9V1117.8H1538.9V1118.6H1539.9V1119.4H1540.9V1120.2H1541.9V1121H1542.9V1121.8H1543.9V1122.5H1544.9V1122.7H1545.9V1122.8H1546.9V1123H1547.9V1123.2H1548.9V1123.3H1549.9V1123.5H1550.9V1123.7H1551.9V1123.8H1552.9V1124H1553.9V1124.2H1554.9V1124.3H1555.9V1124.5H1556.9V1124.7H1557.9V1124.8H1558.9V1125H1559.9V1125.2H1560.9V1125.3H1561.9V1125.5H1562.9V1125.7H1563.9V1125.8H1564.9V1126H1565.9V1126.2H1566.9V1126.3H1567.9V1126.5H1568.9V1126.6H1569.9V1126.8H1570.9V1126.9H1571.9V1127.1H1572.9V1127.2H1573.9V1127.3H1574.9V1127.5H1575.9V1127.6H1576.9V1127.7H1577.9V1127.9H1578.9V1128H1579.9V1128.1H1580.9V1128.3H1581.9V1128.4H1582.9V1128.5H1583.9V1128.7H1584.9V1128.8H1585.9V1128.9H1586.9V1129H1587.9V1129.2H1588.9V1129.3H1589.9V1129.4H1590.9V1129.6H1591.9V1129.7H1592.9V1129.8H1593.9V1130H1594.9V1130.1H1595.9V1130.2H1596.9V1130.4H1597.9V1130.5H1598.9V1130.6H1599.9V1130.8H1600.9V1130.9H1601.9V1131H1602.9V1131.2H1603.9V1131.3H1604.9V1131.4H1605.9V1131.6H1606.9V1131.7H1607.9V1131.8H1608.9V1131.9H1609.9V1132.1H1610.9V1132.2H1611.9V1132.3H1612.9V1132.5H1613.9V1132.6H1614.9V1132.7H1615.9V1132.8H1616.9V1133H1617.9V1133.1H1618.9V1133.2H1619.9V1133.3H1620.9V1133.5H1621.9V1133.6H1622.9V1133.7H1623.9V1133.8H1624.9V1134H1625.9V1134.1H1626.9V1134.2H1627.9V1134.3H1628.9V1134.5H1629.9V1134.6H1630.9V1134.7H1631.9V1134.8H1632.9V1135H1633.9V1135.1H1634.9V1135.2H1635.9V1135.4H1636.9V1135.5H1637.9V1135.6H1638.9V1135.7H1639.9V1135.9H1640.9V1136H1641.9V1136.1H1642.9V1136.2H1643.9V1136.4H1644.9V1136.5H1645.9V1136.6H1646.9V1136.7H1647.9V1136.9H1648.9V1137H1649.9V1137.2H1650.9V1137.4H1651.9V1137.6H1652.9V1137.9H1653.9V1138.1H1654.9V1138.3H1655.9V1138.6H1656.9V1138.8H1657.9V1139H1658.9V1139.3H1659.9V1139.5H1660.9V1139.7H1661.9V1140H1662.9V1140.2H1663.9V1140.4H1664.9V1140.6H1665.9V1140.9H1666.9V1141.1H1667.9V1141.3H1668.9V1141.6H1669.9V1141.9H1670.9V1142.3H1671.9V1142.7H1672.9V1143H1673.9V1143.4H1674.9V1143.8H1675.9V1144.1H1676.9V1144.5H1677.9V1144.9H1678.9V1145.2H1679.9V1145.6H1680.9V1145.9H1681.9V1146.3H1682.9V1146.7H1683.9V1147.1H1684.9V1147.6H1685.9V1148.1H1686.9V1148.5H1687.9V1149H1688.9V1149.4H1689.9V1149.9H1690.9V1150.3H1691.9V1150.8H1692.9V1151.2H1693.9V1152H1694.9V1152.7H1695.9V1153.5H1696.9V1154.3H1697.9V1155H1698.9V1155.8H1699.9V1156.6H1700.9V1157.6H1701.9V1158.6H1702.9V1159.6H1703.9V1160.6H1704.9V1161.5H1705.9V1162.5H1706.6V1171.5ZM1706.9,1291.2V1262.4H1707.9V1262.8H1708.9V1264.1H1709.9V1265.4H1710.9V1266.7H1711.9V1267.2H1712.9V1267.7H1713.9V1268.1H1714.9V1268.6H1715.9V1269.1H1716.9V1269.6H1717.9V1270.1H1718.9V1270.5H1719.9V1271H1720.9V1271.2H1721.9V1271.3H1722.9V1271.5H1723.9V1271.7H1724.9V1271.9H1725.9V1272H1726.9V1272.2H1727.9V1272.4H1728.9V1272.6H1729.9V1272.7H1730.9V1272.9H1731.9V1273.1H1732.9V1273.3H1733.9V1273.4H1734.9V1273.6H1735.9V1273.8H1736.9V1274H1737.9V1274.1H1738.9V1274.2H1739.9V1274.3H1740.9V1274.3H1741.9V1274.4H1742.9V1274.5H1743.9V1274.6H1744.9V1274.7H1745.9V1274.7H1746.9V1274.8H1747.9V1274.9H1748.9V1275H1749.9V1275H1750.9V1275.1H1751.9V1275.2H1752.9V1275.3H1753.9V1275.4H1754.9V1275.4H1755.9V1275.5H1756.9V1275.6H1757.9V1275.7H1758.9V1275.8H1759.9V1275.8H1760.9V1275.9H1761.9V1276H1762.9V1276.1H1763.9V1276.1H1764.9V1276.2H1765.9V1276.3H1766.9V1276.4H1767.9V1276.5H1768.9V1276.5H1769.9V1276.6H1770.9V1276.7H1771.9V1276.8H1772.9V1276.9H1773.9V1276.9H1774.9V1277H1775.9V1277.1H1776.9V1277.2H1777.9V1277.2H1778.9V1277.3H1779.9V1277.3H1780.9V1277.4H1781.9V1277.4H1782.9V1277.4H1783.9V1277.5H1784.9V1277.5H1785.9V1277.6H1786.9V1277.6H1787.9V1277.7H1788.9V1277.7H1789.9V1277.8H1790.9V1277.8H1791.9V1277.9H1792.9V1277.9H1793.9V1277.9H1794.9V1278H1795.9V1278H1796.9V1278.1H1797.9V1278.1H1798.9V1278.2H1799.9V1278.2H1800.9V1278.3H1801.9V1278.3H1802.9V1278.4H1803.9V1278.4H1804.9V1278.4H1805.9V1278.5H1806.9V1278.5H1807.9V1278.6H1808.9V1278.6H1809.9V1278.7H1810.9V1278.7H1811.9V1278.8H1812.9V1278.8H1813.9V1278.8H1814.9V1278.9H1815.9V1278.9H1816.9V1279H1817.9V1279H1818.9V1279.1H1819.9V1279.1H1820.9V1279.2H1821.9V1279.2H1822.9V1279.3H1823.9V1279.3H1824.9V1279.3H1825.9V1279.4H1826.9V1279.4H1827.9V1279.5H1828.9V1279.5H1829.9V1279.6H1830.9V1279.6H1831.9V1279.7H1832.9V1279.7H1833.9V1279.8H1834.9V1279.8H1835.9V1279.9H1836.9V1279.9H1837.9V1280H1838.9V1280H1839.9V1280.1H1840.9V1280.1H1841.9V1280.2H1842.9V1280.2H1843.9V1280.3H1844.9V1280.3H1845.9V1280.4H1846.9V1280.4H1847.9V1280.5H1848.9V1280.5H1849.9V1280.6H1850.9V1280.6H1851.9V1280.7H1852.9V1280.7H1853.9V1280.8H1854.9V1280.8H1855.9V1280.9H1856.9V1280.9H1857.9V1281H1858.9V1281H1859.9V1281H1860.9V1281.1H1861.9V1281.1H1862.9V1281.2H1863.9V1281.2H1864.9V1281.3H1865.9V1281.3H1866.9V1281.4H1867.9V1281.4H1868.9V1281.5H1869.9V1281.5H1870.9V1281.6H1871.9V1281.6H1872.9V1281.7H1873.9V1281.7H1874.9V1281.8H1875.9V1281.8H1876.9V1281.9H1877.9V1282H1878.9V1282.1H1879.9V1282.2H1880.9V1282.2H1881.9V1282.3H1882.9V1282.4H1883.9V1282.5H1884.9V1282.6H1885.9V1282.7H1886.9V1282.8H1887.9V1282.9H1888.9V1282.9H1889.9V1283H1890.9V1283.1H1891.9V1283.2H1892.9V1283.3H1893.9V1283.4H1894.9V1283.5H1895.9V1283.6H1896.9V1283.6H1897.9V1283.7H1898.9V1283.8H1899.9V1283.9H1900.5V1291.2ZM1899.9,1411.4V1395.8H1900.9V1395.8H1901.9V1395.8H1902.9V1396.8H1903.9V1397.8H1904.9V1398.8H1905.9V1400H1906.9V1401.2H1907.6V1411.4ZM1907.4,1531.6V1471.7H1908.4V1473.5H1909.4V1482.8H1910.4V1492.1H1911.4V1496.7H1912.4V1498.2H1913.4V1499.7H1914.4V1501.2H1915.4V1502.7H1916.4V1504.2H1917.4V1505.2H1918.4V1506H1919.4V1506.8H1920.4V1507.6H1921.4V1508.4H1922.4V1518.5H1923.4V1519.1H1924.4V1519.6H1925.4V1520.1H1926.4V1520.6H1927.4V1521.2H1928V1531.6Z" fill="url(#gg)"/>
<path d="M921.5,930.8V921.5M1029.5,930.8V913.9M921.5,1050.6V1004.9M1029.5,1050.6V1008M1069.7,1050.6V1029M1081.3,1050.6V1017.4M1119.5,1050.6V1020.5M921.5,1290.2V1271.8M1029.5,1290.2V1262M1069.7,1290.2V1267.1M1081.3,1290.2V1265.5M1119.5,1290.2V1267.9M921.5,1410.4V1395.1M1029.5,1410.4V1398.2M1069.7,1410.4V1400.9M1081.3,1410.4V1399.3M1119.5,1410.4V1395.1M921.5,1530.6V1468.6M1029.5,1530.6V1488M1069.7,1530.6V1474.2M1081.3,1530.6V1475.6M1119.5,1530.6V1484.9M1325.7,930.8V891.7M1444.4,930.8V900.1M1610.5,1170.5V1132.1M1649.5,1170.5V1137M1693,1170.5V1151.3M1829.5,1290.2V1279.5" stroke="#ee3b36" stroke-width="1.5" fill="none"/>
<path d="M1413.9,930.8V898.1" stroke="#f0100f" stroke-width="2.8" fill="none"/>
<path d="M901.3,853.1V932.7M890.3,931.8H901.3M890.3,892.9H901.3M890.3,854H901.3M903.2,931.8H1927.5M901.3,972.9V1052.5M890.3,1051.6H901.3M890.3,1012.7H901.3M890.3,973.8H901.3M904.8,1051.6H1927.5M901.3,1092.8V1172.4M890.3,1171.5H901.3M890.3,1132.6H901.3M890.3,1093.7H901.3M906.2,1171.5H1927.5M901.3,1212.5V1292.1M890.3,1291.2H901.3M890.3,1252.3H901.3M890.3,1213.4H901.3M904.6,1291.2H1927.5M901.3,1332.7V1412.3M890.3,1411.4H901.3M890.3,1372.5H901.3M890.3,1333.6H901.3M904.8,1411.4H1927.5M901.3,1452.9V1532.5M890.3,1531.6H901.3M890.3,1492.7H901.3M890.3,1453.8H901.3M904.6,1531.6H1927.5" stroke="#000" stroke-width="2" fill="none"/>
<text transform="translate(888 940.4) scale(1 1.04)" font-size="24.4" text-anchor="end" fill="#000" >0.0</text>
<text transform="translate(888 901.5) scale(1 1.04)" font-size="24.4" text-anchor="end" fill="#000" >0.5</text>
<text transform="translate(888 862.6) scale(1 1.04)" font-size="24.4" text-anchor="end" fill="#000" >1.0</text>
<text transform="translate(886.4 1060.2) scale(1 1.04)" font-size="24.4" text-anchor="end" fill="#000" >0.0</text>
<text transform="translate(886.4 1021.3) scale(1 1.04)" font-size="24.4" text-anchor="end" fill="#000" >0.5</text>
<text transform="translate(886.4 982.4) scale(1 1.04)" font-size="24.4" text-anchor="end" fill="#000" >1.0</text>
<text transform="translate(884 1180.1) scale(1 1.04)" font-size="24.4" text-anchor="end" fill="#000" >0.0</text>
<text transform="translate(884 1141.2) scale(1 1.04)" font-size="24.4" text-anchor="end" fill="#000" >0.5</text>
<text transform="translate(884 1102.3) scale(1 1.04)" font-size="24.4" text-anchor="end" fill="#000" >1.0</text>
<text transform="translate(884 1299.8) scale(1 1.04)" font-size="24.4" text-anchor="end" fill="#000" >0.0</text>
<text transform="translate(884 1260.9) scale(1 1.04)" font-size="24.4" text-anchor="end" fill="#000" >0.5</text>
<text transform="translate(884 1222) scale(1 1.04)" font-size="24.4" text-anchor="end" fill="#000" >1.0</text>
<text transform="translate(884 1420) scale(1 1.04)" font-size="24.4" text-anchor="end" fill="#000" >0.0</text>
<text transform="translate(884 1381.1) scale(1 1.04)" font-size="24.4" text-anchor="end" fill="#000" >0.5</text>
<text transform="translate(884 1342.2) scale(1 1.04)" font-size="24.4" text-anchor="end" fill="#000" >1.0</text>
<text transform="translate(884 1540.2) scale(1 1.04)" font-size="24.4" text-anchor="end" fill="#000" >0.0</text>
<text transform="translate(884 1501.3) scale(1 1.04)" font-size="24.4" text-anchor="end" fill="#000" >0.5</text>
<text transform="translate(884 1462.4) scale(1 1.04)" font-size="24.4" text-anchor="end" fill="#000" >1.0</text>
<text transform="translate(1832.7 879.9) scale(1 1.04)" font-size="37.4" text-anchor="start" fill="#000" >P7U1</text>
<text transform="translate(1832.7 970.8) scale(1 1.04)" font-size="37.4" text-anchor="start" fill="#000" >P7U2</text>
<text transform="translate(1832.7 1093.8) scale(1 1.04)" font-size="37.4" text-anchor="start" fill="#000" >P7U3</text>
<text transform="translate(1832.7 1210.9) scale(1 1.04)" font-size="37.4" text-anchor="start" fill="#000" >P7U4</text>
<text transform="translate(1832.7 1332.8) scale(1 1.04)" font-size="37.4" text-anchor="start" fill="#000" >P7U5</text>
<text transform="translate(1832.7 1456.3) scale(1 1.04)" font-size="37.4" text-anchor="start" fill="#000" >P7U6</text>
<path d="M918.2,903.6 H929.9 L924,915.5 Z" fill="#3f5ce0"/>
<path d="M1025.8,898.1 H1037.1 L1031.4,910 Z" fill="#3f5ce0"/>
<path d="M917.9,984.1 H929.2 L923.5,996.1 Z" fill="#3f5ce0"/>
<path d="M1023.3,993.1 H1034.8 L1029,1005.2 Z" fill="#3f5ce0"/>
<path d="M1062.7,1005.2 H1074.3 L1068.5,1017.3 Z" fill="#3f5ce0"/>
<path d="M1078,1002.4 H1089.3 L1083.7,1014.3 Z" fill="#3f5ce0"/>
<path d="M1112.8,1004 H1124.1 L1118.4,1016 Z" fill="#3f5ce0"/>
<path d="M918.2,1251.5 H929.5 L923.9,1263.5 Z" fill="#3f5ce0"/>
<path d="M1023.7,1247.4 H1034.8 L1029.2,1259 Z" fill="#3f5ce0"/>
<path d="M1062.7,1250.2 H1074 L1068.3,1262.2 Z" fill="#3f5ce0"/>
<path d="M1078,1250.2 H1089.3 L1083.7,1261.8 Z" fill="#3f5ce0"/>
<path d="M1113,1250.2 H1124.1 L1118.5,1262.2 Z" fill="#3f5ce0"/>
<path d="M918.6,1377.3 H930.2 L924.4,1389.7 Z" fill="#3f5ce0"/>
<path d="M1023.3,1381.8 H1035 L1029.2,1393.9 Z" fill="#3f5ce0"/>
<path d="M1062.7,1381.4 H1074.3 L1068.5,1393.6 Z" fill="#3f5ce0"/>
<path d="M1077.3,1382.6 H1088.9 L1083.1,1394.7 Z" fill="#3f5ce0"/>
<path d="M1113,1380.1 H1124.5 L1118.8,1392.2 Z" fill="#3f5ce0"/>
<path d="M917.9,1454.2 H929.2 L923.5,1466.1 Z" fill="#3f5ce0"/>
<path d="M1022.8,1473.1 H1034.5 L1028.7,1484.9 Z" fill="#3f5ce0"/>
<path d="M1062.7,1457.3 H1074.3 L1068.5,1469.4 Z" fill="#3f5ce0"/>
<path d="M1077.3,1459.1 H1088.9 L1083.1,1471.1 Z" fill="#3f5ce0"/>
<path d="M1113,1469.4 H1124.5 L1118.8,1481.4 Z" fill="#3f5ce0"/>
<path d="M1319.7,877.6 H1331 L1325.3,889.6 Z" fill="#2f8f2d"/>
<path d="M1406,882.1 H1417.3 L1411.7,894.2 Z" fill="#2f8f2d"/>
<path d="M1412.7,882.1 H1424 L1418.3,894.2 Z" fill="#2f8f2d"/>
<path d="M1438.9,884.9 H1450.2 L1444.6,896.7 Z" fill="#2f8f2d"/>
<path d="M1604.3,1119.1 H1616.2 L1610.2,1131.4 Z" fill="#2f8f2d"/>
<path d="M1642.4,1121.9 H1654.3 L1648.3,1134.4 Z" fill="#2f8f2d"/>
<path d="M1685.2,1134.8 H1697 L1691.1,1147.3 Z" fill="#2f8f2d"/>
<path d="M1822.1,1263.9 H1834 L1828,1276.2 Z" fill="#2f8f2d"/>
<text x="925.5" y="900.2" font-size="36" text-anchor="middle" fill="#000" >a</text>
<text x="1033.7" y="895.3" font-size="36" text-anchor="middle" fill="#000" >b</text>
<text x="925.5" y="977.8" font-size="36" text-anchor="middle" fill="#000" >a</text>
<text x="1028.2" y="989.4" font-size="36" text-anchor="middle" fill="#000" >b</text>
<text x="1063.5" y="998.6" font-size="36" text-anchor="middle" fill="#000" >m</text>
<text x="1089.2" y="998.6" font-size="36" text-anchor="middle" fill="#000" >h</text>
<text x="1122" y="991.4" font-size="36" text-anchor="middle" fill="#000" >g</text>
<text x="927.2" y="1244.4" font-size="36" text-anchor="middle" fill="#000" >a</text>
<text x="1025.7" y="1240.2" font-size="36" text-anchor="middle" fill="#000" >b</text>
<text x="1062.7" y="1244.7" font-size="36" text-anchor="middle" fill="#000" >m</text>
<text x="1089.2" y="1244.7" font-size="36" text-anchor="middle" fill="#000" >h</text>
<text x="1117.9" y="1234.4" font-size="36" text-anchor="middle" fill="#000" >g</text>
<text x="926.3" y="1369" font-size="36" text-anchor="middle" fill="#000" >a</text>
<text x="1030.7" y="1374" font-size="36" text-anchor="middle" fill="#000" >b</text>
<text x="1064" y="1377.6" font-size="36" text-anchor="middle" fill="#000" >m</text>
<text x="1090.2" y="1377.6" font-size="36" text-anchor="middle" fill="#000" >h</text>
<text x="1120.4" y="1372" font-size="36" text-anchor="middle" fill="#000" >g</text>
<text x="925.5" y="1444.5" font-size="36" text-anchor="middle" fill="#000" >a</text>
<text x="1026.7" y="1467" font-size="36" text-anchor="middle" fill="#000" >b</text>
<text x="1066.8" y="1452.8" font-size="36" text-anchor="middle" fill="#000" >m</text>
<text x="1093.8" y="1456.5" font-size="36" text-anchor="middle" fill="#000" >h</text>
<text x="1120.4" y="1457.8" font-size="36" text-anchor="middle" fill="#000" >g</text>
<text x="1325.2" y="871.3" font-size="36" text-anchor="middle" fill="#000" >d</text>
<text x="1404" y="878.3" font-size="36" text-anchor="middle" fill="#000" >f</text>
<text x="1422.9" y="878.3" font-size="36" text-anchor="middle" fill="#000" >c</text>
<text x="1447.3" y="878.3" font-size="36" text-anchor="middle" fill="#000" >e</text>
<text x="1608.3" y="1112" font-size="36" text-anchor="middle" fill="#000" >i</text>
<text x="1646.5" y="1112" font-size="36" text-anchor="middle" fill="#000" >j</text>
<text x="1693.5" y="1126.5" font-size="36" text-anchor="middle" fill="#000" >k</text>
<text x="1827.8" y="1257.4" font-size="36" text-anchor="middle" fill="#000" >l</text>
<rect x="1252.4" y="979" width="283" height="488.8" fill="#fff" stroke="#231815" stroke-width="2"/>
<text x="1256.8" y="1006.5" font-size="25.1" fill="#ff0000">a: <tspan font-style="italic">FAT1 (p.R2473*)</tspan></text>
<text x="1256.8" y="1036.5" font-size="25.1" fill="#ff0000">b: <tspan font-style="italic">ATM (p.R62*)</tspan></text>
<text x="1256.8" y="1066.5" font-size="25.1" fill="#231815">c: <tspan font-style="italic">KDM6A (p.S582*)</tspan></text>
<text x="1256.8" y="1096.5" font-size="25.1" fill="#231815">d: <tspan font-style="italic">KMT2D (splice site)</tspan></text>
<text x="1256.8" y="1126.5" font-size="25.1" fill="#231815">e: <tspan font-style="italic">STAG2 (p.H1148L)</tspan></text>
<text x="1256.8" y="1156.5" font-size="25.1" fill="#231815">f: <tspan font-style="italic">KMT2C (p.V256M)</tspan></text>
<text x="1256.8" y="1186.5" font-size="25.1" fill="#ff0000">g: <tspan font-style="italic">CREBBP (p.K1548M)</tspan></text>
<text x="1256.8" y="1216.5" font-size="25.1" fill="#ff0000">h: <tspan font-style="italic">KMD6A (splice site)</tspan></text>
<text x="1256.8" y="1246.5" font-size="25.1" fill="#231815">i: <tspan font-style="italic">KMD6A (p.Q692L)</tspan></text>
<text x="1256.8" y="1276.5" font-size="25.1" fill="#231815">j: <tspan font-style="italic">KMD6A (splice site)</tspan></text>
<text x="1256.8" y="1306.5" font-size="25.1" fill="#231815">k: <tspan font-style="italic">EGFR (p.I886F)</tspan></text>
<text x="1256.8" y="1336.5" font-size="25.1" fill="#231815">l: <tspan font-style="italic">KDM6A (p.S843C)</tspan></text>
<text x="1256.8" y="1366.5" font-size="25.1" fill="#ff0000">m: <tspan font-style="italic">STAG2 (splice site)</tspan></text>
<path d="M1259.8,1413.4 H1272.2 L1266,1426 Z" fill="#3f5ce0"/>
<path d="M1259.8,1443.2 H1272.2 L1266,1455.9 Z" fill="#2f8f2d"/>
<text x="1276.6" y="1426" font-size="24.7" text-anchor="start" fill="#000" >Shared drivers</text>
<text x="1276.6" y="1455.9" font-size="24.7" text-anchor="start" fill="#000" >Private drivers</text>
</g>
<g id="panelE">
<text transform="translate(1963.1 810) scale(1 1.04)" font-size="58.5" text-anchor="start" fill="#000" font-weight="bold" >E</text>
<path d="M2173.5,901.5L2340.4,901.5" stroke="#000" stroke-width="3.4" fill="none"/><path d="M2161,901.5L2173.5,907.1L2173.5,895.9Z" fill="#000"/><path d="M2352.9,901.5L2340.4,907.1L2340.4,895.9Z" fill="#000"/>
<path d="M2171.4,1177.5L2337.7,1177.5" stroke="#000" stroke-width="3.4" fill="none"/><path d="M2158.9,1177.5L2171.4,1183.1L2171.4,1171.9Z" fill="#000"/><path d="M2350.2,1177.5L2337.7,1183.1L2337.7,1171.9Z" fill="#000"/>
<path d="M2171.3,1459.1L2337.3,1459.1" stroke="#000" stroke-width="3.4" fill="none"/><path d="M2158.8,1459.1L2171.3,1464.7L2171.3,1453.5Z" fill="#000"/><path d="M2349.8,1459.1L2337.3,1464.7L2337.3,1453.5Z" fill="#000"/>
<path d="M2094.9,976.2L2094.9,1106" stroke="#000" stroke-width="3.4" fill="none"/><path d="M2094.9,963.7L2089.3,976.2L2100.5,976.2Z" fill="#000"/><path d="M2094.9,1118.5L2089.3,1106L2100.5,1106Z" fill="#000"/>
<path d="M2414.5,971.5L2414.5,1100.7" stroke="#000" stroke-width="3.4" fill="none"/><path d="M2414.5,959L2408.9,971.5L2420.1,971.5Z" fill="#000"/><path d="M2414.5,1113.2L2408.9,1100.7L2420.1,1100.7Z" fill="#000"/>
<path d="M2093.6,1254L2093.6,1383.3" stroke="#000" stroke-width="3.4" fill="none"/><path d="M2093.6,1241.5L2088,1254L2099.2,1254Z" fill="#000"/><path d="M2093.6,1395.8L2088,1383.3L2099.2,1383.3Z" fill="#000"/>
<path d="M2414.5,1250.1L2414.5,1379.8" stroke="#000" stroke-width="3.4" fill="none"/><path d="M2414.5,1237.6L2408.9,1250.1L2420.1,1250.1Z" fill="#000"/><path d="M2414.5,1392.3L2408.9,1379.8L2420.1,1379.8Z" fill="#000"/>
<path d="M2094.9,843.4L2153,901.5L2094.9,959.6L2036.8,901.5Z" fill="#00b050"/>
<path d="M2414.4,843.3L2472.5,901.4L2414.4,959.5L2356.3,901.4Z" fill="#00b050"/>
<path d="M2094.9,1124.4L2153,1182.5L2094.9,1240.6L2036.8,1182.5Z" fill="#00b050"/>
<path d="M2414.5,1117.3L2472.6,1175.4L2414.5,1233.5L2356.4,1175.4Z" fill="#00b050"/>
<path d="M2094.6,1401L2152.7,1459.1L2094.6,1517.2L2036.5,1459.1Z" fill="#00aeef"/>
<path d="M2414.2,1401L2472.3,1459.1L2414.2,1517.2L2356.1,1459.1Z" fill="#00b050"/>
<path d="M2120.1,886.9C2121.3,885 2122.2,884.9 2124.3,883.9C2126.4,882.9 2128.8,883 2132.6,881C2136.4,878.9 2141.5,874.2 2146.9,871.4C2152.3,868.7 2157.8,866.7 2164.8,864.3C2171.7,861.9 2181,859.3 2188.6,857.1C2196.1,855 2200.5,852.6 2210,851.2C2219.5,849.8 2232.3,849.6 2245.7,848.9C2259.2,848.2 2276.6,847.5 2290.7,847C2304.8,846.6 2322.2,846.4 2330.4,846.2C2338.6,846 2334.4,845.9 2340,845.8C2345.6,845.8 2355.9,845.5 2363.8,845.8C2371.7,846.1 2380.9,846.9 2387.6,847.6C2394.4,848.3 2400.7,849.2 2404.3,850C2407.9,850.8 2408,851 2409,852.4C2410.1,853.8 2410.9,855.6 2410.8,858.3C2410.7,861.1 2409.2,865.7 2408.5,869C2407.7,872.4 2407.2,876 2406.1,878.6C2405,881.2 2404.2,882.5 2401.9,884.5C2399.6,886.5 2394.9,888.5 2392.4,890.5C2389.9,892.5 2388.3,894 2387,896.4C2385.7,898.8 2385,901 2384.6,904.8C2384.3,908.5 2384.9,914.7 2385,919C2385.1,923.4 2385.1,927 2385.5,931C2385.8,934.9 2386.3,938.9 2387,942.9C2387.8,946.8 2388.9,950.8 2390,954.8C2391.1,958.7 2392.7,963.5 2393.6,966.7C2394.4,969.8 2394.7,973 2395,973.8C2395.3,974.6 2395.4,967.6 2395.2,971.6C2395,975.7 2395.8,989.3 2393.9,998.1C2391.9,1006.9 2386.4,1015.7 2383.3,1024.6C2380.2,1033.4 2378,1042.2 2375.3,1051C2372.7,1059.8 2369.2,1068.6 2367.4,1077.5C2365.6,1086.3 2365.4,1095.5 2364.8,1103.9C2364.1,1112.3 2363,1122.4 2363.4,1127.7C2363.9,1133 2364.1,1133 2367.4,1135.7C2370.7,1138.3 2378.7,1141 2383.3,1143.6C2387.9,1146.2 2392.3,1147.3 2395.2,1151.5C2398.1,1155.7 2399.3,1161.9 2400.5,1168.8C2401.7,1175.6 2401.7,1183.8 2402.3,1192.6C2403,1201.4 2404.8,1214.2 2404.4,1221.7C2404.1,1229.2 2401.8,1231.4 2400.5,1237.6C2399.2,1243.7 2396.7,1251.7 2396.5,1258.7C2396.3,1265.8 2399.6,1272.8 2399.2,1279.9C2398.7,1286.9 2395.4,1293.6 2393.9,1301.1C2392.3,1308.6 2390.8,1316.5 2389.9,1324.9C2389,1333.2 2387.9,1343.8 2388.6,1351.3C2389.2,1358.8 2391.8,1365.9 2393.9,1369.8C2395.9,1373.8 2398.4,1371.2 2400.8,1374.9C2403.3,1378.7 2405.8,1387 2408.3,1392.4C2410.8,1397.8 2413.5,1402.3 2415.8,1407.3C2418.1,1412.3 2419.9,1418.1 2422,1422.3C2424.1,1426.4 2424.7,1429.9 2428.2,1432.2C2431.8,1434.5 2440.1,1434.3 2443.2,1436C2446.3,1437.6 2446.9,1438.7 2446.9,1442.2C2446.9,1445.7 2445.5,1451.7 2443.2,1457.1C2440.9,1462.5 2437,1469.6 2433.2,1474.6C2429.5,1479.6 2425.3,1483.9 2420.8,1487C2416.2,1490.1 2410.8,1492 2405.8,1493.3C2400.8,1494.5 2395.5,1496.4 2390.9,1494.5C2386.3,1492.6 2382.2,1486.6 2378.4,1482C2374.7,1477.5 2371.8,1472.1 2368.5,1467.1C2365.1,1462.1 2362.2,1456.3 2358.5,1452.2C2354.8,1448 2351.4,1445.1 2346.1,1442.2C2340.7,1439.3 2331.5,1437.6 2326.1,1434.7C2320.7,1431.8 2318.7,1428.1 2313.7,1424.8C2308.7,1421.4 2302.9,1418.5 2296.2,1414.8C2289.6,1411.1 2280.9,1406.5 2273.8,1402.3C2266.8,1398.2 2261,1394 2253.9,1389.9C2246.8,1385.7 2237.7,1382 2231.5,1377.4C2225.3,1372.9 2220.3,1367.3 2216.5,1362.5C2212.7,1357.7 2212.6,1354.1 2208.7,1348.7C2204.7,1343.3 2197.7,1336.8 2192.8,1330.2C2188,1323.5 2184,1315.6 2179.6,1309C2175.2,1302.4 2171.2,1295.8 2166.3,1290.5C2161.5,1285.2 2157.1,1280.8 2150.5,1277.2C2143.9,1273.7 2133.7,1272.4 2126.7,1269.3C2119.6,1266.2 2113,1263.1 2108.1,1258.7C2103.3,1254.3 2100.4,1249.5 2097.6,1242.9C2094.7,1236.2 2092.5,1227.4 2091,1219C2089.4,1210.7 2088.7,1202.3 2088.3,1192.6C2087.9,1182.9 2087.2,1168.8 2088.3,1160.8C2089.4,1152.9 2092.1,1150.3 2094.9,1145C2097.8,1139.7 2101.5,1134.8 2105.5,1129.1C2109.5,1123.4 2115.2,1115.7 2118.7,1110.6C2122.3,1105.5 2124.9,1106.3 2126.7,1098.6C2128.4,1090.9 2129.1,1074.4 2129.3,1064.2C2129.5,1054.1 2128,1046.2 2128,1037.8C2128,1029.4 2129.5,1020.6 2129.3,1014C2129.1,1007.4 2128.4,1002.9 2126.7,998.1C2124.9,993.2 2120.7,989.7 2118.7,984.9C2116.7,980 2115.7,974.1 2114.8,969C2113.8,964 2113.5,959.1 2113,954.8C2112.5,950.4 2112.1,946.8 2111.8,942.9C2111.5,938.9 2111.3,934.9 2111.2,931C2111.1,927 2110.8,923 2111.2,919C2111.6,915.1 2112.6,911.1 2113.6,907.1C2114.6,903.2 2116.1,898.6 2117.1,895.2C2118.2,891.9 2118.9,888.8 2120.1,886.9Z" fill="#7fc6d3" fill-opacity="0.3" stroke="#000" stroke-width="1.75" stroke-dasharray="3.6 2.9"/>
<path d="M2045.7,960.1C2045.9,959.2 2051.8,955.2 2051.7,952.4C2051.5,949.6 2046.6,943.7 2044.5,940.5C2042.5,937.2 2039.8,932.7 2037.4,929.8C2035,926.9 2030,923.5 2027.9,920.2C2025.7,917 2023.4,910.4 2022.5,907.1C2021.6,903.9 2021.3,900.3 2021.9,897.6C2022.5,894.9 2024.7,891 2026.7,888.1C2028.6,885.2 2033.6,881.1 2035.6,877.4C2037.6,873.6 2039.5,865.8 2041,861.9C2042.4,858 2044.1,853.4 2045.7,850C2047.3,846.6 2051,841.1 2052.3,838.1C2053.5,835.1 2052.9,831.4 2054.6,829.2C2056.4,827 2061.4,824.4 2064.8,822.6C2068.1,820.8 2074.1,817.9 2077.9,816.7C2081.6,815.4 2087.4,813.8 2091,813.7C2094.5,813.6 2099.8,814.8 2102.9,816.1C2105.9,817.3 2110.2,820.2 2112.4,822.6C2114.6,825.1 2117.1,830.1 2118.3,833.3C2119.6,836.6 2120.6,841.5 2121.3,845.2C2122,849 2122.8,855.8 2123.1,859.5C2123.4,863.3 2123.8,868.9 2123.7,871.4C2123.6,874 2123.4,877 2122.5,877.4C2121.6,877.7 2118.8,874.7 2117.1,873.8C2115.5,873 2112.9,871.3 2111.2,871.4C2109.5,871.5 2106.9,873.6 2105.2,874.4C2103.5,875.3 2101.2,876.7 2099.3,877.4C2097.4,878.1 2092.7,878 2092.1,879.2C2091.5,880.4 2094.5,883.6 2095.1,885.7C2095.7,887.8 2096.3,891.3 2096.3,894C2096.3,896.8 2095.7,902 2095.1,904.8C2094.5,907.5 2093.3,910.9 2092.1,913.1C2091,915.3 2087.9,917.7 2086.8,920.2C2085.7,922.8 2084.9,928.1 2084.4,931C2083.9,933.8 2083.6,938.1 2083.2,940.5C2082.8,942.9 2082.4,945.9 2081.4,947.6C2080.5,949.3 2078.7,951.3 2076.7,952.4C2074.6,953.5 2069.9,954.8 2067.1,955.4C2064.4,956 2060,956 2057.6,956.5C2055.2,957.1 2052.2,958.4 2050.5,958.9C2048.8,959.4 2045.5,961.1 2045.7,960.1Z" fill="#767374" fill-opacity="0.5" stroke="#000" stroke-width="1.75" stroke-dasharray="3.6 2.9"/>
<path d="M2092.1,879.2L2081.4,880" fill="none" stroke="#000" stroke-width="1.75" stroke-dasharray="3.6 2.9"/>
<path d="M2431.7,861.9C2432.3,860.5 2433.7,863.3 2435.2,864.3C2436.8,865.3 2440.2,867.8 2442.4,869C2444.6,870.3 2448.3,872.4 2450.7,873.2C2453.1,874.1 2456.7,874.5 2459,875C2461.4,875.5 2465.6,875.8 2467.4,876.8C2469.2,877.8 2470.8,880 2471.5,882.1C2472.3,884.3 2472.3,888.9 2472.7,891.7C2473.1,894.4 2474.2,898.5 2474.3,901.2C2474.4,903.9 2473.9,908 2473.3,910.7C2472.8,913.4 2471.5,918 2470.4,920.2C2469.2,922.4 2466.8,925 2465,926.2C2463.2,927.4 2460.1,928.3 2457.9,928.8C2455.6,929.3 2451.2,929.1 2449.5,929.8C2447.8,930.4 2447,932.2 2446,933.3C2444.9,934.4 2443.9,936.6 2442.4,937.5C2440.9,938.4 2438,939 2435.2,939.3C2432.5,939.6 2426.4,939.4 2423.3,939.5C2420.3,939.6 2416.2,940.3 2413.8,939.9C2411.4,939.5 2408.2,938.5 2406.7,936.9C2405.1,935.3 2403.8,931.1 2403.1,928.6C2402.4,926 2401.9,921.6 2401.9,919C2401.9,916.5 2402.4,912.8 2403.1,910.7C2403.8,908.7 2404.8,906.1 2406.7,904.8C2408.5,903.4 2414,902.4 2416.2,901.2C2418.4,900 2420.9,898 2422.1,896.4C2423.4,894.9 2424.2,892.3 2425.1,890.5C2426.1,888.6 2427.9,885.7 2428.7,883.3C2429.5,881 2430.3,876.9 2430.7,873.8C2431.1,870.7 2431,863.3 2431.7,861.9Z" fill="#f7b11d" fill-opacity="0.51" stroke="#000" stroke-width="1.75" stroke-dasharray="3.6 2.9"/>
<path d="M2036,1389.9C2035.6,1387 2036.5,1384.2 2038.5,1382.4C2040.4,1380.6 2046.8,1379.2 2049.7,1377.4C2052.5,1375.7 2054.8,1371.8 2058.4,1370C2061.9,1368.1 2069.4,1365.5 2074.6,1364.5C2079.7,1363.5 2088.1,1362.7 2094.5,1363C2100.9,1363.2 2113,1365.1 2119.4,1366.2C2125.8,1367.4 2134.7,1369.4 2139.3,1371.2C2144,1373 2147.5,1377.1 2151.8,1378.7C2156.1,1380.3 2165.8,1380.5 2169.2,1382.4C2172.6,1384.4 2175.1,1389.2 2175.4,1392.4C2175.8,1395.6 2173.5,1401.3 2171.7,1404.8C2169.9,1408.4 2164.9,1413.4 2163,1417.3C2161,1421.2 2158.5,1429 2158,1432.2C2157.5,1435.4 2156.2,1437.6 2159.3,1439.7C2162.3,1441.8 2175.3,1444.7 2179.2,1447.2C2183.1,1449.7 2184.9,1453.2 2186.7,1457.1C2188.4,1461 2190.6,1469.6 2191.6,1474.6C2192.7,1479.6 2193.9,1487.4 2194.1,1492C2194.3,1496.6 2194.3,1503.2 2192.9,1506.9C2191.5,1510.7 2187.2,1515.8 2184.2,1518.2C2181.1,1520.5 2175.3,1522.2 2171.7,1523.1C2168.1,1524 2164.6,1525.1 2159.3,1524.4C2153.9,1523.7 2140.8,1520.1 2134.3,1518.2C2127.9,1516.2 2118,1513.4 2114.4,1510.7C2110.9,1508 2110.2,1503.9 2109.4,1499.5C2108.7,1495 2109.3,1484.5 2108.9,1479.6C2108.6,1474.6 2107.9,1468 2106.9,1464.6C2106,1461.2 2105.2,1458 2102,1455.9C2098.8,1453.8 2089.5,1451.4 2084.5,1449.7C2079.6,1447.9 2071.5,1445.7 2067.1,1443.4C2062.7,1441.1 2056.6,1436.9 2053.4,1433.5C2050.2,1430.1 2046.5,1424.2 2044.7,1419.8C2042.9,1415.3 2042.2,1406.6 2040.9,1402.3C2039.7,1398.1 2036.3,1392.7 2036,1389.9Z" fill="#ff0000" fill-opacity="0.4" stroke="#000" stroke-width="1.75" stroke-dasharray="3.6 2.9"/>
<text x="2119.2" y="844.9" font-size="37.4" text-anchor="middle" fill="#000" >c d e f</text>
<text x="2257.4" y="888.3" font-size="33.3" text-anchor="middle" fill="#000" >1 cm</text>
<text x="2162.3" y="946.8" font-size="37.4" text-anchor="middle" fill="#000" >a b</text>
<text x="2255.4" y="1150" font-size="37.4" text-anchor="middle" fill="#000" >a b m h g</text>
<text x="2141.6" y="1410.2" font-size="37.4" text-anchor="middle" fill="#000" >i j k</text>
<text x="2457.1" y="920" font-size="37.4" text-anchor="middle" fill="#000" >l</text>
<text transform="translate(1986.3 994.7) scale(1 1.04)" font-size="37.4" text-anchor="start" fill="#000" >P7U1</text>
<text transform="translate(1986.3 1257.2) scale(1 1.04)" font-size="37.4" text-anchor="start" fill="#000" >P7U2</text>
<text transform="translate(1986 1534.4) scale(1 1.04)" font-size="37.4" text-anchor="start" fill="#000" >P7U3</text>
<text transform="translate(2431.1 994.7) scale(1 1.04)" font-size="37.4" text-anchor="start" fill="#000" >P7U4</text>
<text transform="translate(2431.1 1257.2) scale(1 1.04)" font-size="37.4" text-anchor="start" fill="#000" >P7U5</text>
<text transform="translate(2431.1 1534.4) scale(1 1.04)" font-size="37.4" text-anchor="start" fill="#000" >P7U6</text>
<text transform="translate(2080.4 1043.7) rotate(-90)" font-size="33.3" text-anchor="middle" fill="#000" >1 cm</text>
<text transform="translate(2080.4 1311.6) rotate(-90)" font-size="33.3" text-anchor="middle" fill="#000" >1 cm</text>
</g>
</svg>
</body></html>
